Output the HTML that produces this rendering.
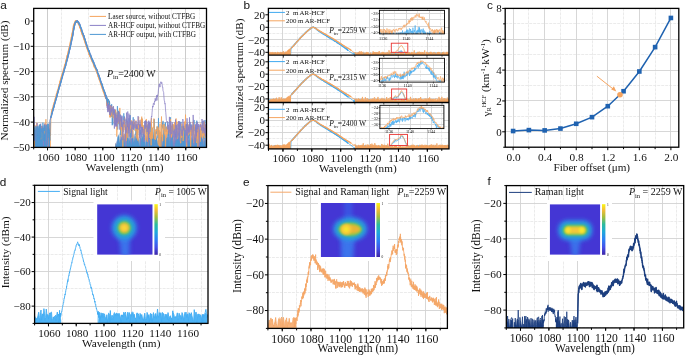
<!DOCTYPE html>
<html><head><meta charset="utf-8"><style>
html,body{margin:0;padding:0;background:#fff;}
svg{display:block;will-change:transform;}
text{fill:#111;}
</style></head><body>
<svg xmlns="http://www.w3.org/2000/svg" width="685" height="356" viewBox="0 0 685 356">
<defs><clipPath id="ca"><rect x="33.7" y="8.4" width="172.8" height="139"/></clipPath>
<clipPath id="cb0"><rect x="268.4" y="8.4" width="180.6" height="46.7"/></clipPath>
<clipPath id="ci0"><rect x="379.4" y="10.3" width="65.1" height="23.6"/></clipPath>
<clipPath id="cb1"><rect x="268.4" y="55.1" width="180.6" height="47.4"/></clipPath>
<clipPath id="ci1"><rect x="379.4" y="58.3" width="65.1" height="23.8"/></clipPath>
<clipPath id="cb2"><rect x="268.4" y="102.5" width="180.6" height="46.4"/></clipPath>
<clipPath id="ci2"><rect x="379.9" y="105.3" width="64" height="23.3"/></clipPath>
<linearGradient id="parula" x1="0" y1="1" x2="0" y2="0"><stop offset="0" stop-color="#3e26a8"/><stop offset="0.15" stop-color="#4450e8"/><stop offset="0.3" stop-color="#2d7ff5"/><stop offset="0.45" stop-color="#1fa8db"/><stop offset="0.6" stop-color="#2bbb9e"/><stop offset="0.75" stop-color="#a5be3c"/><stop offset="0.88" stop-color="#f3ba3a"/><stop offset="1" stop-color="#f9f814"/></linearGradient>
<clipPath id="cd"><rect x="34.6" y="185.3" width="173.4" height="138.1"/></clipPath>
<clipPath id="hmd"><rect x="97.1" y="204.2" width="55.6" height="50.6"/></clipPath>
<filter id="bld" x="-50%" y="-50%" width="200%" height="200%"><feGaussianBlur stdDeviation="2.2"/></filter>
<filter id="bsd" x="-50%" y="-50%" width="200%" height="200%"><feGaussianBlur stdDeviation="1.2"/></filter>
<clipPath id="ce"><rect x="267.9" y="185.6" width="179.5" height="142.8"/></clipPath>
<clipPath id="hme"><rect x="320.7" y="203" width="54.5" height="54"/></clipPath>
<filter id="ble" x="-50%" y="-50%" width="200%" height="200%"><feGaussianBlur stdDeviation="2.2"/></filter>
<filter id="bse" x="-50%" y="-50%" width="200%" height="200%"><feGaussianBlur stdDeviation="1.2"/></filter>
<clipPath id="cf"><rect x="506.3" y="185.6" width="177.4" height="142.3"/></clipPath>
<clipPath id="hmf"><rect x="549.7" y="204.2" width="50.6" height="50.6"/></clipPath>
<filter id="blf" x="-50%" y="-50%" width="200%" height="200%"><feGaussianBlur stdDeviation="2.2"/></filter>
<filter id="bsf" x="-50%" y="-50%" width="200%" height="200%"><feGaussianBlur stdDeviation="1.2"/></filter></defs>
<rect width="685" height="356" fill="#fff"/>
<line x1="61.5" y1="8.4" x2="61.5" y2="147.4" stroke="#e6e6e6" stroke-width="0.8" stroke-dasharray="3,1"/>
<line x1="88.5" y1="8.4" x2="88.5" y2="147.4" stroke="#e6e6e6" stroke-width="0.8" stroke-dasharray="3,1"/>
<line x1="144.5" y1="8.4" x2="144.5" y2="147.4" stroke="#e6e6e6" stroke-width="0.8" stroke-dasharray="3,1"/>
<line x1="171.5" y1="8.4" x2="171.5" y2="147.4" stroke="#e6e6e6" stroke-width="0.8" stroke-dasharray="3,1"/>
<line x1="199.5" y1="8.4" x2="199.5" y2="147.4" stroke="#e6e6e6" stroke-width="0.8" stroke-dasharray="3,1"/>
<line x1="33.7" y1="58.5" x2="206.5" y2="58.5" stroke="#e6e6e6" stroke-width="0.8" stroke-dasharray="3,1"/>
<line x1="33.7" y1="84.5" x2="206.5" y2="84.5" stroke="#e6e6e6" stroke-width="0.8" stroke-dasharray="3,1"/>
<line x1="33.7" y1="109.5" x2="206.5" y2="109.5" stroke="#e6e6e6" stroke-width="0.8" stroke-dasharray="3,1"/>
<line x1="33.7" y1="134.5" x2="206.5" y2="134.5" stroke="#e6e6e6" stroke-width="0.8" stroke-dasharray="3,1"/>
<line x1="47.5" y1="8.4" x2="47.5" y2="147.4" stroke="#c6c6c6" stroke-width="0.9" />
<line x1="130.5" y1="8.4" x2="130.5" y2="147.4" stroke="#c6c6c6" stroke-width="0.9" />
<line x1="158.5" y1="8.4" x2="158.5" y2="147.4" stroke="#c6c6c6" stroke-width="0.9" />
<line x1="185.5" y1="8.4" x2="185.5" y2="147.4" stroke="#c6c6c6" stroke-width="0.9" />
<line x1="33.7" y1="147.5" x2="206.5" y2="147.5" stroke="#c6c6c6" stroke-width="0.9" />
<line x1="33.7" y1="122.5" x2="206.5" y2="122.5" stroke="#c6c6c6" stroke-width="0.9" />
<line x1="33.7" y1="96.5" x2="206.5" y2="96.5" stroke="#c6c6c6" stroke-width="0.9" />
<line x1="33.7" y1="71.5" x2="206.5" y2="71.5" stroke="#c6c6c6" stroke-width="0.9" />
<line x1="33.7" y1="46.5" x2="206.5" y2="46.5" stroke="#c6c6c6" stroke-width="0.9" />
<g clip-path="url(#ca)">
<path d="M33.76,172.67L33.76,151.76L34.07,131.32L34.37,163.7L34.68,131.81L34.98,126.44L35.28,126.93L35.59,128.45L35.89,128.13L36.2,135.86L36.5,133.19L36.8,124.02L37.11,130.4L37.41,128.21L37.72,133.06L38.02,135.03L38.32,129.71L38.63,131.51L38.93,129.69L39.24,126.58L39.54,127.43L39.85,129.37L40.15,125.78L40.45,136.21L40.76,140.61L41.06,135.3L41.37,130.63L41.67,127.23L41.97,140.76L42.28,128.07L42.58,134.23L42.89,142.66L43.19,138.2L43.49,136.06L43.8,135.46L44.1,135.26L44.41,124.77L44.71,134.19L45.02,129.77L45.32,134.22L45.62,132.61L45.93,120.47L46.23,141.5L46.54,125.86L46.84,134.38L47.14,137.01L47.45,127.85L47.75,135.22L48.06,130.25L48.36,152L48.67,129.58L48.97,127.79L49.27,128.12L49.58,126.25L49.88,124.89L50.19,124.23L50.49,137.23L50.79,127.11L50.79,172.67Z" fill="#f5a45c" fill-opacity="1.0"/>
<path d="M115.27,172.67L115.27,144.52L115.57,142.21L115.88,144.27L116.18,143.76L116.49,144.43L116.79,151.8L117.09,138.74L117.4,137.02L117.7,142.65L118.01,139.32L118.31,137.69L118.61,142.29L118.92,144.39L119.22,134.19L119.53,139.06L119.83,157.43L120.14,153.51L120.44,131.82L120.74,137.56L121.05,132.4L121.35,136.3L121.66,142.79L121.96,136.91L122.26,134.41L122.57,133.85L122.87,147.66L123.18,136.28L123.48,134.05L123.78,137.22L124.09,133.95L124.39,133.27L124.7,134.01L125,134.17L125.31,148.81L125.61,143.05L125.91,142.35L126.22,135.12L126.52,140.66L126.83,140.62L127.13,150.06L127.43,147.27L127.74,137.76L128.04,136.17L128.35,151.34L128.65,140.75L128.95,135.27L129.26,137.08L129.56,147.72L129.87,133.12L130.17,132.53L130.48,145.9L130.78,137.28L131.08,144.15L131.39,130.56L131.69,135.98L132,133.74L132.3,137.82L132.6,132.01L132.91,137.49L133.21,135.95L133.52,153.14L133.82,134.44L134.13,135.7L134.43,140.22L134.73,146.9L135.04,134.38L135.34,129.47L135.65,147L135.95,137.67L136.25,133.14L136.56,137.42L136.86,147.56L137.17,137.67L137.47,143.22L137.77,140.54L138.08,140.65L138.38,138.38L138.69,136.73L138.99,133.82L139.3,151.24L139.6,137.46L139.9,145.83L140.21,137.58L140.51,137.36L140.82,143.62L141.12,133.21L141.42,141.54L141.73,135.77L142.03,141.41L142.34,128.25L142.64,141.26L142.94,130.68L143.25,136.18L143.55,133.88L143.86,138.79L144.16,143.49L144.47,138.29L144.77,140.87L145.07,130.54L145.38,150.04L145.68,149.11L145.99,139.87L146.29,138.85L146.59,131.18L146.9,134.57L147.2,141.8L147.51,134.77L147.81,139.5L148.11,132.02L148.42,134.04L148.72,141.52L149.03,138.39L149.33,133.25L149.64,137.32L149.94,143.08L150.24,136.57L150.55,139L150.85,134.81L151.16,145.38L151.46,138.9L151.76,138.53L152.07,135.29L152.37,141.31L152.68,138.47L152.98,137.64L153.29,149.22L153.59,133.5L153.89,136.43L154.2,162.79L154.5,130.28L154.81,139.15L155.11,135.92L155.41,139.89L155.72,150.5L156.02,141.12L156.33,141.77L156.63,138.38L156.93,133.67L157.24,135.77L157.54,143.13L157.85,139.1L158.15,136.03L158.46,141.22L158.76,145.48L159.06,137.54L159.37,147.92L159.67,149.11L159.98,133.8L160.28,140.03L160.58,132.59L160.89,149.13L161.19,138.12L161.5,132.25L161.8,136.29L162.1,137.15L162.41,134.86L162.71,157.47L163.02,143.48L163.32,129.6L163.63,137.28L163.93,131.4L164.23,139.48L164.54,138.74L164.84,142.57L165.15,138.14L165.45,153.63L165.75,145.4L166.06,137.39L166.36,137.82L166.67,137.75L166.97,147.54L167.28,139.39L167.58,141.29L167.88,141.32L168.19,148.94L168.49,132.97L168.8,134.74L169.1,147.86L169.4,144.97L169.71,133.9L170.01,131.77L170.32,132.21L170.62,130.71L170.92,138.08L171.23,152L171.53,137.23L171.84,139.1L172.14,135.19L172.45,137.9L172.75,133.08L173.05,134.18L173.36,136.46L173.66,141.45L173.97,143.56L174.27,141.24L174.57,134.04L174.88,137.8L175.18,134.11L175.49,144.23L175.79,140.04L176.09,139.52L176.4,133.82L176.7,143.36L177.01,138.43L177.31,139.05L177.62,149.67L177.92,136.24L178.22,136.73L178.53,137.06L178.83,144.86L179.14,141.09L179.44,138.25L179.74,144.88L180.05,137.98L180.35,138.41L180.66,143.27L180.96,143.95L181.26,135.92L181.57,137.76L181.87,141.19L182.18,130.7L182.48,140.37L182.79,132.5L183.09,141.06L183.39,144.88L183.7,147.8L184,134.33L184.31,131.19L184.61,136.08L184.91,133.52L185.22,136.85L185.52,134.59L185.83,137.1L186.13,139.41L186.44,142.81L186.74,156.93L187.04,139.98L187.35,134.45L187.65,134.17L187.96,143.69L188.26,139.67L188.56,138.11L188.87,143.11L189.17,138.38L189.48,149.66L189.78,132.15L190.08,153.59L190.39,138.05L190.69,148.77L191,131.89L191.3,147.66L191.61,136.09L191.91,141.81L192.21,135.05L192.52,145.96L192.82,141.23L193.13,144.64L193.43,136.83L193.73,150.05L194.04,139.02L194.34,134.91L194.65,134.03L194.95,137.89L195.25,137.9L195.56,154.02L195.86,136.7L196.17,143.31L196.47,142.85L196.78,129.41L197.08,138.58L197.38,137.04L197.69,142.22L197.99,151.26L198.3,134.88L198.6,139.79L198.9,142.71L199.21,148.48L199.51,137.58L199.82,139.73L200.12,141.73L200.42,136.95L200.73,129.24L201.03,139.59L201.34,145.01L201.64,132.63L201.95,139.43L202.25,137.72L202.55,139.91L202.86,157.24L203.16,137.32L203.47,135.85L203.77,135.92L204.07,147.29L204.38,143.97L204.68,138.65L204.99,144.62L205.29,134.37L205.6,134.02L205.9,142.02L206.2,135.69L206.51,137.9L206.51,172.67Z" fill="#f5a45c" fill-opacity="1.0"/>
<path d="M33.79,172.67L33.79,126.59L34.09,118.03L34.39,142.21L34.7,133.99L35,131.2L35.31,136.74L35.61,141.99L35.91,131.28L36.22,133.65L36.52,128.81L36.83,136.83L37.13,124.34L37.43,131.5L37.74,134.34L38.04,134.1L38.35,135.41L38.65,134.09L38.96,128.07L39.26,127.87L39.56,133.03L39.87,126.29L40.17,137.01L40.48,125.51L40.78,124.92L41.08,128.75L41.39,133.36L41.69,132.03L42,127.15L42.3,132.94L42.6,134.42L42.91,129.46L43.21,134.04L43.52,147.34L43.82,127.55L44.13,127.27L44.43,126.02L44.73,130.53L45.04,125.01L45.34,130.57L45.65,133.1L45.95,138.69L46.25,145.85L46.56,134.79L46.86,125.82L47.17,128.57L47.47,135.43L47.78,143.24L48.08,155.38L48.38,128.16L48.69,133.96L48.99,132.59L49.3,130.93L49.6,135.53L49.6,172.67Z" fill="#8a80c6" fill-opacity="1.0"/>
<path d="M115.29,172.67L115.29,149.77L115.6,142.99L115.9,143.22L116.2,145.33L116.51,144.66L116.81,141.43L117.12,137.43L117.42,141.98L117.72,139.02L118.03,142.13L118.33,134.74L118.64,135.7L118.94,136.82L119.25,143.57L119.55,143.57L119.85,142.63L120.16,126.14L120.46,134.87L120.77,140.4L121.07,137.72L121.37,142.74L121.68,132.67L121.98,135.1L122.29,141.35L122.59,143.87L122.89,144.11L123.2,134.78L123.5,145.68L123.81,133.64L124.11,129.74L124.42,138.37L124.72,139.43L125.02,145.91L125.33,135.7L125.63,149.67L125.94,150.46L126.24,135.44L126.54,132.69L126.85,153.5L127.15,137.37L127.46,130.33L127.76,135.26L128.06,138.51L128.37,138.14L128.67,138.82L128.98,143.22L129.28,140.49L129.59,133.24L129.89,144L130.19,143.34L130.5,138.5L130.8,138.11L131.11,138.34L131.41,135.17L131.71,138.56L132.02,138.12L132.32,139.56L132.63,137.28L132.93,142.21L133.24,141.91L133.54,129.84L133.84,141.82L134.15,141.04L134.45,132.77L134.76,141.16L135.06,139.23L135.36,149.72L135.67,134.87L135.97,132.67L136.28,134.24L136.58,135.37L136.88,130.89L137.19,148.76L137.49,135.32L137.8,134.53L138.1,143.34L138.41,142.14L138.71,142.69L139.01,130.2L139.32,154.23L139.62,152.4L139.93,136.78L140.23,133.29L140.53,132.54L140.84,137.81L141.14,140L141.45,138.22L141.75,143.52L142.05,140.69L142.36,135.1L142.66,139.14L142.97,135L143.27,131.81L143.58,137.02L143.88,141.26L144.18,142.18L144.49,142.45L144.79,137.05L145.1,136.72L145.4,135.16L145.7,147.12L146.01,142.73L146.31,130.03L146.62,136.38L146.92,141.86L147.22,141.59L147.53,138.08L147.83,134.75L148.14,133.74L148.44,144.2L148.75,147.28L149.05,151.95L149.35,145.14L149.66,129.44L149.96,137.21L150.27,131.66L150.57,135.19L150.87,146.54L151.18,143.83L151.48,134.43L151.79,135.73L152.09,131.48L152.4,130.71L152.7,134.05L153,135.15L153.31,142.6L153.61,133.45L153.92,135.67L154.22,135.74L154.52,150.3L154.83,138.59L155.13,134.75L155.44,135.27L155.74,128.34L156.04,133.35L156.35,137.44L156.65,148.46L156.96,135.47L157.26,152.44L157.57,144.15L157.87,146.23L158.17,134.78L158.48,135.73L158.78,133.8L159.09,145.28L159.39,131.06L159.69,138.04L160,146.47L160.3,137.07L160.61,145.17L160.91,141.1L161.21,139.18L161.52,141.21L161.82,134.25L162.13,137.22L162.43,149.38L162.74,136.34L163.04,139.01L163.34,131.89L163.65,136.64L163.95,140.53L164.26,146.95L164.56,135.4L164.86,136.1L165.17,135.02L165.47,137.41L165.78,144.51L166.08,135.83L166.38,129.18L166.69,149.16L166.99,138.3L167.3,130.11L167.6,130.57L167.91,140.48L168.21,131.96L168.51,140.17L168.82,158.21L169.12,137.71L169.43,150.84L169.73,133.27L170.03,137.83L170.34,139.57L170.64,138.24L170.95,134.61L171.25,136.72L171.56,141.16L171.86,137.22L172.16,141.6L172.47,136.85L172.77,135.69L173.08,137.3L173.38,141.78L173.68,144.9L173.99,146.56L174.29,145.48L174.6,137.9L174.9,143.34L175.2,139.73L175.51,139.56L175.81,140.94L176.12,137.82L176.42,143.01L176.73,140.31L177.03,136.03L177.33,140.3L177.64,140.69L177.94,137.32L178.25,139.65L178.55,132.36L178.85,140.65L179.16,129.98L179.46,145.13L179.77,141.42L180.07,141.8L180.37,141.36L180.68,130.61L180.98,142.14L181.29,135.18L181.59,138.5L181.9,135.92L182.2,132.89L182.5,135.54L182.81,147.96L183.11,142.33L183.42,145.18L183.72,134.56L184.02,150.94L184.33,143.19L184.63,138.62L184.94,145.92L185.24,141.56L185.55,139.64L185.85,142.64L186.15,128.22L186.46,135.34L186.76,144.9L187.07,144.62L187.37,144.82L187.67,140.69L187.98,135.71L188.28,136.56L188.59,138.39L188.89,140.76L189.19,151.28L189.5,139.84L189.8,133.97L190.11,136.11L190.41,146.48L190.72,132.91L191.02,140.97L191.32,139.72L191.63,140.39L191.93,138.52L192.24,139.87L192.54,146.37L192.84,135.78L193.15,132.24L193.45,134.25L193.76,142.22L194.06,144.99L194.36,147.02L194.67,140.52L194.97,133.95L195.28,134.03L195.58,132.65L195.89,141.38L196.19,140.21L196.49,139.04L196.8,132.99L197.1,140.95L197.41,147.46L197.71,143.99L198.01,140.77L198.32,133.09L198.62,152.58L198.93,131.92L199.23,148.05L199.53,138.02L199.84,140.89L200.14,140.19L200.45,138.55L200.75,158.8L201.06,132.18L201.36,136.67L201.66,135.31L201.97,138.55L202.27,138.39L202.58,126.96L202.88,142.2L203.18,141.07L203.49,148.58L203.79,134.26L204.1,141.96L204.4,132.85L204.71,136.67L205.01,134.48L205.31,139.87L205.62,153.2L205.92,134.06L206.23,131.92L206.53,136.6L206.53,172.67Z" fill="#8a80c6" fill-opacity="1.0"/>
<path d="M33.77,172.67L33.77,127.12L34.08,134.74L34.38,130.1L34.69,128.87L34.99,141.55L35.29,131.78L35.6,131.38L35.9,127.45L36.21,130.7L36.51,145.01L36.81,148.23L37.12,128.04L37.42,136.65L37.73,138.54L38.03,127.32L38.33,136.97L38.64,129.96L38.94,132.63L39.25,126.09L39.55,127.48L39.86,142.24L40.16,125.3L40.46,139.43L40.77,129.73L41.07,145.9L41.38,139.61L41.68,132.38L41.98,129.71L42.29,137.32L42.59,148.33L42.9,123.97L43.2,137.39L43.51,141.82L43.81,129.14L44.11,132.28L44.42,126.62L44.72,131.78L45.03,132.99L45.33,142.22L45.63,129.85L45.94,126.63L46.24,130.24L46.55,131.81L46.85,134.43L47.15,145.2L47.46,146.15L47.76,125.21L48.07,138.75L48.37,124.96L48.68,134.59L48.98,131.01L49.28,152.05L49.59,133.41L49.89,141.79L49.89,172.67Z" fill="#4e97d3" fill-opacity="1.0"/>
<path d="M115.28,172.67L115.28,149.19L115.58,143.02L115.89,144.01L116.19,145.8L116.5,141.09L116.8,141.75L117.1,145.18L117.41,136.98L117.71,136.29L118.02,135.04L118.32,134.92L118.62,137.46L118.93,134.23L119.23,131.86L119.54,140.72L119.84,143.61L120.15,139.77L120.45,139.59L120.75,142.46L121.06,154.62L121.36,131.83L121.67,135.35L121.97,137.49L122.27,140.44L122.58,136.67L122.88,135.01L123.19,134.65L123.49,136.78L123.79,139.36L124.1,143.84L124.4,141.3L124.71,143.56L125.01,135.31L125.32,146.97L125.62,139.68L125.92,130.86L126.23,132.11L126.53,132.71L126.84,154.93L127.14,137.61L127.44,139.39L127.75,133.78L128.05,141.24L128.36,141.3L128.66,146.16L128.97,140.02L129.27,141.15L129.57,128.98L129.88,141.59L130.18,132.46L130.49,137.75L130.79,143.95L131.09,140.64L131.4,143.7L131.7,145.71L132.01,137.99L132.31,137.82L132.61,139L132.92,134.42L133.22,145.59L133.53,129.84L133.83,144.89L134.14,132.16L134.44,147.21L134.74,134.59L135.05,134.78L135.35,142.53L135.66,131.37L135.96,137.02L136.26,133.63L136.57,142.78L136.87,146.83L137.18,135.75L137.48,139.02L137.78,135.08L138.09,144.47L138.39,140.06L138.7,137.94L139,145.86L139.31,145.47L139.61,135.85L139.91,134.5L140.22,142.04L140.52,152.84L140.83,142.52L141.13,140.89L141.43,131.18L141.74,131.48L142.04,136.03L142.35,138.62L142.65,134.19L142.96,134.16L143.26,138.88L143.56,133.15L143.87,152.58L144.17,137.06L144.48,138.59L144.78,133.12L145.08,140.84L145.39,147.2L145.69,145.98L146,134.95L146.3,138.7L146.6,140.88L146.91,137.44L147.21,151.05L147.52,139.62L147.82,138.56L148.13,157.05L148.43,141.96L148.73,138.08L149.04,133.2L149.34,138.88L149.65,141.95L149.95,135.69L150.25,139.39L150.56,138.67L150.86,152.38L151.17,132.3L151.47,145.36L151.77,133.12L152.08,138.77L152.38,137.46L152.69,136.67L152.99,134.84L153.3,137.43L153.6,141.79L153.9,139.64L154.21,143.86L154.51,141.22L154.82,144.77L155.12,151.56L155.42,141.35L155.73,134.14L156.03,133.3L156.34,136.65L156.64,139.36L156.94,137.81L157.25,143.99L157.55,145.55L157.86,139.33L158.16,135.01L158.47,137.9L158.77,135.42L159.07,149.01L159.38,136.73L159.68,142.23L159.99,142.57L160.29,139.94L160.59,144.87L160.9,141.32L161.2,140.9L161.51,146.38L161.81,134.01L162.12,146.34L162.42,143.65L162.72,139.2L163.03,142.05L163.33,136.13L163.64,146.03L163.94,143.6L164.24,135.32L164.55,152.46L164.85,141.86L165.16,133.79L165.46,158.64L165.76,138.7L166.07,144.53L166.37,135.7L166.68,136.31L166.98,136.94L167.29,136.15L167.59,143.93L167.89,129.75L168.2,140.89L168.5,133.55L168.81,151.51L169.11,134.26L169.41,133.58L169.72,142.43L170.02,158.95L170.33,141.09L170.63,130.61L170.93,143.44L171.24,135.69L171.54,141.23L171.85,133.24L172.15,139.52L172.46,146.99L172.76,131.84L173.06,138.92L173.37,140.93L173.67,145.06L173.98,149.76L174.28,140.56L174.58,140.96L174.89,133.27L175.19,143.76L175.5,140.21L175.8,138.83L176.1,139.66L176.41,131.63L176.71,136.05L177.02,141.03L177.32,132.82L177.63,143.82L177.93,137.46L178.23,135.25L178.54,139.15L178.84,144.35L179.15,139.55L179.45,147.87L179.75,142.23L180.06,141.39L180.36,134.82L180.67,149.45L180.97,133.89L181.28,140.96L181.58,141.55L181.88,142.68L182.19,146.07L182.49,144.92L182.8,140.02L183.1,135.91L183.4,140.66L183.71,132.59L184.01,139.58L184.32,129.7L184.62,132.09L184.92,141.55L185.23,139.19L185.53,133.31L185.84,163.39L186.14,138.34L186.45,135.12L186.75,145.66L187.05,139.02L187.36,136.57L187.66,134.86L187.97,136.98L188.27,142.71L188.57,140.22L188.88,134.08L189.18,143.41L189.49,131.08L189.79,136.41L190.09,137.13L190.4,151.59L190.7,139.16L191.01,131.73L191.31,146.74L191.62,132.36L191.92,138.54L192.22,130.3L192.53,137.22L192.83,139.19L193.14,140.92L193.44,149.66L193.74,144.74L194.05,140.45L194.35,132.88L194.66,136.4L194.96,133.9L195.27,141.72L195.57,133.31L195.87,140.44L196.18,150.08L196.48,136.72L196.79,139.25L197.09,136.53L197.39,133.29L197.7,136.17L198,149.92L198.31,136.13L198.61,138.14L198.91,152.66L199.22,136.22L199.52,135.04L199.83,152.34L200.13,133.9L200.44,140.26L200.74,136.78L201.04,143.65L201.35,138.54L201.65,136.33L201.96,152.81L202.26,132.63L202.56,139.74L202.87,140.33L203.17,146.1L203.48,144.07L203.78,129.43L204.08,138.7L204.39,141.43L204.69,140.84L205,144.26L205.3,136.82L205.61,134.76L205.91,152.78L206.21,148.08L206.52,135.18L206.52,172.67Z" fill="#4e97d3" fill-opacity="1.0"/>
<path d="M33.76,150.5L34.07,130.06L34.37,162.43L34.68,130.54L34.98,125.18L35.28,125.67L35.59,127.18L35.89,126.86L36.2,134.6L36.5,131.93L36.8,122.76L37.11,129.14L37.41,126.94L37.72,131.8L38.02,133.77L38.32,128.44L38.63,130.25L38.93,128.43L39.24,125.31L39.54,126.16L39.85,128.1L40.15,124.52L40.45,134.94L40.76,139.35L41.06,134.03L41.37,129.37L41.67,125.97L41.97,139.5L42.28,126.81L42.58,132.97L42.89,141.4L43.19,136.94L43.49,134.8L43.8,134.2L44.1,134L44.41,123.51L44.71,132.93L45.02,128.51L45.32,132.96L45.62,131.35L45.93,119.21L46.23,140.24L46.54,124.6L46.84,133.11L47.14,135.74L47.45,126.59L47.75,133.96L48.06,128.98L48.36,150.74L48.67,128.31L48.97,126.53L49.27,126.86L49.58,124.98L49.88,123.63L50.19,122.96L50.49,135.97L50.79,125.85L51.1,113.62L51.4,113.11L51.71,111.58L52.01,110.29L52.31,109.55L52.62,108.27L52.92,107.85L53.23,106.48L53.53,104.81L53.84,104.43L54.14,102.66L54.44,102.36L54.75,101.09L55.05,100.08L55.36,98.58L55.66,97.29L55.96,96.82L56.27,95.4L56.57,93.63L56.88,93.28L57.18,92.39L57.48,90.85L57.79,90L58.09,89.09L58.4,88.42L58.7,86.35L59.01,85.79L59.31,84.49L59.61,83.81L59.92,81.83L60.22,80.95L60.53,79.78L60.83,79.11L61.13,77.81L61.44,76.59L61.74,75.47L62.05,74.68L62.35,73.77L62.66,72.83L62.96,71.92L63.26,70.95L63.57,69.39L63.87,68.56L64.18,68.16L64.48,66.4L64.78,64.86L65.09,64.28L65.39,63.78L65.7,62.02L66,60.56L66.3,59.65L66.61,58.75L66.91,56.72L67.22,55.53L67.52,55.09L67.83,53.52L68.13,52.43L68.43,51.01L68.74,49.46L69.04,48.37L69.35,47.3L69.65,46.21L69.95,44.87L70.26,43.14L70.56,41.23L70.87,40.07L71.17,38.65L71.47,37.04L71.78,35.57L72.08,33.74L72.39,32.58L72.69,31.07L73,28.73L73.3,27.44L73.6,25.13L73.91,24.68L74.21,23.71L74.52,23.37L74.82,22.09L75.12,21.94L75.43,20.87L75.73,20.74L76.04,21.35L76.34,21.04L76.64,22.44L76.95,21.91L77.25,21.46L77.56,22L77.86,22.66L78.17,23.22L78.47,24.32L78.77,24.95L79.08,25.07L79.38,25.24L79.69,27.5L79.99,27.29L80.29,28.19L80.6,28.98L80.9,30.61L81.21,31.4L81.51,32.08L81.82,33.35L82.12,34.27L82.42,34.97L82.73,35.49L83.03,36.15L83.34,37.15L83.64,37.99L83.94,39.18L84.25,40.14L84.55,40.44L84.86,41.9L85.16,42.93L85.46,43.56L85.77,44.43L86.07,45.36L86.38,46.57L86.68,47.6L86.99,48.31L87.29,49.17L87.59,49.51L87.9,50.71L88.2,51.36L88.51,52.37L88.81,52.6L89.11,54.64L89.42,54.46L89.72,55.05L90.03,56.52L90.33,56L90.63,57.6L90.94,58.35L91.24,59.44L91.55,59.44L91.85,60.41L92.16,61.44L92.46,61.84L92.76,62.37L93.07,62.87L93.37,63.95L93.68,65.09L93.98,65.63L94.28,67L94.59,67.11L94.89,67.26L95.2,68.08L95.5,69.03L95.8,69.86L96.11,69.88L96.41,71.14L96.72,71.69L97.02,72.69L97.33,73.92L97.63,73.92L97.93,75.84L98.24,76.7L98.54,77.3L98.85,78.3L99.15,79.14L99.45,80.05L99.76,80.35L100.06,81.6L100.37,82.37L100.67,83.99L100.98,84.59L101.28,84.75L101.58,86.51L101.89,86.5L102.19,88.24L102.5,88.63L102.8,89.96L103.1,90.45L103.41,91.75L103.71,92.38L104.02,92.52L104.32,94.13L104.62,93.78L104.93,95.89L105.23,97.16L105.54,97.17L105.84,98.34L106.15,97.62L106.45,98.54L106.75,99.72L107.06,105.65L107.36,98.67L107.67,101.22L107.97,101.59L108.27,103.94L108.58,108.06L108.88,106.87L109.19,111.02L109.49,105.58L109.79,109.17L110.1,117.37L110.4,105.72L110.71,115.92L111.01,116.54" fill="none" stroke="#f5a45c" stroke-width="0.75" stroke-linejoin="round" />
<path d="M33.79,125.32L34.09,116.77L34.39,140.95L34.7,132.72L35,129.94L35.31,135.48L35.61,140.73L35.91,130.02L36.22,132.39L36.52,127.54L36.83,135.57L37.13,123.07L37.43,130.24L37.74,133.07L38.04,132.84L38.35,134.15L38.65,132.83L38.96,126.8L39.26,126.61L39.56,131.76L39.87,125.03L40.17,135.75L40.48,124.25L40.78,123.66L41.08,127.49L41.39,132.1L41.69,130.76L42,125.89L42.3,131.68L42.6,133.16L42.91,128.2L43.21,132.78L43.52,146.08L43.82,126.29L44.13,126.01L44.43,124.75L44.73,129.27L45.04,123.75L45.34,129.31L45.65,131.84L45.95,137.43L46.25,144.59L46.56,133.53L46.86,124.56L47.17,127.31L47.47,134.17L47.78,141.97L48.08,154.12L48.38,126.9L48.69,132.69L48.99,131.32L49.3,129.67L49.6,134.26L49.9,120.75L50.21,119.61L50.51,118.26L50.82,117.24L51.12,116.5L51.42,115.89L51.73,114.65L52.03,113.32L52.34,112.09L52.64,111.13L52.95,109.76L53.25,109.27L53.55,108.07L53.86,107.32L54.16,104.98L54.47,104.72L54.77,103.21L55.07,102.02L55.38,101.28L55.68,100.4L55.99,99.44L56.29,98.26L56.59,97.74L56.9,96.2L57.2,94.62L57.51,93.72L57.81,92.43L58.12,91.36L58.42,90.31L58.72,89.45L59.03,88.34L59.33,86.97L59.64,86.38L59.94,85.68L60.24,83.76L60.55,82.98L60.85,81.49L61.16,81.07L61.46,80.37L61.76,78.72L62.07,77.83L62.37,76.89L62.68,74.87L62.98,74.3L63.29,73.8L63.59,72.91L63.89,71.28L64.2,69.96L64.5,69.02L64.81,67.62L65.11,66.88L65.41,65.75L65.72,65.58L66.02,63.27L66.33,62.88L66.63,61.2L66.94,61.03L67.24,59.64L67.54,57.7L67.85,57.45L68.15,55.73L68.46,54.74L68.76,52.7L69.06,51.96L69.37,50.33L69.67,49.53L69.98,48.83L70.28,46.05L70.58,45.66L70.89,44.01L71.19,42.6L71.5,41.72L71.8,39.35L72.11,38.25L72.41,37.24L72.71,35.57L73.02,34.17L73.32,31.79L73.63,29.75L73.93,28.34L74.23,26.52L74.54,25.46L74.84,24.04L75.15,23.28L75.45,22.6L75.75,22.31L76.06,21.99L76.36,21.52L76.67,20.88L76.97,21.27L77.28,20.69L77.58,21.17L77.88,22.25L78.19,21.87L78.49,21.95L78.8,23.12L79.1,22.91L79.4,24.26L79.71,24.06L80.01,25.19L80.32,26.24L80.62,27.59L80.93,27.86L81.23,29.02L81.53,29.52L81.84,30.93L82.14,31.32L82.45,32.57L82.75,33.02L83.05,33.76L83.36,34.84L83.66,35.54L83.97,36.15L84.27,37.79L84.57,38.08L84.88,39.13L85.18,39.58L85.49,41.27L85.79,41.84L86.1,43.89L86.4,43.77L86.7,45.06L87.01,45.99L87.31,46.67L87.62,48.34L87.92,48.77L88.22,49.47L88.53,50.42L88.83,51.28L89.14,51.48L89.44,52.6L89.74,53.45L90.05,54.09L90.35,54.34L90.66,54.87L90.96,55.9L91.27,56.86L91.57,58.3L91.87,58.75L92.18,59.63L92.48,60.37L92.79,60.28L93.09,61.68L93.39,61.63L93.7,62.82L94,63.61L94.31,64.33L94.61,65.5L94.91,65.81L95.22,66.03L95.52,66.8L95.83,67.71L96.13,68.23L96.44,69.17L96.74,69.82L97.04,69.81L97.35,71.45L97.65,72.96L97.96,73.92L98.26,74.22L98.56,74.71L98.87,75.28L99.17,76.55L99.48,77.38L99.78,78.09L100.09,79.59L100.39,80.14L100.69,80.89L101,82.06L101.3,83.12L101.61,83.48L101.91,84.14L102.21,85.43L102.52,87.24L102.82,87.55L103.13,88.3L103.43,88.87L103.73,90.11L104.04,90.99L104.34,91.37L104.65,92.11L104.95,93.15L105.26,95.1L105.56,96.52L105.86,95L106.17,98.7L106.47,96.98L106.78,98.28L107.08,99.23L107.38,107.84L107.69,102.97L107.99,111.69L108.3,105.38L108.6,102.25L108.9,109.78L109.21,105.26L109.51,107.23L109.82,114.73L110.12,108.4L110.43,112.37L110.73,115.64L111.03,105.01" fill="none" stroke="#8a80c6" stroke-width="0.75" stroke-linejoin="round" />
<path d="M33.77,125.86L34.08,133.48L34.38,128.84L34.69,127.6L34.99,140.29L35.29,130.52L35.6,130.12L35.9,126.19L36.21,129.44L36.51,143.74L36.81,146.97L37.12,126.78L37.42,135.39L37.73,137.27L38.03,126.06L38.33,135.71L38.64,128.7L38.94,131.37L39.25,124.83L39.55,126.22L39.86,140.97L40.16,124.04L40.46,138.16L40.77,128.47L41.07,144.64L41.38,138.34L41.68,131.12L41.98,128.45L42.29,136.06L42.59,147.07L42.9,122.71L43.2,136.13L43.51,140.55L43.81,127.87L44.11,131.01L44.42,125.35L44.72,130.51L45.03,131.72L45.33,140.95L45.63,128.59L45.94,125.37L46.24,128.98L46.55,130.55L46.85,133.16L47.15,143.94L47.46,144.89L47.76,123.95L48.07,137.49L48.37,123.69L48.68,133.32L48.98,129.75L49.28,150.79L49.59,132.15L49.89,140.52L50.2,120.21L50.5,118.64L50.8,117.87L51.11,116.35L51.41,115.68L51.72,113.85L52.02,113.68L52.32,112.44L52.63,110.92L52.93,110.15L53.24,108.74L53.54,107.72L53.85,106.59L54.15,106.32L54.45,104.42L54.76,103.65L55.06,102.47L55.37,101.83L55.67,100.23L55.97,99.02L56.28,98.11L56.58,96.97L56.89,96.01L57.19,95.07L57.5,93.72L57.8,92.89L58.1,91.78L58.41,90.48L58.71,89.2L59.02,87.82L59.32,86.97L59.62,86.28L59.93,85.53L60.23,84.01L60.54,83.44L60.84,82.35L61.14,81.6L61.45,79.33L61.75,78.29L62.06,78.05L62.36,76.53L62.67,75.38L62.97,73.87L63.27,72.86L63.58,72.68L63.88,71.17L64.19,70.84L64.49,69.23L64.79,68.11L65.1,67.17L65.4,66.42L65.71,65.04L66.01,63.01L66.31,62.96L66.62,61.61L66.92,60.13L67.23,59.04L67.53,58.35L67.84,56.49L68.14,55.32L68.44,54.57L68.75,53.3L69.05,52.2L69.36,50.67L69.66,49.46L69.96,47.81L70.27,47.52L70.57,45.15L70.88,44.14L71.18,42.1L71.48,40.73L71.79,39.75L72.09,38.18L72.4,36.81L72.7,35.45L73.01,33.45L73.31,31.26L73.61,29.84L73.92,28.54L74.22,26.57L74.53,25.78L74.83,24.26L75.13,23.07L75.44,22.21L75.74,21.59L76.05,21.87L76.35,22.16L76.66,21.04L76.96,21.17L77.26,20.97L77.57,21.22L77.87,21.83L78.18,22.01L78.48,22.09L78.78,23.12L79.09,24.19L79.39,23.84L79.7,24.59L80,25.58L80.3,25.65L80.61,26.98L80.91,28.07L81.22,28.62L81.52,28.97L81.83,30.98L82.13,31.17L82.43,32.85L82.74,32.96L83.04,34.24L83.35,35.05L83.65,35.46L83.95,35.61L84.26,38.08L84.56,38.38L84.87,39.52L85.17,39.73L85.47,41.15L85.78,42.53L86.08,42.9L86.39,43.98L86.69,45.25L87,45.82L87.3,46.87L87.6,47.49L87.91,49.09L88.21,49.25L88.52,49.93L88.82,51.4L89.12,50.5L89.43,52.02L89.73,53.25L90.04,54.3L90.34,54.92L90.64,55.58L90.95,56.13L91.25,57.54L91.56,58.2L91.86,58.02L92.17,59.77L92.47,59.24L92.77,60.78L93.08,61.99L93.38,62.48L93.69,62.21L93.99,63.46L94.29,64.64L94.6,64.46L94.9,65.45L95.21,66.58L95.51,67.47L95.82,68.35L96.12,68.47L96.42,69.02L96.73,69.38L97.03,70.12L97.34,71.1L97.64,72.83L97.94,73.31L98.25,73.72L98.55,74.86L98.86,75.59L99.16,76.68L99.46,77.4L99.77,77.91L100.07,78.99L100.38,80.63L100.68,81.16L100.99,82.32L101.29,83.39L101.59,83.28L101.9,84.54L102.2,84.49L102.51,86.06L102.81,87.02L103.11,88.3L103.42,89.28L103.72,89.6L104.03,90.98L104.33,91.17L104.63,92.33L104.94,92.97L105.24,94.09L105.55,95.52L105.85,95.67L106.16,97.77L106.46,98.52L106.76,97.69L107.07,100.33L107.37,101.51L107.68,102.76L107.98,102.1L108.28,98.98L108.59,107.89L108.89,105.07L109.2,100.76L109.5,101.62L109.81,106.42L110.11,112.71L110.41,109.31L110.72,110.9L111.02,116.7" fill="none" stroke="#4e97d3" stroke-width="0.75" stroke-linejoin="round" />
<path d="M108.59,107.89L108.89,105.07L109.2,100.76L109.5,101.62L109.81,106.42L110.11,112.71L110.41,109.31L110.72,110.9L111.02,116.7L111.33,111.14L111.63,104.2L111.93,106.35L112.24,125.23L112.54,110.23L112.85,124.38L113.15,108.95L113.45,113.11L113.76,110.1L114.06,114.66L114.37,110.52L114.67,114.15L114.98,124.37L115.28,110.2L115.58,124.8L115.89,112.52L116.19,112.66L116.5,116.41L116.8,121.46L117.1,121.57L117.41,106.13L117.71,129.54L118.02,123.07L118.32,117.31L118.62,110.71L118.93,124.19L119.23,116.78L119.54,123.23L119.84,125.62L120.15,114.42L120.45,128.36L120.75,134.96L121.06,118.92L121.36,125.84L121.67,116.41L121.97,129.21L122.27,123.56L122.58,129.07L122.88,125.24L123.19,128.37L123.49,131.66L123.79,113.31L124.1,127.38L124.4,116.6L124.71,118.01L125.01,123.83L125.32,126.02L125.62,139.68L125.92,128.61L126.23,118.92L126.53,122.42L126.84,120.75L127.14,137.61L127.44,126.5L127.75,131.29L128.05,141.24L128.36,123.82L128.66,130.6L128.97,118.18L129.27,124.46L129.57,127.61L129.88,128.31L130.18,115.14L130.49,137.75L130.79,128.48L131.09,133.46L131.4,133.57L131.7,127.64L132.01,137.47L132.31,129.94L132.61,121.72L132.92,121.55L133.22,117.24L133.53,125.6L133.83,123.71L134.14,122.61L134.44,126.36L134.74,126.41L135.05,130.61L135.35,124.1L135.66,129.86L135.96,135L136.26,125.28L136.57,125.92L136.87,146.83L137.18,126.76L137.48,128.92L137.78,135.08L138.09,124.89L138.39,122.2L138.7,129.94L139,127.4L139.31,124.52L139.61,135.85L139.91,130.94L140.22,129.67L140.52,134.45L140.83,129.38L141.13,128.21L141.43,128.09L141.74,118.49L142.04,123.17L142.35,120.92L142.65,132.31L142.96,126.77L143.26,135.59L143.56,132.22L143.87,152.58L144.17,125.29L144.48,136.97L144.78,131.01L145.08,121.1L145.39,129.1L145.69,128.42L146,125.32L146.3,132.19L146.6,125.53L146.91,133.88L147.21,131.52L147.52,127.3L147.82,138.56L148.13,124.81L148.43,141.96L148.73,123.19L149.04,126.12L149.34,138.88L149.65,132.33L149.95,128.03L150.25,126.51L150.56,138.67L150.86,130.2L151.17,124.22L151.47,145.36L151.77,133.12L152.08,129.08L152.38,128.19L152.69,127.99L152.99,131.69L153.3,133.05L153.6,141.02L153.9,139.64L154.21,119.12L154.51,129.16L154.82,144.77L155.12,136.19L155.42,132.32L155.73,134.14L156.03,133.3L156.34,129.03L156.64,133.77L156.94,126.61L157.25,126.8L157.55,129.06L157.86,138.31L158.16,130.33L158.47,118.15L158.77,135.42L159.07,149.01L159.38,131.77L159.68,142.23L159.99,142.57L160.29,139.94L160.59,144.87L160.9,134.71L161.2,140.77L161.51,134.66L161.81,124.91L162.12,127.04L162.42,122.67L162.72,128.37L163.03,120.89L163.33,132.67L163.64,146.03L163.94,128.46L164.24,123.7L164.55,144.02L164.85,137.01L165.16,126.59L165.46,122.37L165.76,128.68L166.07,131.86L166.37,127.22L166.68,131.53L166.98,127.33L167.29,126.88L167.59,124.87L167.89,122.11L168.2,135.7L168.5,130.1L168.81,148.13L169.11,129.56L169.41,132.12L169.72,130.85L170.02,128.79L170.33,117.22L170.63,129.82L170.93,138.53L171.24,128.13L171.54,126.07L171.85,133.24L172.15,139.49L172.46,130.62L172.76,130.8L173.06,125.41L173.37,125.41L173.67,131.39L173.98,130.85L174.28,125.28L174.58,134.92L174.89,128.36L175.19,143.76L175.5,131.9L175.8,137.32L176.1,133.84L176.41,124.5L176.71,129.45L177.02,127.86L177.32,132.82L177.63,143.82L177.93,131.01L178.23,134.7L178.54,130.29L178.84,144.35L179.15,139.55L179.45,147.87L179.75,129.35L180.06,141.39L180.36,128.14L180.67,127.91L180.97,121.8L181.28,140.96L181.58,141.55L181.88,126.03L182.19,134.47L182.49,144.92L182.8,125.74L183.1,133.7L183.4,126.51L183.71,132.59L184.01,139.47L184.32,125.77L184.62,132.09L184.92,141.55L185.23,138.62L185.53,124.49L185.84,138.44L186.14,133.6L186.45,130.33L186.75,124.09L187.05,139.02L187.36,123.27L187.66,127.2L187.97,135.91L188.27,128.63L188.57,138.5L188.88,134.08L189.18,131.62L189.49,124.25L189.79,136.41L190.09,125.98L190.4,125.75L190.7,124.44L191.01,131.73L191.31,135.41L191.62,127.15L191.92,124.54L192.22,127.34L192.53,131.37L192.83,127.23L193.14,125.66L193.44,134.87L193.74,129.69L194.05,119.97L194.35,130.75L194.66,128.63L194.96,126.83L195.27,127.53L195.57,133.31L195.87,127.36L196.18,140.33L196.48,134.05L196.79,120.64L197.09,131.85L197.39,131.17L197.7,136.17L198,137.45L198.31,136.13L198.61,126.56L198.91,129.5L199.22,131.56L199.52,130.47L199.83,130.83L200.13,133.9L200.44,140.26L200.74,128.92L201.04,143.32L201.35,130.43L201.65,125.83L201.96,130.3L202.26,126.57L202.56,124.4L202.87,120.8L203.17,134.1L203.48,128.07L203.78,127.04L204.08,138.7L204.39,135.5L204.69,127.96L205,120.09L205.3,136.82L205.61,134.76L205.91,137.27L206.21,141.3L206.52,133.95" fill="none" stroke="#4e97d3" stroke-width="0.75" stroke-linejoin="round" />
<path d="M108.58,108.06L108.88,106.87L109.19,111.02L109.49,105.58L109.79,109.17L110.1,117.37L110.4,105.72L110.71,115.92L111.01,116.54L111.32,113.51L111.62,116L111.92,106.48L112.23,113.43L112.53,114.38L112.84,115.32L113.14,118.15L113.44,116.34L113.75,114.15L114.05,113.01L114.36,122.97L114.66,118.05L114.97,122L115.27,120.76L115.57,109.68L115.88,111.71L116.18,117.29L116.49,116.26L116.79,136.51L117.09,129.95L117.4,111.7L117.7,115.77L118.01,119.64L118.31,123.35L118.61,123.29L118.92,117.44L119.22,121.55L119.53,119.24L119.83,107.91L120.14,128.76L120.44,117.88L120.74,118.55L121.05,130.37L121.35,125.32L121.66,134.25L121.96,136.91L122.26,127.55L122.57,131.43L122.87,147.66L123.18,123.47L123.48,131.51L123.78,120.21L124.09,121.6L124.39,125.68L124.7,117.7L125,130.18L125.31,125.28L125.61,140.9L125.91,125.11L126.22,127.91L126.52,140.66L126.83,120.67L127.13,133.16L127.43,123.5L127.74,137.76L128.04,123.92L128.35,126.11L128.65,129.59L128.95,126.02L129.26,126.88L129.56,122.49L129.87,133.12L130.17,125.39L130.48,128.35L130.78,128.92L131.08,120.8L131.39,120.2L131.69,127.9L132,130.72L132.3,125.66L132.6,129.92L132.91,137.49L133.21,120.82L133.52,127.34L133.82,123.71L134.13,122.05L134.43,124.23L134.73,123.71L135.04,123.61L135.34,126.74L135.65,130.93L135.95,120.49L136.25,132.36L136.56,137.42L136.86,138.47L137.17,128.65L137.47,130.73L137.77,140.54L138.08,123.26L138.38,127.76L138.69,116.85L138.99,133.08L139.3,133.41L139.6,129L139.9,128.55L140.21,125.1L140.51,122.68L140.82,121.55L141.12,119.35L141.42,127.07L141.73,116.63L142.03,133.07L142.34,118.73L142.64,126.22L142.94,125.81L143.25,127.05L143.55,133.88L143.86,125.31L144.16,126.57L144.47,134.84L144.77,128.19L145.07,126.55L145.38,133.81L145.68,140.39L145.99,133.5L146.29,118.94L146.59,122.05L146.9,126.02L147.2,141.8L147.51,134.77L147.81,124.35L148.11,129.95L148.42,134.04L148.72,128.83L149.03,138.05L149.33,133.25L149.64,127.16L149.94,132.48L150.24,136.3L150.55,139L150.85,132.15L151.16,145.38L151.46,117.92L151.76,138.53L152.07,128.16L152.37,131.55L152.68,138.47L152.98,126.9L153.29,128.07L153.59,127.67L153.89,118.54L154.2,126.58L154.5,128.29L154.81,139.15L155.11,129.78L155.41,139.89L155.72,136.23L156.02,134.08L156.33,129.44L156.63,130.88L156.93,128.03L157.24,126.26L157.54,135.17L157.85,131.27L158.15,127.42L158.46,141.22L158.76,145.48L159.06,137.19L159.37,130.09L159.67,149.11L159.98,123.61L160.28,136.33L160.58,131.8L160.89,149.13L161.19,126.45L161.5,116.47L161.8,130.7L162.1,137.15L162.41,134.86L162.71,141.12L163.02,124.59L163.32,128.89L163.63,130.36L163.93,128.27L164.23,123.93L164.54,134.37L164.84,130.4L165.15,129.58L165.45,153.63L165.75,137.52L166.06,126.38L166.36,137.82L166.67,129.99L166.97,128.37L167.28,128.57L167.58,134.44L167.88,131.61L168.19,127.11L168.49,128.65L168.8,130.42L169.1,126.5L169.4,132.2L169.71,133.9L170.01,125.16L170.32,123.97L170.62,119.16L170.92,137.59L171.23,125.47L171.53,137.23L171.84,127.73L172.14,135.19L172.45,123.92L172.75,130.76L173.05,124.17L173.36,124.12L173.66,128.34L173.97,132.66L174.27,141.24L174.57,122.17L174.88,133.86L175.18,131.99L175.49,125.42L175.79,127.75L176.09,118.44L176.4,122.83L176.7,128.96L177.01,121.67L177.31,139.05L177.62,137.89L177.92,135.78L178.22,128.24L178.53,132.97L178.83,130.98L179.14,125.14L179.44,126.26L179.74,131.58L180.05,131.8L180.35,130.65L180.66,143.27L180.96,135.56L181.26,133.11L181.57,137.76L181.87,123.69L182.18,123.61L182.48,134.9L182.79,127.71L183.09,141.06L183.39,138.13L183.7,130.55L184,130.32L184.31,129.08L184.61,121.57L184.91,125.87L185.22,130.16L185.52,114.63L185.83,122.28L186.13,132.59L186.44,135.22L186.74,156.93L187.04,125.85L187.35,131.64L187.65,126.58L187.96,123.98L188.26,134.98L188.56,135.23L188.87,128.08L189.17,125.71L189.48,124.94L189.78,131.56L190.08,134.03L190.39,129.56L190.69,148.77L191,128.39L191.3,129.77L191.61,136.09L191.91,134.43L192.21,126.45L192.52,131.18L192.82,132.92L193.13,121.73L193.43,132.02L193.73,143.12L194.04,124.53L194.34,127.25L194.65,127.15L194.95,137.43L195.25,137.9L195.56,132.43L195.86,131.73L196.17,134.15L196.47,142.85L196.78,129.41L197.08,138.58L197.38,137.04L197.69,126.14L197.99,151.26L198.3,126.25L198.6,137.67L198.9,142.71L199.21,130.6L199.51,137.28L199.82,129.94L200.12,141.73L200.42,123.6L200.73,129.24L201.03,137.36L201.34,132.81L201.64,125.36L201.95,129.86L202.25,129.09L202.55,138.23L202.86,130.4L203.16,123.12L203.47,135.85L203.77,135.92L204.07,123.62L204.38,121.81L204.68,137.78L204.99,134.11L205.29,124.9L205.6,130.78L205.9,129.53L206.2,127.35L206.51,130.25" fill="none" stroke="#f5a45c" stroke-width="0.75" stroke-linejoin="round" />
<path d="M108.6,102.25L108.9,109.78L109.21,105.26L109.51,107.23L109.82,114.73L110.12,108.4L110.43,112.37L110.73,115.64L111.03,105.01L111.34,112.36L111.64,108.67L111.95,109.05L112.25,110.77L112.55,109.54L112.86,107.11L113.16,114.66L113.47,106.14L113.77,113.2L114.07,113.83L114.38,128.62L114.68,108.94L114.99,114.94L115.29,126.52L115.6,113.62L115.9,119.96L116.2,126.14L116.51,117.82L116.81,126.51L117.12,114.93L117.42,122.89L117.72,111.74L118.03,114.13L118.33,116.23L118.64,121.32L118.94,122.52L119.25,111.61L119.55,114.73L119.85,129.7L120.16,120.1L120.46,115.16L120.77,115.07L121.07,121.35L121.37,117.02L121.68,126.99L121.98,115.66L122.29,117.04L122.59,126.68L122.89,140.23L123.2,125.77L123.5,122.27L123.81,124.1L124.11,118.57L124.42,116.75L124.72,120.67L125.02,119.86L125.33,130.98L125.63,149.67L125.94,126.79L126.24,132.58L126.54,112.64L126.85,122.44L127.15,121.26L127.46,127.05L127.76,111.53L128.06,133.44L128.37,126.49L128.67,128.77L128.98,113.6L129.28,136.67L129.59,122.94L129.89,115.36L130.19,121.32L130.5,122.05L130.8,124.73L131.11,121.28L131.41,129.94L131.71,136.81L132.02,124.21L132.32,121.48L132.63,122.84L132.93,129L133.24,124.3L133.54,129.84L133.84,125.89L134.15,119.3L134.45,127.3L134.76,127.84L135.06,128.4L135.36,127.68L135.67,127.13L135.97,121L136.28,127.33L136.58,128.83L136.88,124.13L137.19,129.24L137.49,125.22L137.8,123.33L138.1,116.15L138.41,124.26L138.71,125.05L139.01,124.9L139.32,124.53L139.62,138.1L139.93,120.29L140.23,128.39L140.53,124.42L140.84,125.73L141.14,136.83L141.45,127.02L141.75,126.99L142.05,134.7L142.36,127.04L142.66,130.19L142.97,130.1L143.27,129.38L143.58,137.02L143.88,141.26L144.18,142.03L144.49,127.86L144.79,121.58L145.1,125.66L145.4,128.37L145.7,120.2L146.01,123.29L146.31,121.38L146.62,126.74L146.92,126.08L147.22,132.02L147.53,125.62L147.83,125.29L148.14,121.5L148.44,142.39L148.75,120.62L149.05,134.02L149.35,121.75L149.66,128.54L149.96,122.52L150.27,126.16L150.57,122.42L150.87,120.7L151.18,119.07L151.48,116.11L151.79,116.85L152.09,112.25L152.4,108.82L152.7,105.98L153,107.14L153.31,103.35L153.61,103.07L153.92,103.85L154.22,104.77L154.52,101.1L154.83,101.74L155.13,98.31L155.44,98.84L155.74,101.06L156.04,99.03L156.35,97.26L156.65,95.34L156.96,100.45L157.26,95.16L157.57,96.95L157.87,94.07L158.17,93.43L158.48,88.98L158.78,88.13L159.09,84.39L159.39,83.8L159.69,85.83L160,87.08L160.3,83.26L160.61,83.05L160.91,81.69L161.21,83.05L161.52,83.54L161.82,82.44L162.13,84.46L162.43,87.2L162.74,86.96L163.04,90.71L163.34,91.46L163.65,92.39L163.95,96.97L164.26,100.68L164.56,100.82L164.86,104.12L165.17,103.46L165.47,108.96L165.78,112.45L166.08,116L166.38,120.34L166.69,120.92L166.99,122.26L167.3,121.28L167.6,127.17L167.91,129.48L168.21,124.69L168.51,125.03L168.82,132.76L169.12,125.21L169.43,116.87L169.73,130.86L170.03,137.83L170.34,139.57L170.64,121.27L170.95,130.82L171.25,134.16L171.56,131.67L171.86,129.1L172.16,122.26L172.47,131.27L172.77,132.06L173.08,137.3L173.38,130.88L173.68,134.57L173.99,146.56L174.29,129.34L174.6,132.07L174.9,143.34L175.2,128.38L175.51,119.48L175.81,133.45L176.12,137.82L176.42,125.13L176.73,140.31L177.03,136.03L177.33,127.75L177.64,127.07L177.94,123.74L178.25,136.44L178.55,121.09L178.85,127.29L179.16,129.9L179.46,121.24L179.77,141.42L180.07,122.13L180.37,122.1L180.68,125.51L180.98,126.72L181.29,131.22L181.59,133.78L181.9,135.92L182.2,129.83L182.5,135.54L182.81,119.02L183.11,121.5L183.42,123.06L183.72,130.29L184.02,129.91L184.33,128.28L184.63,128.95L184.94,131.5L185.24,130.37L185.55,139.64L185.85,142.64L186.15,124.37L186.46,135.34L186.76,133.94L187.07,118.32L187.37,144.82L187.67,134.25L187.98,124.73L188.28,131.69L188.59,126.63L188.89,133.35L189.19,129.52L189.5,117.33L189.8,131.86L190.11,121.9L190.41,123.82L190.72,123.67L191.02,129.83L191.32,127.46L191.63,125.5L191.93,138.52L192.24,139.87L192.54,132.87L192.84,128.69L193.15,114.93L193.45,120.53L193.76,135.84L194.06,144.99L194.36,139.6L194.67,140.52L194.97,131.24L195.28,128.79L195.58,124.46L195.89,141.38L196.19,123.36L196.49,136.29L196.8,130.88L197.1,132.17L197.41,121.81L197.71,129.26L198.01,125.56L198.32,127.01L198.62,123.94L198.93,127.85L199.23,148.05L199.53,132.31L199.84,124.7L200.14,127.16L200.45,126.33L200.75,124.36L201.06,127.01L201.36,128.13L201.66,130.45L201.97,119L202.27,122.32L202.58,126.96L202.88,133.22L203.18,127.28L203.49,131.17L203.79,120.57L204.1,125.11L204.4,130.49L204.71,133.09L205.01,128.04L205.31,135.9L205.62,124.43L205.92,126.57L206.23,124.88L206.53,128.91" fill="none" stroke="#8a80c6" stroke-width="0.75" stroke-linejoin="round" />
<path d="M51.4,113.11L51.71,111.58L52.01,110.29L52.31,109.55L52.62,108.27L52.92,107.85L53.23,106.48L53.53,104.81L53.84,104.43L54.14,102.66L54.44,102.36L54.75,101.09L55.05,100.08L55.36,98.58L55.66,97.29L55.96,96.82L56.27,95.4L56.57,93.63L56.88,93.28L57.18,92.39L57.48,90.85L57.79,90L58.09,89.09L58.4,88.42L58.7,86.35L59.01,85.79L59.31,84.49L59.61,83.81L59.92,81.83L60.22,80.95L60.53,79.78L60.83,79.11L61.13,77.81L61.44,76.59L61.74,75.47L62.05,74.68L62.35,73.77L62.66,72.83L62.96,71.92L63.26,70.95L63.57,69.39L63.87,68.56L64.18,68.16L64.48,66.4L64.78,64.86L65.09,64.28L65.39,63.78L65.7,62.02L66,60.56L66.3,59.65L66.61,58.75L66.91,56.72L67.22,55.53L67.52,55.09L67.83,53.52L68.13,52.43L68.43,51.01L68.74,49.46L69.04,48.37L69.35,47.3L69.65,46.21L69.95,44.87L70.26,43.14L70.56,41.23L70.87,40.07L71.17,38.65L71.47,37.04L71.78,35.57L72.08,33.74L72.39,32.58L72.69,31.07L73,28.73L73.3,27.44L73.6,25.13L73.91,24.68L74.21,23.71L74.52,23.37L74.82,22.09L75.12,21.94L75.43,20.87L75.73,20.74L76.04,21.35L76.34,21.04L76.64,22.44L76.95,21.91L77.25,21.46L77.56,22L77.86,22.66L78.17,23.22L78.47,24.32L78.77,24.95L79.08,25.07L79.38,25.24L79.69,27.5L79.99,27.29L80.29,28.19L80.6,28.98L80.9,30.61L81.21,31.4L81.51,32.08L81.82,33.35L82.12,34.27L82.42,34.97L82.73,35.49L83.03,36.15L83.34,37.15L83.64,37.99L83.94,39.18L84.25,40.14L84.55,40.44L84.86,41.9L85.16,42.93L85.46,43.56L85.77,44.43L86.07,45.36L86.38,46.57L86.68,47.6L86.99,48.31L87.29,49.17L87.59,49.51L87.9,50.71L88.2,51.36L88.51,52.37L88.81,52.6L89.11,54.64L89.42,54.46L89.72,55.05L90.03,56.52L90.33,56L90.63,57.6L90.94,58.35L91.24,59.44L91.55,59.44L91.85,60.41L92.16,61.44L92.46,61.84L92.76,62.37L93.07,62.87L93.37,63.95L93.68,65.09L93.98,65.63L94.28,67L94.59,67.11L94.89,67.26L95.2,68.08L95.5,69.03L95.8,69.86L96.11,69.88L96.41,71.14L96.72,71.69L97.02,72.69L97.33,73.92L97.63,73.92L97.93,75.84L98.24,76.7L98.54,77.3L98.85,78.3L99.15,79.14L99.45,80.05L99.76,80.35L100.06,81.6L100.37,82.37L100.67,83.99L100.98,84.59L101.28,84.75L101.58,86.51L101.89,86.5L102.19,88.24L102.5,88.63L102.8,89.96L103.1,90.45L103.41,91.75L103.71,92.38L104.02,92.52L104.32,94.13L104.62,93.78L104.93,95.89L105.23,97.16L105.54,97.17L105.84,98.34L106.15,97.62L106.45,98.54L106.75,99.72L107.06,105.65L107.36,98.67L107.67,101.22L107.97,101.59L108.27,103.94" fill="none" stroke="#f5a45c" stroke-width="1.3" stroke-linejoin="round" />
<path d="M50.51,118.26L50.82,117.24L51.12,116.5L51.42,115.89L51.73,114.65L52.03,113.32L52.34,112.09L52.64,111.13L52.95,109.76L53.25,109.27L53.55,108.07L53.86,107.32L54.16,104.98L54.47,104.72L54.77,103.21L55.07,102.02L55.38,101.28L55.68,100.4L55.99,99.44L56.29,98.26L56.59,97.74L56.9,96.2L57.2,94.62L57.51,93.72L57.81,92.43L58.12,91.36L58.42,90.31L58.72,89.45L59.03,88.34L59.33,86.97L59.64,86.38L59.94,85.68L60.24,83.76L60.55,82.98L60.85,81.49L61.16,81.07L61.46,80.37L61.76,78.72L62.07,77.83L62.37,76.89L62.68,74.87L62.98,74.3L63.29,73.8L63.59,72.91L63.89,71.28L64.2,69.96L64.5,69.02L64.81,67.62L65.11,66.88L65.41,65.75L65.72,65.58L66.02,63.27L66.33,62.88L66.63,61.2L66.94,61.03L67.24,59.64L67.54,57.7L67.85,57.45L68.15,55.73L68.46,54.74L68.76,52.7L69.06,51.96L69.37,50.33L69.67,49.53L69.98,48.83L70.28,46.05L70.58,45.66L70.89,44.01L71.19,42.6L71.5,41.72L71.8,39.35L72.11,38.25L72.41,37.24L72.71,35.57L73.02,34.17L73.32,31.79L73.63,29.75L73.93,28.34L74.23,26.52L74.54,25.46L74.84,24.04L75.15,23.28L75.45,22.6L75.75,22.31L76.06,21.99L76.36,21.52L76.67,20.88L76.97,21.27L77.28,20.69L77.58,21.17L77.88,22.25L78.19,21.87L78.49,21.95L78.8,23.12L79.1,22.91L79.4,24.26L79.71,24.06L80.01,25.19L80.32,26.24L80.62,27.59L80.93,27.86L81.23,29.02L81.53,29.52L81.84,30.93L82.14,31.32L82.45,32.57L82.75,33.02L83.05,33.76L83.36,34.84L83.66,35.54L83.97,36.15L84.27,37.79L84.57,38.08L84.88,39.13L85.18,39.58L85.49,41.27L85.79,41.84L86.1,43.89L86.4,43.77L86.7,45.06L87.01,45.99L87.31,46.67L87.62,48.34L87.92,48.77L88.22,49.47L88.53,50.42L88.83,51.28L89.14,51.48L89.44,52.6L89.74,53.45L90.05,54.09L90.35,54.34L90.66,54.87L90.96,55.9L91.27,56.86L91.57,58.3L91.87,58.75L92.18,59.63L92.48,60.37L92.79,60.28L93.09,61.68L93.39,61.63L93.7,62.82L94,63.61L94.31,64.33L94.61,65.5L94.91,65.81L95.22,66.03L95.52,66.8L95.83,67.71L96.13,68.23L96.44,69.17L96.74,69.82L97.04,69.81L97.35,71.45L97.65,72.96L97.96,73.92L98.26,74.22L98.56,74.71L98.87,75.28L99.17,76.55L99.48,77.38L99.78,78.09L100.09,79.59L100.39,80.14L100.69,80.89L101,82.06L101.3,83.12L101.61,83.48L101.91,84.14L102.21,85.43L102.52,87.24L102.82,87.55L103.13,88.3L103.43,88.87L103.73,90.11L104.04,90.99L104.34,91.37L104.65,92.11L104.95,93.15L105.26,95.1L105.56,96.52L105.86,95L106.17,98.7L106.47,96.98L106.78,98.28L107.08,99.23L107.38,107.84L107.69,102.97L107.99,111.69L108.3,105.38" fill="none" stroke="#8a80c6" stroke-width="1.3" stroke-linejoin="round" />
<path d="M50.8,117.87L51.11,116.35L51.41,115.68L51.72,113.85L52.02,113.68L52.32,112.44L52.63,110.92L52.93,110.15L53.24,108.74L53.54,107.72L53.85,106.59L54.15,106.32L54.45,104.42L54.76,103.65L55.06,102.47L55.37,101.83L55.67,100.23L55.97,99.02L56.28,98.11L56.58,96.97L56.89,96.01L57.19,95.07L57.5,93.72L57.8,92.89L58.1,91.78L58.41,90.48L58.71,89.2L59.02,87.82L59.32,86.97L59.62,86.28L59.93,85.53L60.23,84.01L60.54,83.44L60.84,82.35L61.14,81.6L61.45,79.33L61.75,78.29L62.06,78.05L62.36,76.53L62.67,75.38L62.97,73.87L63.27,72.86L63.58,72.68L63.88,71.17L64.19,70.84L64.49,69.23L64.79,68.11L65.1,67.17L65.4,66.42L65.71,65.04L66.01,63.01L66.31,62.96L66.62,61.61L66.92,60.13L67.23,59.04L67.53,58.35L67.84,56.49L68.14,55.32L68.44,54.57L68.75,53.3L69.05,52.2L69.36,50.67L69.66,49.46L69.96,47.81L70.27,47.52L70.57,45.15L70.88,44.14L71.18,42.1L71.48,40.73L71.79,39.75L72.09,38.18L72.4,36.81L72.7,35.45L73.01,33.45L73.31,31.26L73.61,29.84L73.92,28.54L74.22,26.57L74.53,25.78L74.83,24.26L75.13,23.07L75.44,22.21L75.74,21.59L76.05,21.87L76.35,22.16L76.66,21.04L76.96,21.17L77.26,20.97L77.57,21.22L77.87,21.83L78.18,22.01L78.48,22.09L78.78,23.12L79.09,24.19L79.39,23.84L79.7,24.59L80,25.58L80.3,25.65L80.61,26.98L80.91,28.07L81.22,28.62L81.52,28.97L81.83,30.98L82.13,31.17L82.43,32.85L82.74,32.96L83.04,34.24L83.35,35.05L83.65,35.46L83.95,35.61L84.26,38.08L84.56,38.38L84.87,39.52L85.17,39.73L85.47,41.15L85.78,42.53L86.08,42.9L86.39,43.98L86.69,45.25L87,45.82L87.3,46.87L87.6,47.49L87.91,49.09L88.21,49.25L88.52,49.93L88.82,51.4L89.12,50.5L89.43,52.02L89.73,53.25L90.04,54.3L90.34,54.92L90.64,55.58L90.95,56.13L91.25,57.54L91.56,58.2L91.86,58.02L92.17,59.77L92.47,59.24L92.77,60.78L93.08,61.99L93.38,62.48L93.69,62.21L93.99,63.46L94.29,64.64L94.6,64.46L94.9,65.45L95.21,66.58L95.51,67.47L95.82,68.35L96.12,68.47L96.42,69.02L96.73,69.38L97.03,70.12L97.34,71.1L97.64,72.83L97.94,73.31L98.25,73.72L98.55,74.86L98.86,75.59L99.16,76.68L99.46,77.4L99.77,77.91L100.07,78.99L100.38,80.63L100.68,81.16L100.99,82.32L101.29,83.39L101.59,83.28L101.9,84.54L102.2,84.49L102.51,86.06L102.81,87.02L103.11,88.3L103.42,89.28L103.72,89.6L104.03,90.98L104.33,91.17L104.63,92.33L104.94,92.97L105.24,94.09L105.55,95.52L105.85,95.67L106.16,97.77L106.46,98.52L106.76,97.69L107.07,100.33L107.37,101.51L107.68,102.76L107.98,102.1L108.28,98.98" fill="none" stroke="#4e97d3" stroke-width="1.3" stroke-linejoin="round" />
</g>
<rect x="33.7" y="8.4" width="172.8" height="139" fill="none" stroke="#000" stroke-width="1.3"/>
<line x1="47.52" y1="147.4" x2="47.52" y2="150.4" stroke="#000" stroke-width="1.0" />
<line x1="75.17" y1="147.4" x2="75.17" y2="150.4" stroke="#000" stroke-width="1.0" />
<line x1="102.82" y1="147.4" x2="102.82" y2="150.4" stroke="#000" stroke-width="1.0" />
<line x1="130.47" y1="147.4" x2="130.47" y2="150.4" stroke="#000" stroke-width="1.0" />
<line x1="158.12" y1="147.4" x2="158.12" y2="150.4" stroke="#000" stroke-width="1.0" />
<line x1="185.76" y1="147.4" x2="185.76" y2="150.4" stroke="#000" stroke-width="1.0" />
<line x1="33.7" y1="147.4" x2="33.7" y2="149.4" stroke="#000" stroke-width="1.0" />
<line x1="47.52" y1="147.4" x2="47.52" y2="149.4" stroke="#000" stroke-width="1.0" />
<line x1="61.35" y1="147.4" x2="61.35" y2="149.4" stroke="#000" stroke-width="1.0" />
<line x1="75.17" y1="147.4" x2="75.17" y2="149.4" stroke="#000" stroke-width="1.0" />
<line x1="89" y1="147.4" x2="89" y2="149.4" stroke="#000" stroke-width="1.0" />
<line x1="102.82" y1="147.4" x2="102.82" y2="149.4" stroke="#000" stroke-width="1.0" />
<line x1="116.64" y1="147.4" x2="116.64" y2="149.4" stroke="#000" stroke-width="1.0" />
<line x1="130.47" y1="147.4" x2="130.47" y2="149.4" stroke="#000" stroke-width="1.0" />
<line x1="144.29" y1="147.4" x2="144.29" y2="149.4" stroke="#000" stroke-width="1.0" />
<line x1="158.12" y1="147.4" x2="158.12" y2="149.4" stroke="#000" stroke-width="1.0" />
<line x1="171.94" y1="147.4" x2="171.94" y2="149.4" stroke="#000" stroke-width="1.0" />
<line x1="185.76" y1="147.4" x2="185.76" y2="149.4" stroke="#000" stroke-width="1.0" />
<line x1="199.59" y1="147.4" x2="199.59" y2="149.4" stroke="#000" stroke-width="1.0" />
<line x1="33.7" y1="147.4" x2="30.7" y2="147.4" stroke="#000" stroke-width="1.0" />
<line x1="33.7" y1="122.13" x2="30.7" y2="122.13" stroke="#000" stroke-width="1.0" />
<line x1="33.7" y1="96.85" x2="30.7" y2="96.85" stroke="#000" stroke-width="1.0" />
<line x1="33.7" y1="71.58" x2="30.7" y2="71.58" stroke="#000" stroke-width="1.0" />
<line x1="33.7" y1="46.31" x2="30.7" y2="46.31" stroke="#000" stroke-width="1.0" />
<line x1="33.7" y1="21.04" x2="30.7" y2="21.04" stroke="#000" stroke-width="1.0" />
<line x1="33.7" y1="134.76" x2="31.7" y2="134.76" stroke="#000" stroke-width="1.0" />
<line x1="33.7" y1="109.49" x2="31.7" y2="109.49" stroke="#000" stroke-width="1.0" />
<line x1="33.7" y1="84.22" x2="31.7" y2="84.22" stroke="#000" stroke-width="1.0" />
<line x1="33.7" y1="58.95" x2="31.7" y2="58.95" stroke="#000" stroke-width="1.0" />
<line x1="33.7" y1="33.67" x2="31.7" y2="33.67" stroke="#000" stroke-width="1.0" />
<text x="48.37" y="160.9" font-size="11.2" text-anchor="middle" font-family="Liberation Serif" >1060</text>
<text x="76.02" y="160.9" font-size="11.2" text-anchor="middle" font-family="Liberation Serif" >1080</text>
<text x="103.67" y="160.9" font-size="11.2" text-anchor="middle" font-family="Liberation Serif" >1100</text>
<text x="131.32" y="160.9" font-size="11.2" text-anchor="middle" font-family="Liberation Serif" >1120</text>
<text x="158.97" y="160.9" font-size="11.2" text-anchor="middle" font-family="Liberation Serif" >1140</text>
<text x="186.61" y="160.9" font-size="11.2" text-anchor="middle" font-family="Liberation Serif" >1160</text>
<text x="30.1" y="151.2" font-size="11.0" text-anchor="end" font-family="Liberation Serif" >&#8722;50</text>
<text x="30.1" y="125.93" font-size="11.0" text-anchor="end" font-family="Liberation Serif" >&#8722;40</text>
<text x="30.1" y="100.65" font-size="11.0" text-anchor="end" font-family="Liberation Serif" >&#8722;30</text>
<text x="30.1" y="75.38" font-size="11.0" text-anchor="end" font-family="Liberation Serif" >&#8722;20</text>
<text x="30.1" y="50.11" font-size="11.0" text-anchor="end" font-family="Liberation Serif" >&#8722;10</text>
<text x="30.1" y="24.84" font-size="11.0" text-anchor="end" font-family="Liberation Serif" >0</text>
<text x="124.6" y="171.3" font-size="11.2" text-anchor="middle" font-family="Liberation Serif" >Wavelength (nm)</text>
<text transform="translate(8.1,80.5) rotate(-90)" font-size="11.2" text-anchor="middle" font-family="Liberation Serif">Normalized spectrum (dB)</text>
<text x="0.2" y="8.6" font-size="11.8" text-anchor="start" font-family="Liberation Sans" >a</text>
<line x1="89.7" y1="16.4" x2="106" y2="16.4" stroke="#f5a45c" stroke-width="1" />
<text x="108.1" y="18.8" font-size="7.2" text-anchor="start" font-family="Liberation Serif" >Laser source, without CTFBG</text>
<line x1="89.7" y1="25.4" x2="106" y2="25.4" stroke="#8a80c6" stroke-width="1" />
<text x="108.1" y="27.8" font-size="7.2" text-anchor="start" font-family="Liberation Serif" >AR-HCF output, without CTFBG</text>
<line x1="89.7" y1="34.4" x2="106" y2="34.4" stroke="#4e97d3" stroke-width="1" />
<text x="108.1" y="36.8" font-size="7.2" text-anchor="start" font-family="Liberation Serif" >AR-HCF output, with CTFBG</text>
<text x="107" y="76.5" font-size="10" font-family="Liberation Serif"><tspan font-style="italic">P</tspan><tspan font-size="6.5" dy="2.2">in</tspan><tspan dy="-2.2">=2400 W</tspan></text>
<line x1="297.5" y1="8.4" x2="297.5" y2="55.1" stroke="#e6e6e6" stroke-width="0.8" stroke-dasharray="3,1"/>
<line x1="326.5" y1="8.4" x2="326.5" y2="55.1" stroke="#e6e6e6" stroke-width="0.8" stroke-dasharray="3,1"/>
<line x1="355.5" y1="8.4" x2="355.5" y2="55.1" stroke="#e6e6e6" stroke-width="0.8" stroke-dasharray="3,1"/>
<line x1="384.5" y1="8.4" x2="384.5" y2="55.1" stroke="#e6e6e6" stroke-width="0.8" stroke-dasharray="3,1"/>
<line x1="412.5" y1="8.4" x2="412.5" y2="55.1" stroke="#e6e6e6" stroke-width="0.8" stroke-dasharray="3,1"/>
<line x1="441.5" y1="8.4" x2="441.5" y2="55.1" stroke="#e6e6e6" stroke-width="0.8" stroke-dasharray="3,1"/>
<line x1="268.4" y1="33.5" x2="449" y2="33.5" stroke="#e6e6e6" stroke-width="0.8" stroke-dasharray="3,1"/>
<line x1="268.4" y1="46.5" x2="449" y2="46.5" stroke="#e6e6e6" stroke-width="0.8" stroke-dasharray="3,1"/>
<line x1="282.5" y1="8.4" x2="282.5" y2="55.1" stroke="#d2d2d2" stroke-width="0.9" />
<line x1="311.5" y1="8.4" x2="311.5" y2="55.1" stroke="#d2d2d2" stroke-width="0.9" />
<line x1="340.5" y1="8.4" x2="340.5" y2="55.1" stroke="#d2d2d2" stroke-width="0.9" />
<line x1="369.5" y1="8.4" x2="369.5" y2="55.1" stroke="#d2d2d2" stroke-width="0.9" />
<line x1="398.5" y1="8.4" x2="398.5" y2="55.1" stroke="#d2d2d2" stroke-width="0.9" />
<line x1="427.5" y1="8.4" x2="427.5" y2="55.1" stroke="#d2d2d2" stroke-width="0.9" />
<line x1="268.4" y1="27.5" x2="449" y2="27.5" stroke="#d2d2d2" stroke-width="0.9" />
<line x1="268.4" y1="39.5" x2="449" y2="39.5" stroke="#d2d2d2" stroke-width="0.9" />
<line x1="268.4" y1="52.5" x2="449" y2="52.5" stroke="#d2d2d2" stroke-width="0.9" />
<g clip-path="url(#cb0)">
<path d="M268.56,64.8L268.56,55.02L269,55.18L269.43,55.07L269.86,53.86L270.3,54.32L270.73,53.86L271.16,55L271.6,53.86L272.03,54.68L272.46,54L272.9,53.86L273.33,54.22L273.76,53.9L274.2,53.86L274.63,55.39L275.06,55.84L275.5,53.86L275.93,55.15L276.36,55.16L276.8,54.92L277.23,53.86L277.66,53.86L278.1,55.54L278.53,55.08L278.96,55.27L279.39,55.22L279.83,55.19L280.26,53.86L280.69,56.1L281.13,54.2L281.56,53.86L281.99,54.32L282.43,53.86L282.86,55.12L283.29,53.86L283.73,54.03L284.16,53.86L284.59,53.86L285.03,54.77L285.46,55.91L285.89,53.86L286.33,54.06L286.76,54.07L287.19,53.92L287.63,55.76L288.06,54.18L288.49,53.95L288.93,55.6L289.36,54.26L289.79,54.86L290.22,55.67L290.66,53.86L290.66,64.8Z" fill="#3fa9f0" fill-opacity="1.0"/>
<path d="M353.47,64.8L353.47,53.86L353.91,53.86L354.34,53.86L354.77,53.86L355.2,53.86L355.64,54.94L356.07,54.17L356.5,54.5L356.94,55.72L357.37,55.85L357.8,54.75L358.24,53.86L358.67,54.05L359.1,53.86L359.54,54.18L359.97,53.86L360.4,54.42L360.84,53.86L361.27,53.86L361.7,53.86L362.14,56.26L362.57,54.41L363,55.24L363.44,53.86L363.87,54.37L364.3,53.86L364.74,53.86L365.17,56.32L365.6,53.86L366.03,54.94L366.47,54.11L366.9,53.86L367.33,55.73L367.77,54.39L368.2,53.86L368.63,56.03L369.07,53.86L369.5,56.1L369.93,55.23L370.37,54.2L370.8,55.71L371.23,53.86L371.67,54.93L372.1,54.38L372.53,56.23L372.97,55.25L373.4,53.86L373.83,53.86L374.27,53.86L374.7,54.21L375.13,54.74L375.57,53.86L376,53.86L376.43,56.06L376.86,53.86L377.3,54.45L377.73,54.65L378.16,54.67L378.6,53.86L379.03,54.28L379.46,54.68L379.9,53.91L380.33,54.76L380.76,54.72L381.2,56.07L381.63,55.18L382.06,53.86L382.5,54.14L382.93,53.86L383.36,54.65L383.8,53.86L384.23,54.75L384.66,54.6L385.1,54.42L385.53,53.92L385.96,53.86L386.4,54.66L386.83,55.75L387.26,53.86L387.69,56.1L388.13,53.86L388.56,55.24L388.99,53.86L389.43,53.86L389.86,56.1L390.29,55.93L390.73,54.56L391.16,53.86L391.59,53.86L392.03,55.16L392.46,53.86L392.89,54.49L393.33,55.54L393.76,53.86L394.19,54.31L394.63,55.85L395.06,54.76L395.49,53.86L395.93,53.86L396.36,53.9L396.79,55.68L397.23,55.87L397.66,53.93L398.09,53.86L398.52,53.86L398.96,54.02L399.39,54.06L399.82,53.86L400.26,54.47L400.69,54.08L401.12,55.14L401.56,53.86L401.99,56.23L402.42,53.86L402.86,53.86L403.29,53.86L403.72,54.05L404.16,53.86L404.59,56.12L405.02,55.11L405.46,53.86L405.89,56.24L406.32,54.6L406.76,54.48L407.19,53.86L407.62,53.86L408.06,53.86L408.49,54.63L408.92,55.04L409.35,53.86L409.79,53.86L410.22,54.77L410.65,53.91L411.09,53.86L411.52,53.86L411.95,54.9L412.39,53.86L412.82,56.31L413.25,53.86L413.69,53.86L414.12,56.28L414.55,54.89L414.99,54.89L415.42,54.96L415.85,55.28L416.29,53.86L416.72,53.94L417.15,55.12L417.59,55.12L418.02,55.12L418.45,53.86L418.89,55.1L419.32,54.75L419.75,55.53L420.18,55.01L420.62,55.94L421.05,53.86L421.48,55.68L421.92,53.86L422.35,54.11L422.78,53.86L423.22,53.86L423.65,53.9L424.08,53.86L424.52,55.98L424.95,54.91L425.38,53.86L425.82,55.47L426.25,55.53L426.68,53.86L427.12,55.16L427.55,54.17L427.98,55.73L428.42,54.8L428.85,53.86L429.28,53.86L429.72,54.66L430.15,53.87L430.58,54.59L431.01,53.86L431.45,55.55L431.88,53.88L432.31,53.86L432.75,54.39L433.18,53.86L433.61,53.86L434.05,55.33L434.48,55.36L434.91,53.86L435.35,54.05L435.78,53.86L436.21,55.54L436.65,54.86L437.08,53.86L437.51,55.78L437.95,53.95L438.38,53.86L438.81,53.86L439.25,54.99L439.68,54.17L440.11,54.95L440.55,53.86L440.98,53.86L441.41,53.86L441.84,53.86L442.28,53.86L442.71,54.92L443.14,53.86L443.58,55.18L444.01,53.87L444.44,54.85L444.88,55.47L445.31,55.83L445.74,55.92L446.18,53.86L446.61,56.26L447.04,56.06L447.48,55.69L447.91,53.92L448.34,53.86L448.78,56.14L448.78,64.8Z" fill="#3fa9f0" fill-opacity="1.0"/>
<path d="M268.56,55.02L269,55.18L269.43,55.07L269.86,53.27L270.3,54.32L270.73,53.35L271.16,55L271.6,53.02L272.03,54.68L272.46,54L272.9,53.39L273.33,54.22L273.76,53.9L274.2,52.88L274.63,55.39L275.06,55.84L275.5,53.2L275.93,55.15L276.36,55.16L276.8,54.92L277.23,53.4L277.66,53.72L278.1,55.54L278.53,55.08L278.96,55.27L279.39,55.22L279.83,55.19L280.26,52.91L280.69,56.1L281.13,54.2L281.56,52.86L281.99,54.32L282.43,52.62L282.86,55.12L283.29,53.5L283.73,54.03L284.16,53.19L284.59,52.92L285.03,54.77L285.46,55.91L285.89,53.7L286.33,54.06L286.76,54.07L287.19,53.92L287.63,55.76L288.06,54.18L288.49,53.95L288.93,55.6L289.36,54.26L289.79,54.86L290.22,55.67L290.66,53.79L291.09,48.27L291.52,47.81L291.96,47.29L292.39,46.91L292.82,46.36L293.26,46.06L293.69,45.53L294.12,44.84L294.56,44.51L294.99,44.13L295.42,43.45L295.86,43.05L296.29,42.57L296.72,42.06L297.16,41.39L297.59,41.12L298.02,40.67L298.46,40.03L298.89,39.53L299.32,39.19L299.76,38.66L300.19,37.98L300.62,37.59L301.05,37.05L301.49,36.74L301.92,36.25L302.35,35.91L302.79,35.57L303.22,34.84L303.65,34.61L304.09,34.09L304.52,33.75L304.95,33.26L305.39,32.91L305.82,32.28L306.25,32.05L306.69,31.72L307.12,31.29L307.55,31.15L307.99,30.49L308.42,30.26L308.85,29.73L309.29,29.6L309.72,29.02L310.15,29.03L310.59,28.52L311.02,28.03L311.45,27.8L311.88,27.72L312.32,27.43L312.75,27.47L313.18,27.23L313.62,27.23L314.05,27.38L314.48,27.86L314.92,27.85L315.35,28.13L315.78,28.56L316.22,28.91L316.65,29.26L317.08,29.73L317.52,30.08L317.95,30.35L318.38,30.62L318.82,31.01L319.25,31.47L319.68,31.55L320.12,32.08L320.55,32.05L320.98,32.38L321.42,32.82L321.85,32.91L322.28,33.19L322.71,33.58L323.15,33.95L323.58,33.98L324.01,34.33L324.45,34.66L324.88,34.81L325.31,35.23L325.75,35.33L326.18,35.55L326.61,36.04L327.05,36.3L327.48,36.44L327.91,36.77L328.35,37.21L328.78,37.2L329.21,37.61L329.65,37.72L330.08,38.22L330.51,38.32L330.95,38.57L331.38,38.83L331.81,39.23L332.25,39.56L332.68,39.61L333.11,39.85L333.54,40.2L333.98,40.44L334.41,40.83L334.84,41.14L335.28,41.2L335.71,41.45L336.14,41.7L336.58,42.12L337.01,42.53L337.44,42.98L337.88,42.98L338.31,43.18L338.74,43.51L339.18,43.8L339.61,44.26L340.04,44.33L340.48,44.59L340.91,44.77L341.34,45.19L341.78,45.46L342.21,46.09L342.64,46.35L343.08,46.64L343.51,46.74L343.94,47.13L344.37,47.54L344.81,47.84L345.24,48.02L345.67,48.55L346.11,48.68L346.54,49.02L346.97,49.22L347.41,49.76L347.84,50.29L348.27,50.32L348.71,50.76L349.14,51.11L349.57,51.48L350.01,51.7L350.44,52.1L350.87,52.39L351.31,52.72L351.74,52.9L352.17,53.3L352.61,53.85L353.04,54.07L353.47,53.01L353.91,52.72L354.34,53.69L354.77,52.76L355.2,53.18L355.64,54.94L356.07,54.17L356.5,54.5L356.94,55.72L357.37,55.85L357.8,54.75L358.24,52.64L358.67,54.05L359.1,52.77L359.54,54.18L359.97,52.78L360.4,54.42L360.84,53.11L361.27,53.18L361.7,53.1L362.14,56.26L362.57,54.41L363,55.24L363.44,52.78L363.87,54.37L364.3,53.28L364.74,53.81L365.17,56.32L365.6,53.24L366.03,54.94L366.47,54.11L366.9,53.64L367.33,55.73L367.77,54.39L368.2,53.75L368.63,56.03L369.07,53.74L369.5,56.1L369.93,55.23L370.37,54.2L370.8,55.71L371.23,53.77L371.67,54.93L372.1,54.38L372.53,56.23L372.97,55.25L373.4,52.91L373.83,53.61L374.27,52.94L374.7,54.21L375.13,54.74L375.57,53.19L376,52.97L376.43,56.06L376.86,53.56L377.3,54.45L377.73,54.65L378.16,54.67L378.6,52.98L379.03,54.28L379.46,54.68L379.9,53.91L380.33,54.76L380.76,54.72L381.2,56.07L381.63,55.18L382.06,53.44L382.5,54.14L382.93,53.12L383.36,54.65L383.8,53.29L384.23,54.75L384.66,54.6L385.1,54.42L385.53,53.92L385.96,53.58L386.4,54.66L386.83,55.75L387.26,53.66L387.69,55.85L388.13,52.77L388.56,55.24L388.99,53.07L389.43,52.89L389.86,55.12L390.29,55.37L390.73,54.56L391.16,52.79L391.59,52.7L392.03,54.67L392.46,53.63L392.89,54.13L393.33,54.63L393.76,53.6L394.19,53.68L394.63,54.41L395.06,54.28L395.49,53.08L395.93,53.19L396.36,53.61L396.79,53.62L397.23,53.43L397.66,53.31L398.09,52.48L398.52,52.45L398.96,52.11L399.39,51.62L399.82,51.6L400.26,51.6L400.69,51.66L401.12,50.47L401.56,51.76L401.99,52.18L402.42,51.82L402.86,52.23L403.29,52.69L403.72,53.03L404.16,53.03L404.59,53.04L405.02,53.69L405.46,52.72L405.89,55.06L406.32,54.6L406.76,54.48L407.19,53.33L407.62,53.31L408.06,53.79L408.49,54.63L408.92,55.04L409.35,52.77L409.79,53.1L410.22,54.77L410.65,53.91L411.09,52.98L411.52,53.49L411.95,54.9L412.39,53.8L412.82,56.31L413.25,53.43L413.69,53.75L414.12,56.28L414.55,54.89L414.99,54.89L415.42,54.96L415.85,55.28L416.29,52.78L416.72,53.94L417.15,55.12L417.59,55.12L418.02,55.12L418.45,52.72L418.89,55.1L419.32,54.75L419.75,55.53L420.18,55.01L420.62,55.94L421.05,53.13L421.48,55.68L421.92,53.33L422.35,54.11L422.78,52.83L423.22,53.4L423.65,53.9L424.08,53.8L424.52,55.98L424.95,54.91L425.38,53.65L425.82,55.47L426.25,55.53L426.68,53.51L427.12,55.16L427.55,54.17L427.98,55.73L428.42,54.8L428.85,52.76L429.28,52.79L429.72,54.66L430.15,53.87L430.58,54.59L431.01,53.21L431.45,55.55L431.88,53.88L432.31,53.2L432.75,54.39L433.18,52.7L433.61,53.03L434.05,55.33L434.48,55.36L434.91,52.78L435.35,54.05L435.78,52.79L436.21,55.54L436.65,54.86L437.08,53.66L437.51,55.78L437.95,53.95L438.38,53.33L438.81,52.78L439.25,54.99L439.68,54.17L440.11,54.95L440.55,53.65L440.98,53.78L441.41,53.36L441.84,52.79L442.28,52.71L442.71,54.92L443.14,52.71L443.58,55.18L444.01,53.87L444.44,54.85L444.88,55.47L445.31,55.83L445.74,55.92L446.18,53.21L446.61,56.26L447.04,56.06L447.48,55.69L447.91,53.92L448.34,52.88L448.78,56.14" fill="none" stroke="#3fa9f0" stroke-width="0.8" stroke-linejoin="round" />
<path d="M291.09,48.27L291.52,47.81L291.96,47.29L292.39,46.91L292.82,46.36L293.26,46.06L293.69,45.53L294.12,44.84L294.56,44.51L294.99,44.13L295.42,43.45L295.86,43.05L296.29,42.57L296.72,42.06L297.16,41.39L297.59,41.12L298.02,40.67L298.46,40.03L298.89,39.53L299.32,39.19L299.76,38.66L300.19,37.98L300.62,37.59L301.05,37.05L301.49,36.74L301.92,36.25L302.35,35.91L302.79,35.57L303.22,34.84L303.65,34.61L304.09,34.09L304.52,33.75L304.95,33.26L305.39,32.91L305.82,32.28L306.25,32.05L306.69,31.72L307.12,31.29L307.55,31.15L307.99,30.49L308.42,30.26L308.85,29.73L309.29,29.6L309.72,29.02L310.15,29.03L310.59,28.52L311.02,28.03L311.45,27.8L311.88,27.72L312.32,27.43L312.75,27.47L313.18,27.23L313.62,27.23L314.05,27.38L314.48,27.86L314.92,27.85L315.35,28.13L315.78,28.56L316.22,28.91L316.65,29.26L317.08,29.73L317.52,30.08L317.95,30.35L318.38,30.62L318.82,31.01L319.25,31.47L319.68,31.55L320.12,32.08L320.55,32.05L320.98,32.38L321.42,32.82L321.85,32.91L322.28,33.19L322.71,33.58L323.15,33.95L323.58,33.98L324.01,34.33L324.45,34.66L324.88,34.81L325.31,35.23L325.75,35.33L326.18,35.55L326.61,36.04L327.05,36.3L327.48,36.44L327.91,36.77L328.35,37.21L328.78,37.2L329.21,37.61L329.65,37.72L330.08,38.22L330.51,38.32L330.95,38.57L331.38,38.83L331.81,39.23L332.25,39.56L332.68,39.61L333.11,39.85L333.54,40.2L333.98,40.44L334.41,40.83L334.84,41.14L335.28,41.2L335.71,41.45L336.14,41.7L336.58,42.12L337.01,42.53L337.44,42.98L337.88,42.98L338.31,43.18L338.74,43.51L339.18,43.8L339.61,44.26L340.04,44.33L340.48,44.59L340.91,44.77L341.34,45.19L341.78,45.46L342.21,46.09L342.64,46.35L343.08,46.64L343.51,46.74L343.94,47.13L344.37,47.54L344.81,47.84L345.24,48.02L345.67,48.55L346.11,48.68L346.54,49.02L346.97,49.22L347.41,49.76L347.84,50.29L348.27,50.32" fill="none" stroke="#3fa9f0" stroke-width="1.5" stroke-linejoin="round" />
<path d="M268.77,64.8L268.77,52.3L269.14,53.44L269.5,55.09L269.86,52.3L270.22,52.37L270.58,53.37L270.94,54.14L271.3,52.3L271.66,53.76L272.02,52.48L272.38,52.3L272.75,52.79L273.11,53.04L273.47,52.48L273.83,53.56L274.19,54.55L274.55,52.45L274.91,53.69L275.27,53.37L275.63,52.3L275.99,53.33L276.36,52.92L276.72,53.65L277.08,52.87L277.44,52.3L277.8,52.3L278.16,55.14L278.52,52.45L278.88,53.21L279.24,52.74L279.6,52.75L279.97,54.56L280.33,53.65L280.69,52.3L281.05,54.32L281.41,52.55L281.77,52.84L282.13,53.02L282.49,52.3L282.85,52.67L283.21,52.3L283.58,52.3L283.94,52.3L284.3,53.78L284.66,53.2L285.02,52.68L285.38,52.01L285.74,51.81L286.1,51.86L286.46,52.1L286.82,52.03L287.19,51.18L287.55,50.66L287.91,50.29L288.27,49.79L288.63,50.1L288.99,49.86L289.35,49.11L289.71,49.33L290.07,48.71L290.43,49.63L290.8,48.03L290.8,64.8Z" fill="#f5a560" fill-opacity="1.0"/>
<path d="M354.69,64.8L354.69,54.85L355.05,53.37L355.41,52.3L355.78,54.37L356.14,54.41L356.5,53.93L356.86,52.56L357.22,52.84L357.58,53.82L357.94,53.76L358.3,52.3L358.66,54.36L359.02,53.01L359.39,52.3L359.75,52.36L360.11,52.3L360.47,52.37L360.83,54.54L361.19,52.3L361.55,53.28L361.91,54.36L362.27,53.98L362.63,52.3L363,52.3L363.36,54.34L363.72,54.69L364.08,54.07L364.44,54.42L364.8,52.68L365.16,54.06L365.52,53.53L365.88,52.83L366.24,52.85L366.61,52.3L366.97,52.3L367.33,52.3L367.69,52.65L368.05,52.8L368.41,52.54L368.77,53.98L369.13,54.92L369.49,53.99L369.85,53.61L370.22,54.12L370.58,52.75L370.94,53.02L371.3,54.31L371.66,54.47L372.02,54.2L372.38,53.08L372.74,54.29L373.1,52.3L373.46,52.92L373.83,52.9L374.19,52.3L374.55,53.15L374.91,52.3L375.27,54.92L375.63,54.28L375.99,52.3L376.35,54.66L376.71,53.3L377.07,52.3L377.44,54.13L377.8,53.47L378.16,52.43L378.52,53.93L378.88,52.3L379.24,52.3L379.6,53.49L379.96,52.94L380.32,53.36L380.68,53.33L381.05,53.63L381.41,52.95L381.77,52.38L382.13,54.96L382.49,53.15L382.85,52.3L383.21,53.68L383.57,52.82L383.93,52.3L384.29,54.51L384.66,53.05L385.02,55.04L385.38,52.67L385.74,53.9L386.1,53.33L386.46,53.48L386.82,52.51L387.18,52.3L387.54,52.7L387.9,53.19L388.27,54.32L388.63,53.56L388.99,52.3L389.35,52.3L389.71,53.08L390.07,53.71L390.43,52.3L390.79,52.92L391.15,52.54L391.51,54.77L391.88,52.72L392.24,54.07L392.6,54.09L392.96,52.49L393.32,53.04L393.68,53.79L394.04,53.14L394.4,52.3L394.76,53.12L395.12,53.83L395.49,53.63L395.85,54.81L396.21,53.3L396.57,53.92L396.93,52.32L397.29,52.65L397.65,54L398.01,53.83L398.37,53.94L398.73,52.4L399.1,52.51L399.46,52.61L399.82,54.33L400.18,52.3L400.54,53.05L400.9,52.94L401.26,52.35L401.62,52.3L401.98,52.91L402.34,53.19L402.71,52.94L403.07,52.3L403.43,53.53L403.79,52.3L404.15,54.58L404.51,54.23L404.87,52.95L405.23,53.08L405.59,53.21L405.95,52.3L406.32,52.42L406.68,52.34L407.04,54.2L407.4,53.11L407.76,52.98L408.12,52.9L408.48,53.64L408.84,52.3L409.2,53.27L409.56,52.5L409.93,53.23L410.29,54.68L410.65,52.9L411.01,52.79L411.37,52.89L411.73,52.3L412.09,52.3L412.45,53.66L412.81,52.46L413.17,54.45L413.54,53.89L413.9,52.3L414.26,52.3L414.62,52.84L414.98,53.6L415.34,53.07L415.7,54.25L416.06,54.65L416.42,53.18L416.78,55.12L417.15,52.3L417.51,52.3L417.87,52.8L418.23,53.43L418.59,52.3L418.95,52.3L419.31,52.3L419.67,52.3L420.03,52.3L420.39,53.14L420.76,52.3L421.12,52.3L421.48,53.5L421.84,54.04L422.2,52.3L422.56,52.39L422.92,52.3L423.28,52.45L423.64,53.73L424,54.07L424.37,52.3L424.73,52.3L425.09,53.69L425.45,55.17L425.81,54.35L426.17,54.04L426.53,52.3L426.89,52.3L427.25,52.85L427.61,52.43L427.98,53.09L428.34,52.73L428.7,53.13L429.06,54.39L429.42,54.83L429.78,52.3L430.14,52.3L430.5,52.94L430.86,52.3L431.22,52.8L431.59,52.76L431.95,52.3L432.31,53.46L432.67,53.71L433.03,54L433.39,52.49L433.75,52.48L434.11,52.3L434.47,52.36L434.83,55.23L435.2,53.29L435.56,53.71L435.92,52.8L436.28,54.39L436.64,54.45L437,53.1L437.36,52.3L437.72,52.95L438.08,52.3L438.44,53.68L438.81,52.3L439.17,52.75L439.53,53.4L439.89,52.3L440.25,53.95L440.61,54.34L440.97,53.57L441.33,53.38L441.69,53.44L442.05,53.66L442.42,52.36L442.78,53.05L443.14,52.85L443.5,53.96L443.86,52.3L444.22,53.32L444.58,54.04L444.94,53.27L445.3,54.82L445.66,54.18L446.03,52.3L446.39,52.3L446.75,53.26L447.11,53.86L447.47,53.16L447.83,52.3L448.19,54.52L448.55,52.86L448.91,54.88L449.27,53.01L449.27,64.8Z" fill="#f5a560" fill-opacity="1.0"/>
<path d="M268.77,52.29L269.14,53.44L269.5,55.09L269.86,51.88L270.22,52.37L270.58,53.37L270.94,54.14L271.3,52.3L271.66,53.76L272.02,52.48L272.38,52.3L272.75,52.79L273.11,53.04L273.47,52.48L273.83,53.56L274.19,54.55L274.55,52.45L274.91,53.69L275.27,53.37L275.63,52.1L275.99,53.33L276.36,52.92L276.72,53.65L277.08,52.87L277.44,51.98L277.8,52.21L278.16,55.14L278.52,52.45L278.88,53.21L279.24,52.74L279.6,52.75L279.97,54.56L280.33,53.65L280.69,51.92L281.05,54.32L281.41,52.55L281.77,52.84L282.13,53.02L282.49,51.89L282.85,52.67L283.21,52.14L283.58,51.23L283.94,51.85L284.3,53.78L284.66,53.2L285.02,52.68L285.38,52.01L285.74,51.81L286.1,51.86L286.46,52.1L286.82,52.03L287.19,51.18L287.55,50.66L287.91,50.29L288.27,49.79L288.63,50.1L288.99,49.86L289.35,49.11L289.71,49.33L290.07,48.71L290.43,49.63L290.8,48.03L291.16,48.32L291.52,47.91L291.88,47.52L292.24,47.34L292.6,46.68L292.96,46.35L293.32,45.95L293.68,45.53L294.04,45.23L294.41,44.8L294.77,44.37L295.13,43.93L295.49,43.45L295.85,43.12L296.21,42.69L296.57,42.41L296.93,41.75L297.29,41.39L297.65,41.02L298.02,40.8L298.38,40.22L298.74,39.98L299.1,39.5L299.46,39.12L299.82,38.76L300.18,38.23L300.54,37.7L300.9,37.52L301.26,36.99L301.63,36.69L301.99,36.33L302.35,35.9L302.71,35.51L303.07,35.26L303.43,34.94L303.79,34.53L304.15,34.39L304.51,34.05L304.87,33.49L305.24,33.05L305.6,32.75L305.96,32.43L306.32,32.12L306.68,31.79L307.04,31.4L307.4,31.07L307.76,30.77L308.12,30.42L308.48,30.06L308.85,29.95L309.21,29.69L309.57,29.13L309.93,29.07L310.29,28.73L310.65,28.34L311.01,28.14L311.37,27.79L311.73,27.71L312.09,27.5L312.46,27.43L312.82,27.3L313.18,27.34L313.54,27.38L313.9,27.41L314.26,27.68L314.62,27.64L314.98,27.94L315.34,28.16L315.7,28.21L316.07,28.66L316.43,28.93L316.79,29.08L317.15,29.42L317.51,29.66L317.87,29.9L318.23,30.08L318.59,30.4L318.95,30.47L319.31,30.87L319.68,30.99L320.04,31.26L320.4,31.3L320.76,31.71L321.12,31.61L321.48,32.12L321.84,32.21L322.2,32.42L322.56,32.59L322.92,32.8L323.29,33.17L323.65,33.38L324.01,33.47L324.37,33.64L324.73,33.96L325.09,34.05L325.45,34.16L325.81,34.48L326.17,34.65L326.53,34.98L326.9,34.91L327.26,35.34L327.62,35.53L327.98,35.74L328.34,35.99L328.7,36.17L329.06,36.36L329.42,36.69L329.78,36.74L330.14,36.97L330.51,37.27L330.87,37.56L331.23,37.69L331.59,37.97L331.95,37.92L332.31,38.19L332.67,38.5L333.03,38.77L333.39,38.87L333.75,39.11L334.12,39.23L334.48,39.79L334.84,39.79L335.2,40.2L335.56,40.1L335.92,40.7L336.28,40.85L336.64,41.07L337,41.25L337.36,41.48L337.73,41.6L338.09,41.94L338.45,42.16L338.81,42.38L339.17,42.79L339.53,42.78L339.89,43.25L340.25,43.32L340.61,43.56L340.97,43.97L341.34,44.01L341.7,44.29L342.06,44.55L342.42,44.8L342.78,45.04L343.14,45.24L343.5,45.43L343.86,45.97L344.22,45.83L344.58,46.21L344.95,46.42L345.31,46.74L345.67,46.95L346.03,47.08L346.39,47.42L346.75,47.66L347.11,47.69L347.47,47.93L347.83,48.2L348.19,48.2L348.56,48.54L348.92,48.74L349.28,49L349.64,49.2L350,49.51L350.36,49.55L350.72,50.07L351.08,50.25L351.44,50.66L351.8,50.82L352.17,51.07L352.53,51.39L352.89,51.63L353.25,52.02L353.61,52.19L353.97,52.54L354.33,52.79L354.69,52.95L355.05,53.09L355.41,52.2L355.78,53.7L356.14,53.91L356.5,53.93L356.86,52.56L357.22,52.84L357.58,53.82L357.94,53.76L358.3,52.13L358.66,54.36L359.02,53.01L359.39,51.43L359.75,52.36L360.11,51.8L360.47,52.37L360.83,54.54L361.19,51.19L361.55,53.28L361.91,54.36L362.27,53.98L362.63,52.3L363,51.84L363.36,54.34L363.72,54.69L364.08,54.07L364.44,54.42L364.8,52.68L365.16,54.06L365.52,53.53L365.88,52.83L366.24,52.85L366.61,52.23L366.97,51.97L367.33,52.24L367.69,52.65L368.05,52.8L368.41,52.54L368.77,53.98L369.13,54.92L369.49,53.99L369.85,53.61L370.22,54.12L370.58,52.75L370.94,53.02L371.3,54.31L371.66,54.47L372.02,54.2L372.38,53.08L372.74,54.29L373.1,51.25L373.46,52.92L373.83,52.9L374.19,52.26L374.55,53.15L374.91,51.96L375.27,54.92L375.63,54.28L375.99,52.11L376.35,54.66L376.71,53.3L377.07,51.97L377.44,54.13L377.8,53.47L378.16,52.43L378.52,53.93L378.88,51.88L379.24,51.03L379.6,53.49L379.96,52.94L380.32,53.36L380.68,53.33L381.05,53.63L381.41,52.95L381.77,52.38L382.13,54.96L382.49,53.15L382.85,51.88L383.21,53.68L383.57,52.82L383.93,51.98L384.29,54.51L384.66,53.05L385.02,54.81L385.38,52.67L385.74,53.9L386.1,53.33L386.46,53.48L386.82,52.51L387.18,51.95L387.54,52.7L387.9,53.19L388.27,53.75L388.63,53.56L388.99,50.25L389.35,51.95L389.71,53.08L390.07,53.17L390.43,52.1L390.79,52.92L391.15,52.54L391.51,52.46L391.88,52.72L392.24,52.81L392.6,52.76L392.96,52.31L393.32,52.76L393.68,52.42L394.04,52.69L394.4,52.04L394.76,52.44L395.12,52.38L395.49,51.88L395.85,51.75L396.21,51.41L396.57,51.15L396.93,50.48L397.29,50.78L397.65,50.06L398.01,49.54L398.37,49.11L398.73,48.31L399.1,47.88L399.46,47.47L399.82,46.67L400.18,46.59L400.54,46L400.9,45.89L401.26,45.19L401.62,45.61L401.98,45.9L402.34,46.16L402.71,46.91L403.07,47.83L403.43,48.19L403.79,48.62L404.15,49.76L404.51,51.2L404.87,51.94L405.23,53.03L405.59,53.21L405.95,51.9L406.32,52.42L406.68,52.34L407.04,54.2L407.4,53.11L407.76,52.98L408.12,52.9L408.48,53.64L408.84,52.08L409.2,53.27L409.56,52.5L409.93,53.23L410.29,54.68L410.65,52.9L411.01,52.79L411.37,52.89L411.73,52.14L412.09,52.18L412.45,53.66L412.81,52.46L413.17,54.45L413.54,53.89L413.9,52.05L414.26,50.32L414.62,52.84L414.98,53.6L415.34,53.07L415.7,54.25L416.06,54.65L416.42,53.18L416.78,55.12L417.15,52.3L417.51,52.01L417.87,52.8L418.23,53.43L418.59,51.96L418.95,52.1L419.31,52.15L419.67,51.9L420.03,51.93L420.39,53.14L420.76,52.27L421.12,51.98L421.48,53.5L421.84,54.04L422.2,52.01L422.56,52.39L422.92,52.01L423.28,52.45L423.64,53.73L424,54.07L424.37,51.84L424.73,50.36L425.09,53.69L425.45,55.17L425.81,54.35L426.17,54.04L426.53,52.03L426.89,51.87L427.25,52.85L427.61,52.43L427.98,53.09L428.34,52.73L428.7,53.13L429.06,54.39L429.42,54.83L429.78,52.16L430.14,52.05L430.5,52.94L430.86,51.81L431.22,52.8L431.59,52.76L431.95,52.23L432.31,53.46L432.67,53.71L433.03,54L433.39,52.49L433.75,52.48L434.11,51.96L434.47,52.36L434.83,55.23L435.2,53.29L435.56,53.71L435.92,52.8L436.28,54.39L436.64,54.45L437,53.1L437.36,52.2L437.72,52.95L438.08,52.01L438.44,53.68L438.81,51.93L439.17,52.75L439.53,53.4L439.89,52.07L440.25,53.95L440.61,54.34L440.97,53.57L441.33,53.38L441.69,53.44L442.05,53.66L442.42,52.36L442.78,53.05L443.14,52.85L443.5,53.96L443.86,51.81L444.22,53.32L444.58,54.04L444.94,53.27L445.3,54.82L445.66,54.18L446.03,51.89L446.39,52.17L446.75,53.26L447.11,53.86L447.47,53.16L447.83,51.84L448.19,54.52L448.55,52.86L448.91,54.88L449.27,53.01" fill="none" stroke="#f5a560" stroke-width="0.8" stroke-linejoin="round" />
<path d="M291.52,47.91L291.88,47.52L292.24,47.34L292.6,46.68L292.96,46.35L293.32,45.95L293.68,45.53L294.04,45.23L294.41,44.8L294.77,44.37L295.13,43.93L295.49,43.45L295.85,43.12L296.21,42.69L296.57,42.41L296.93,41.75L297.29,41.39L297.65,41.02L298.02,40.8L298.38,40.22L298.74,39.98L299.1,39.5L299.46,39.12L299.82,38.76L300.18,38.23L300.54,37.7L300.9,37.52L301.26,36.99L301.63,36.69L301.99,36.33L302.35,35.9L302.71,35.51L303.07,35.26L303.43,34.94L303.79,34.53L304.15,34.39L304.51,34.05L304.87,33.49L305.24,33.05L305.6,32.75L305.96,32.43L306.32,32.12L306.68,31.79L307.04,31.4L307.4,31.07L307.76,30.77L308.12,30.42L308.48,30.06L308.85,29.95L309.21,29.69L309.57,29.13L309.93,29.07L310.29,28.73L310.65,28.34L311.01,28.14L311.37,27.79L311.73,27.71L312.09,27.5L312.46,27.43L312.82,27.3L313.18,27.34L313.54,27.38L313.9,27.41L314.26,27.68L314.62,27.64L314.98,27.94L315.34,28.16L315.7,28.21L316.07,28.66L316.43,28.93L316.79,29.08L317.15,29.42L317.51,29.66L317.87,29.9L318.23,30.08L318.59,30.4L318.95,30.47L319.31,30.87L319.68,30.99L320.04,31.26L320.4,31.3L320.76,31.71L321.12,31.61L321.48,32.12L321.84,32.21L322.2,32.42L322.56,32.59L322.92,32.8L323.29,33.17L323.65,33.38L324.01,33.47L324.37,33.64L324.73,33.96L325.09,34.05L325.45,34.16L325.81,34.48L326.17,34.65L326.53,34.98L326.9,34.91L327.26,35.34L327.62,35.53L327.98,35.74L328.34,35.99L328.7,36.17L329.06,36.36L329.42,36.69L329.78,36.74L330.14,36.97L330.51,37.27L330.87,37.56L331.23,37.69L331.59,37.97L331.95,37.92L332.31,38.19L332.67,38.5L333.03,38.77L333.39,38.87L333.75,39.11L334.12,39.23L334.48,39.79L334.84,39.79L335.2,40.2L335.56,40.1L335.92,40.7L336.28,40.85L336.64,41.07L337,41.25L337.36,41.48L337.73,41.6L338.09,41.94L338.45,42.16L338.81,42.38L339.17,42.79L339.53,42.78L339.89,43.25L340.25,43.32L340.61,43.56L340.97,43.97L341.34,44.01L341.7,44.29L342.06,44.55L342.42,44.8L342.78,45.04L343.14,45.24L343.5,45.43L343.86,45.97L344.22,45.83L344.58,46.21L344.95,46.42L345.31,46.74L345.67,46.95L346.03,47.08L346.39,47.42L346.75,47.66L347.11,47.69L347.47,47.93L347.83,48.2L348.19,48.2L348.56,48.54L348.92,48.74L349.28,49L349.64,49.2L350,49.51L350.36,49.55L350.72,50.07L351.08,50.25L351.44,50.66" fill="none" stroke="#f5a560" stroke-width="1.3" stroke-linejoin="round" />
</g>
<rect x="391.3" y="43.2" width="16.5" height="9.1" fill="none" stroke="#e8322f" stroke-width="0.9"/>
<rect x="379.4" y="10.3" width="65.1" height="23.6" fill="#fff"/>
<line x1="394.5" y1="10.3" x2="394.5" y2="33.9" stroke="#e6e6e6" stroke-width="0.8" stroke-dasharray="3,1"/>
<line x1="417.5" y1="10.3" x2="417.5" y2="33.9" stroke="#e6e6e6" stroke-width="0.8" stroke-dasharray="3,1"/>
<line x1="440.5" y1="10.3" x2="440.5" y2="33.9" stroke="#e6e6e6" stroke-width="0.8" stroke-dasharray="3,1"/>
<line x1="383.5" y1="10.3" x2="383.5" y2="33.9" stroke="#d2d2d2" stroke-width="0.9" />
<line x1="406.5" y1="10.3" x2="406.5" y2="33.9" stroke="#d2d2d2" stroke-width="0.9" />
<line x1="429.5" y1="10.3" x2="429.5" y2="33.9" stroke="#d2d2d2" stroke-width="0.9" />
<line x1="379.4" y1="13.5" x2="444.5" y2="13.5" stroke="#d2d2d2" stroke-width="0.9" />
<line x1="379.4" y1="19.5" x2="444.5" y2="19.5" stroke="#d2d2d2" stroke-width="0.9" />
<line x1="379.4" y1="26.5" x2="444.5" y2="26.5" stroke="#d2d2d2" stroke-width="0.9" />
<line x1="379.4" y1="32.5" x2="444.5" y2="32.5" stroke="#d2d2d2" stroke-width="0.9" />
<g clip-path="url(#ci0)">
<path d="M371.67,40.21L371.96,39.99L372.25,40.37L372.54,35.74L372.83,38.86L373.12,37.85L373.4,32.49L373.69,38.14L373.98,40.35L374.27,36.54L374.56,37.51L374.84,39.2L375.13,39.11L375.42,37.95L375.71,32.3L376,39.67L376.28,39.99L376.57,37.03L376.86,39.42L377.15,38.06L377.44,39.49L377.73,36.48L378.01,36.69L378.3,35.06L378.59,38.92L378.88,38.61L379.17,39.24L379.45,34.55L379.74,35.02L380.03,38.58L380.32,31.98L380.61,39.28L380.89,34.73L381.18,33.45L381.47,36.6L381.76,40.24L382.05,37.89L382.34,37.8L382.62,35.88L382.91,34.54L383.2,37.58L383.49,31.78L383.78,36.6L384.06,33.56L384.35,40.32L384.64,40.29L384.93,33.55L385.22,38.99L385.5,31.97L385.79,32.72L386.08,36.45L386.37,36.64L386.66,32.27L386.95,32.73L387.23,33.89L387.52,36.87L387.81,37.82L388.1,37.87L388.39,34.53L388.67,39.36L388.96,38.69L389.25,35.34L389.54,37.2L389.83,33.97L390.11,33.19L390.4,32.88L390.69,35.22L390.98,36.06L391.27,37.89L391.56,35.96L391.84,35.03L392.13,39.35L392.42,39.23L392.71,36.09L393,35.86L393.28,32.75L393.57,36.7L393.86,35.61L394.15,35.97L394.44,37.42L394.72,35.12L395.01,36.48L395.3,34.16L395.59,36.49L395.88,37.73L396.17,37.78L396.45,34.99L396.74,32.9L397.03,38.59L397.32,35.55L397.61,36.2L397.89,36.54L398.18,37.25L398.47,33L398.76,32.65L399.05,33.46L399.33,36.5L399.62,35.5L399.91,33.27L400.2,33.28L400.49,33.79L400.78,32.87L401.06,32.04L401.35,35.15L401.64,34.52L401.93,34.22L402.22,34.61L402.5,30.55L402.79,32.41L403.08,34.79L403.37,33.83L403.66,37.05L403.94,32.76L404.23,37.44L404.52,36.4L404.81,32.26L405.1,31.4L405.39,34.13L405.67,33.41L405.96,32.76L406.25,32.46L406.54,30.56L406.83,33.4L407.11,29.48L407.4,32.69L407.69,37.65L407.98,29.84L408.27,31.35L408.55,32.69L408.84,35.73L409.13,32.33L409.42,28.36L409.71,28.89L410,33.25L410.28,32.75L410.57,29.01L410.86,31.71L411.15,32.51L411.44,30.93L411.72,32.77L412.01,36.03L412.3,30.75L412.59,32.9L412.88,27.69L413.16,29.74L413.45,32.06L413.74,34.2L414.03,31.53L414.32,30.17L414.61,31.9L414.89,26.76L415.18,25.45L415.47,28.24L415.76,33.6L416.05,32.71L416.33,34.57L416.62,31.09L416.91,31.73L417.2,30.09L417.49,32.64L417.77,34.68L418.06,29.51L418.35,32.09L418.64,29.83L418.93,26.87L419.22,32.56L419.5,27.64L419.79,32.28L420.08,31.8L420.37,29.7L420.66,37.56L420.94,31L421.23,31.2L421.52,30.5L421.81,29.28L422.1,31.65L422.38,32.49L422.67,30.7L422.96,31.52L423.25,28.62L423.54,34.28L423.83,31.02L424.11,30.98L424.4,30.61L424.69,33.95L424.98,34.29L425.27,31.74L425.55,34.62L425.84,39.24L426.13,35.81L426.42,34.88L426.71,36.24L426.99,36.36L427.28,34.84L427.57,32.47L427.86,34.14L428.15,33.54L428.44,37.72L428.72,36.16L429.01,33.25L429.3,37.93L429.59,34.98L429.88,31.39L430.16,36.42L430.45,35.09L430.74,33.09L431.03,35.06L431.32,37.23L431.6,37.52L431.89,36.07L432.18,35.7L432.47,39.32L432.76,36.52L433.05,35.64L433.33,38.54L433.62,38.93L433.91,37.66L434.2,36.57L434.49,34.44L434.77,36.2L435.06,33.71L435.35,38.57L435.64,35.48L435.93,38.5L436.21,34.93L436.5,35.83L436.79,39.75L437.08,39.39L437.37,39.25L437.66,35.74L437.94,37.69L438.23,34.89L438.52,35.7L438.81,40.32L439.1,40.35L439.38,37.42L439.67,31.88L439.96,39.34L440.25,34.49L440.54,40.32L440.82,31.99L441.11,38.39L441.4,40.27L441.69,35.13L441.98,40.17L442.27,39.14L442.55,35.08L442.84,40.36L443.13,39.89L443.42,39.33L443.71,36.65L443.99,39.69L444.28,40.37L444.57,39.17L444.86,40.36L445.15,39.34L445.43,35.61L445.72,36.06L446.01,40.29L446.3,40.37L446.59,38.42L446.88,40.37L447.16,39.54L447.45,40.35L447.74,38.94L448.03,39.96L448.32,39.04L448.6,38.88L448.89,40.2L449.18,40.15L449.47,39.72L449.76,40.34L450.04,40.36L450.33,39.35L450.62,39.51L450.91,33.32L451.2,40.37L451.49,31.91L451.77,37.3L452.06,37.04" fill="none" stroke="#3fa9f0" stroke-width="0.6" stroke-linejoin="round" />
<path d="M371.67,35.1L371.96,30.84L372.25,31.67L372.54,30.22L372.83,33.07L373.12,34.98L373.4,31.89L373.69,31.58L373.98,32.62L374.27,32.88L374.56,33.52L374.84,32.95L375.13,33.68L375.42,31.64L375.71,33.26L376,32.82L376.28,30.82L376.57,29.55L376.86,29.81L377.15,30.86L377.44,32.25L377.73,32.63L378.01,32.32L378.3,32.97L378.59,33.11L378.88,31.9L379.17,32.6L379.45,32.79L379.74,29.22L380.03,31.94L380.32,32.4L380.61,29.93L380.89,29.07L381.18,33.5L381.47,33.76L381.76,32.17L382.05,29.25L382.34,31.88L382.62,32.48L382.91,31.15L383.2,31.58L383.49,33.9L383.78,29.05L384.06,29.56L384.35,30.36L384.64,29.19L384.93,32.41L385.22,33.43L385.5,30.15L385.79,33.84L386.08,31.19L386.37,32.3L386.66,30.92L386.95,28.35L387.23,33.58L387.52,32.53L387.81,31.66L388.1,29.29L388.39,29.82L388.67,32.45L388.96,33.88L389.25,31.21L389.54,34.23L389.83,29.18L390.11,31.66L390.4,31L390.69,31.37L390.98,30.47L391.27,33.44L391.56,31.19L391.84,33.74L392.13,29.85L392.42,32.66L392.71,32.62L393,30.28L393.28,29.99L393.57,28.97L393.86,29.53L394.15,31.11L394.44,29.79L394.72,30.34L395.01,32.29L395.3,31.36L395.59,29.36L395.88,29.26L396.17,29.82L396.45,30.24L396.74,28.81L397.03,29.88L397.32,30.86L397.61,31.13L397.89,31.07L398.18,29.86L398.47,30.07L398.76,28.16L399.05,29.33L399.33,28.2L399.62,28.84L399.91,28.84L400.2,27.77L400.49,28.59L400.78,28.54L401.06,30.15L401.35,28.41L401.64,29.3L401.93,27.65L402.22,27.67L402.5,27.63L402.79,28.3L403.08,27.66L403.37,25.42L403.66,25.63L403.94,26.72L404.23,24.72L404.52,26.14L404.81,27.44L405.1,25.73L405.39,25.35L405.67,25.88L405.96,25.31L406.25,24.03L406.54,25.02L406.83,23.92L407.11,23.11L407.4,24.36L407.69,23.53L407.98,23.87L408.27,21.9L408.55,20.57L408.84,21.23L409.13,23.72L409.42,20.41L409.71,22.14L410,20.7L410.28,21.86L410.57,18.19L410.86,19.62L411.15,20.24L411.44,19.15L411.72,17.39L412.01,20.71L412.3,17.56L412.59,18.24L412.88,20.08L413.16,17.53L413.45,16.88L413.74,17.76L414.03,18.44L414.32,17.86L414.61,16.76L414.89,15.7L415.18,16.28L415.47,15.45L415.76,17.39L416.05,17.47L416.33,14.44L416.62,13.85L416.91,16.05L417.2,15.4L417.49,15.4L417.77,14.52L418.06,14.68L418.35,14.92L418.64,15.31L418.93,17.43L419.22,13.7L419.5,16.84L419.79,16.64L420.08,17.78L420.37,16.77L420.66,17.52L420.94,17.21L421.23,18L421.52,16.72L421.81,17.25L422.1,19.42L422.38,17.07L422.67,19.54L422.96,16.55L423.25,19.15L423.54,19.25L423.83,20L424.11,19.48L424.4,17.4L424.69,20.38L424.98,20.79L425.27,21.76L425.55,22.37L425.84,21.01L426.13,21.09L426.42,23.56L426.71,23.29L426.99,23.86L427.28,24.54L427.57,24.21L427.86,25.48L428.15,26.06L428.44,22.58L428.72,28.39L429.01,26.8L429.3,26.4L429.59,28.33L429.88,29.45L430.16,28.36L430.45,28.68L430.74,28.66L431.03,31.74L431.32,30.97L431.6,30.45L431.89,29.67L432.18,31.15L432.47,29.28L432.76,32.84L433.05,33.02L433.33,33.36L433.62,30.48L433.91,32.85L434.2,30.27L434.49,34.27L434.77,29.45L435.06,32.95L435.35,30.13L435.64,32.23L435.93,31.81L436.21,30.55L436.5,29.07L436.79,32.68L437.08,32.55L437.37,29.8L437.66,32.44L437.94,29.68L438.23,31.82L438.52,30.77L438.81,32.77L439.1,30.05L439.38,30.61L439.67,29.48L439.96,29.07L440.25,30.19L440.54,32.6L440.82,34.21L441.11,35.05L441.4,30.77L441.69,27.66L441.98,30.59L442.27,33.84L442.55,33.61L442.84,29.99L443.13,34.18L443.42,33.61L443.71,32.19L443.99,31.22L444.28,33.07L444.57,30.68L444.86,35.05L445.15,27.28L445.43,34.92L445.72,29.99L446.01,31.27L446.3,35.05L446.59,33.46L446.88,30.93L447.16,31.29L447.45,29.63L447.74,32.72L448.03,30.1L448.32,30.2L448.6,34.65L448.89,31.39L449.18,30.52L449.47,35.34L449.76,29.97L450.04,35.27L450.33,30.1L450.62,32.39L450.91,33.02L451.2,27.93L451.49,33.72L451.77,28.21L452.06,32.98" fill="none" stroke="#f5a560" stroke-width="0.6" stroke-linejoin="round" />
</g>
<rect x="379.4" y="10.3" width="65.1" height="23.6" fill="none" stroke="#000" stroke-width="0.9"/>
<line x1="377.9" y1="13.6" x2="379.4" y2="13.6" stroke="#000" stroke-width="0.5" />
<text x="377.5" y="15" font-size="4.2" text-anchor="end" font-family="Liberation Serif" >&#8722;28</text>
<line x1="377.9" y1="19.9" x2="379.4" y2="19.9" stroke="#000" stroke-width="0.5" />
<text x="377.5" y="21.3" font-size="4.2" text-anchor="end" font-family="Liberation Serif" >&#8722;32</text>
<line x1="377.9" y1="26.2" x2="379.4" y2="26.2" stroke="#000" stroke-width="0.5" />
<text x="377.5" y="27.6" font-size="4.2" text-anchor="end" font-family="Liberation Serif" >&#8722;36</text>
<line x1="377.9" y1="32.5" x2="379.4" y2="32.5" stroke="#000" stroke-width="0.5" />
<text x="377.5" y="33.9" font-size="4.2" text-anchor="end" font-family="Liberation Serif" >&#8722;40</text>
<line x1="383.2" y1="33.9" x2="383.2" y2="35.4" stroke="#000" stroke-width="0.5" />
<text x="383.2" y="39.5" font-size="4.2" text-anchor="middle" font-family="Liberation Serif" >1136</text>
<line x1="406.25" y1="33.9" x2="406.25" y2="35.4" stroke="#000" stroke-width="0.5" />
<text x="406.25" y="39.5" font-size="4.2" text-anchor="middle" font-family="Liberation Serif" >1140</text>
<line x1="429.3" y1="33.9" x2="429.3" y2="35.4" stroke="#000" stroke-width="0.5" />
<text x="429.3" y="39.5" font-size="4.2" text-anchor="middle" font-family="Liberation Serif" >1144</text>
<line x1="282.94" y1="55.1" x2="282.94" y2="58.1" stroke="#000" stroke-width="1.0" />
<line x1="311.82" y1="55.1" x2="311.82" y2="58.1" stroke="#000" stroke-width="1.0" />
<line x1="340.7" y1="55.1" x2="340.7" y2="58.1" stroke="#000" stroke-width="1.0" />
<line x1="369.58" y1="55.1" x2="369.58" y2="58.1" stroke="#000" stroke-width="1.0" />
<line x1="398.46" y1="55.1" x2="398.46" y2="58.1" stroke="#000" stroke-width="1.0" />
<line x1="427.34" y1="55.1" x2="427.34" y2="58.1" stroke="#000" stroke-width="1.0" />
<line x1="268.5" y1="55.1" x2="268.5" y2="57.1" stroke="#000" stroke-width="1.0" />
<line x1="282.94" y1="55.1" x2="282.94" y2="57.1" stroke="#000" stroke-width="1.0" />
<line x1="297.38" y1="55.1" x2="297.38" y2="57.1" stroke="#000" stroke-width="1.0" />
<line x1="311.82" y1="55.1" x2="311.82" y2="57.1" stroke="#000" stroke-width="1.0" />
<line x1="326.26" y1="55.1" x2="326.26" y2="57.1" stroke="#000" stroke-width="1.0" />
<line x1="340.7" y1="55.1" x2="340.7" y2="57.1" stroke="#000" stroke-width="1.0" />
<line x1="355.14" y1="55.1" x2="355.14" y2="57.1" stroke="#000" stroke-width="1.0" />
<line x1="369.58" y1="55.1" x2="369.58" y2="57.1" stroke="#000" stroke-width="1.0" />
<line x1="384.02" y1="55.1" x2="384.02" y2="57.1" stroke="#000" stroke-width="1.0" />
<line x1="398.46" y1="55.1" x2="398.46" y2="57.1" stroke="#000" stroke-width="1.0" />
<line x1="412.9" y1="55.1" x2="412.9" y2="57.1" stroke="#000" stroke-width="1.0" />
<line x1="427.34" y1="55.1" x2="427.34" y2="57.1" stroke="#000" stroke-width="1.0" />
<line x1="441.78" y1="55.1" x2="441.78" y2="57.1" stroke="#000" stroke-width="1.0" />
<line x1="268.4" y1="14.8" x2="265.4" y2="14.8" stroke="#000" stroke-width="1.0" />
<line x1="268.4" y1="27.3" x2="265.4" y2="27.3" stroke="#000" stroke-width="1.0" />
<line x1="268.4" y1="39.8" x2="265.4" y2="39.8" stroke="#000" stroke-width="1.0" />
<line x1="268.4" y1="52.3" x2="265.4" y2="52.3" stroke="#000" stroke-width="1.0" />
<line x1="268.4" y1="21.05" x2="266.4" y2="21.05" stroke="#000" stroke-width="1.0" />
<line x1="268.4" y1="33.55" x2="266.4" y2="33.55" stroke="#000" stroke-width="1.0" />
<line x1="268.4" y1="46.05" x2="266.4" y2="46.05" stroke="#000" stroke-width="1.0" />
<text x="264.9" y="18.6" font-size="11.0" text-anchor="end" font-family="Liberation Serif" >20</text>
<text x="264.9" y="31.1" font-size="11.0" text-anchor="end" font-family="Liberation Serif" >0</text>
<text x="264.9" y="43.6" font-size="11.0" text-anchor="end" font-family="Liberation Serif" >&#8722;20</text>
<text x="264.9" y="56.1" font-size="11.0" text-anchor="end" font-family="Liberation Serif" >&#8722;40</text>
<line x1="268.4" y1="12.4" x2="284.9" y2="12.4" stroke="#3fa9f0" stroke-width="1" />
<line x1="268.4" y1="20.8" x2="284.9" y2="20.8" stroke="#f5a560" stroke-width="1" />
<text x="286" y="15" font-size="6.9" text-anchor="start" font-family="Liberation Serif" >2&#160; m AR-HCF</text>
<text x="286" y="23.4" font-size="6.9" text-anchor="start" font-family="Liberation Serif" >200 m AR-HCF</text>
<text x="329.3" y="33.2" font-size="7.6" font-family="Liberation Serif"><tspan font-style="italic">P</tspan><tspan font-size="5.0" dy="1.8">in</tspan><tspan dy="-1.8">=2259 W</tspan></text>
<line x1="297.5" y1="55.1" x2="297.5" y2="102.5" stroke="#e6e6e6" stroke-width="0.8" stroke-dasharray="3,1"/>
<line x1="326.5" y1="55.1" x2="326.5" y2="102.5" stroke="#e6e6e6" stroke-width="0.8" stroke-dasharray="3,1"/>
<line x1="355.5" y1="55.1" x2="355.5" y2="102.5" stroke="#e6e6e6" stroke-width="0.8" stroke-dasharray="3,1"/>
<line x1="384.5" y1="55.1" x2="384.5" y2="102.5" stroke="#e6e6e6" stroke-width="0.8" stroke-dasharray="3,1"/>
<line x1="412.5" y1="55.1" x2="412.5" y2="102.5" stroke="#e6e6e6" stroke-width="0.8" stroke-dasharray="3,1"/>
<line x1="441.5" y1="55.1" x2="441.5" y2="102.5" stroke="#e6e6e6" stroke-width="0.8" stroke-dasharray="3,1"/>
<line x1="268.4" y1="80.5" x2="449" y2="80.5" stroke="#e6e6e6" stroke-width="0.8" stroke-dasharray="3,1"/>
<line x1="268.4" y1="92.5" x2="449" y2="92.5" stroke="#e6e6e6" stroke-width="0.8" stroke-dasharray="3,1"/>
<line x1="282.5" y1="55.1" x2="282.5" y2="102.5" stroke="#d2d2d2" stroke-width="0.9" />
<line x1="311.5" y1="55.1" x2="311.5" y2="102.5" stroke="#d2d2d2" stroke-width="0.9" />
<line x1="340.5" y1="55.1" x2="340.5" y2="102.5" stroke="#d2d2d2" stroke-width="0.9" />
<line x1="369.5" y1="55.1" x2="369.5" y2="102.5" stroke="#d2d2d2" stroke-width="0.9" />
<line x1="398.5" y1="55.1" x2="398.5" y2="102.5" stroke="#d2d2d2" stroke-width="0.9" />
<line x1="427.5" y1="55.1" x2="427.5" y2="102.5" stroke="#d2d2d2" stroke-width="0.9" />
<line x1="268.4" y1="74.5" x2="449" y2="74.5" stroke="#d2d2d2" stroke-width="0.9" />
<line x1="268.4" y1="86.5" x2="449" y2="86.5" stroke="#d2d2d2" stroke-width="0.9" />
<line x1="268.4" y1="98.5" x2="449" y2="98.5" stroke="#d2d2d2" stroke-width="0.9" />
<g clip-path="url(#cb1)">
<path d="M268.74,111.27L268.74,100.45L269.17,100.45L269.61,102.89L270.04,100.45L270.47,101.31L270.91,100.57L271.34,101.92L271.77,101.97L272.21,101.13L272.64,101.55L273.07,100.45L273.51,101.26L273.94,101.23L274.37,100.45L274.81,100.45L275.24,101.41L275.67,100.45L276.1,100.45L276.54,100.45L276.97,100.6L277.4,100.45L277.84,102.64L278.27,100.45L278.7,102.52L279.14,100.63L279.57,101.74L280,100.45L280.44,101.17L280.87,101.47L281.3,102.44L281.74,100.96L282.17,100.45L282.6,100.45L283.04,100.45L283.47,101.37L283.9,102.77L284.34,102.03L284.77,100.45L285.2,102.16L285.64,100.45L286.07,100.7L286.5,100.45L286.93,101.88L287.37,100.45L287.8,100.68L288.23,101.03L288.67,100.45L289.1,100.46L289.53,101.79L289.97,101.11L290.4,100.45L290.4,111.27Z" fill="#3fa9f0" fill-opacity="1.0"/>
<path d="M353.21,111.27L353.21,100.88L353.65,100.45L354.08,100.45L354.51,100.45L354.95,102.23L355.38,100.45L355.81,100.45L356.25,100.67L356.68,102.77L357.11,100.45L357.55,101.92L357.98,100.45L358.41,101.18L358.85,100.45L359.28,102.27L359.71,100.69L360.15,100.45L360.58,100.74L361.01,102.54L361.45,100.45L361.88,100.46L362.31,100.45L362.74,101.31L363.18,100.45L363.61,101L364.04,100.46L364.48,101.85L364.91,102.08L365.34,100.65L365.78,100.45L366.21,100.85L366.64,100.45L367.08,100.81L367.51,101.7L367.94,101.92L368.38,100.45L368.81,100.45L369.24,100.45L369.68,100.45L370.11,100.45L370.54,102.03L370.98,102.89L371.41,102.37L371.84,101.06L372.28,100.45L372.71,100.49L373.14,101.27L373.57,101.22L374.01,102.02L374.44,100.45L374.87,101.07L375.31,102.08L375.74,100.99L376.17,100.45L376.61,100.45L377.04,100.45L377.47,100.45L377.91,100.45L378.34,101.97L378.77,101.37L379.21,101.17L379.64,100.85L380.07,101.03L380.51,101.09L380.94,101.45L381.37,101.86L381.81,101.56L382.24,100.45L382.67,101.43L383.11,100.78L383.54,102.47L383.97,102.29L384.4,100.45L384.84,100.45L385.27,100.45L385.7,101.89L386.14,100.83L386.57,100.45L387,100.45L387.44,101.57L387.87,100.45L388.3,101.1L388.74,102.1L389.17,101.64L389.6,100.63L390.04,100.45L390.47,100.45L390.9,101.87L391.34,101.58L391.77,100.45L392.2,101.9L392.64,100.45L393.07,100.45L393.5,100.45L393.94,100.45L394.37,100.45L394.8,100.52L395.23,100.45L395.67,100.45L396.1,100.45L396.53,100.6L396.97,100.52L397.4,100.45L397.83,100.67L398.27,101.84L398.7,100.45L399.13,101.77L399.57,100.67L400,101.66L400.43,100.45L400.87,100.45L401.3,100.45L401.73,100.45L402.17,100.45L402.6,100.57L403.03,100.45L403.47,102.46L403.9,100.45L404.33,102.14L404.77,102.15L405.2,102.01L405.63,100.58L406.06,100.95L406.5,100.45L406.93,102.8L407.36,102.43L407.8,100.45L408.23,100.46L408.66,100.45L409.1,101.55L409.53,100.45L409.96,100.5L410.4,101.75L410.83,100.45L411.26,100.45L411.7,101.18L412.13,100.45L412.56,102.43L413,100.57L413.43,100.45L413.86,102.64L414.3,100.45L414.73,100.45L415.16,101L415.6,102.84L416.03,102.53L416.46,102.46L416.89,100.45L417.33,101.5L417.76,100.45L418.19,100.45L418.63,100.49L419.06,102.41L419.49,100.45L419.93,100.69L420.36,101.01L420.79,100.62L421.23,102.56L421.66,100.45L422.09,100.79L422.53,101.51L422.96,102.6L423.39,101.12L423.83,102.72L424.26,100.56L424.69,100.93L425.13,101.1L425.56,100.45L425.99,100.45L426.43,100.81L426.86,100.74L427.29,101L427.72,101.46L428.16,102.5L428.59,101.08L429.02,100.45L429.46,102.29L429.89,100.48L430.32,100.45L430.76,100.45L431.19,101.73L431.62,100.45L432.06,101.1L432.49,100.61L432.92,100.45L433.36,100.45L433.79,102.24L434.22,101.2L434.66,101.53L435.09,102.59L435.52,100.97L435.96,102.12L436.39,101.73L436.82,100.93L437.26,101.26L437.69,101.21L438.12,101.92L438.55,100.46L438.99,101.89L439.42,100.45L439.85,100.45L440.29,100.45L440.72,102.64L441.15,102.56L441.59,100.45L442.02,102.15L442.45,100.45L442.89,100.45L443.32,102.47L443.75,100.45L444.19,100.45L444.62,101.53L445.05,100.45L445.49,102.77L445.92,100.89L446.35,100.45L446.79,101.08L447.22,101.03L447.65,100.61L448.09,100.45L448.52,100.9L448.95,101.45L448.95,111.27Z" fill="#3fa9f0" fill-opacity="1.0"/>
<path d="M268.74,100.11L269.17,99.78L269.61,102.89L270.04,99.26L270.47,101.31L270.91,100.57L271.34,101.92L271.77,101.97L272.21,101.13L272.64,101.55L273.07,99.48L273.51,101.26L273.94,101.23L274.37,100.01L274.81,99.28L275.24,101.41L275.67,100.25L276.1,99.9L276.54,100.15L276.97,100.6L277.4,100.1L277.84,102.64L278.27,99.68L278.7,102.52L279.14,100.63L279.57,101.74L280,99.47L280.44,101.17L280.87,101.47L281.3,102.44L281.74,100.96L282.17,99.46L282.6,100.09L283.04,99.78L283.47,101.37L283.9,102.77L284.34,102.03L284.77,99.22L285.2,102.16L285.64,100.29L286.07,100.7L286.5,100.35L286.93,101.88L287.37,100.26L287.8,100.68L288.23,101.03L288.67,100.19L289.1,100.46L289.53,101.79L289.97,101.11L290.4,99.72L290.83,95.05L291.27,94.83L291.7,94.2L292.13,93.85L292.57,93.15L293,92.97L293.43,92.34L293.87,91.76L294.3,91.52L294.73,91.06L295.17,90.53L295.6,90.07L296.03,89.65L296.47,89.13L296.9,88.51L297.33,88.03L297.76,87.69L298.2,87.21L298.63,86.61L299.06,86.1L299.5,85.64L299.93,85.16L300.36,84.51L300.8,84.11L301.23,83.69L301.66,83.35L302.1,82.68L302.53,82.41L302.96,81.94L303.4,81.77L303.83,81.03L304.26,80.86L304.7,80.35L305.13,79.79L305.56,79.51L306,79.17L306.43,78.64L306.86,78.23L307.3,77.93L307.73,77.51L308.16,77.32L308.59,76.85L309.03,76.57L309.46,76.38L309.89,75.82L310.33,75.54L310.76,75.2L311.19,74.86L311.63,74.65L312.06,74.38L312.49,74.36L312.93,74.15L313.36,74.23L313.79,74.24L314.23,74.48L314.66,74.63L315.09,74.72L315.53,75.23L315.96,75.5L316.39,76.01L316.83,76.34L317.26,76.64L317.69,76.91L318.13,77.46L318.56,77.67L318.99,77.83L319.42,78.41L319.86,78.48L320.29,78.84L320.72,78.92L321.16,79.39L321.59,79.73L322.02,79.77L322.46,80.03L322.89,80.4L323.32,80.53L323.76,81.01L324.19,81.23L324.62,81.57L325.06,81.86L325.49,82.02L325.92,82.35L326.36,82.42L326.79,82.92L327.22,83.1L327.66,83.59L328.09,83.62L328.52,83.95L328.96,84.22L329.39,84.41L329.82,84.71L330.25,85.05L330.69,85.14L331.12,85.46L331.55,85.79L331.99,85.85L332.42,86.26L332.85,86.44L333.29,86.7L333.72,87.09L334.15,87.29L334.59,87.61L335.02,87.95L335.45,88.18L335.89,88.26L336.32,88.69L336.75,88.83L337.19,89.19L337.62,89.68L338.05,89.84L338.49,90.03L338.92,90.38L339.35,90.63L339.79,90.93L340.22,91.31L340.65,91.44L341.08,91.64L341.52,92.15L341.95,92.43L342.38,92.68L342.82,92.92L343.25,93.33L343.68,93.51L344.12,93.94L344.55,94.28L344.98,94.71L345.42,94.81L345.85,95.08L346.28,95.58L346.72,95.84L347.15,96.26L347.58,96.61L348.02,96.73L348.45,97.12L348.88,97.72L349.32,97.77L349.75,98.13L350.18,98.29L350.62,98.73L351.05,99.06L351.48,99.49L351.91,99.78L352.35,99.75L352.78,100.28L353.21,100.73L353.65,100.17L354.08,100.19L354.51,99.6L354.95,102.09L355.38,99.54L355.81,99.26L356.25,100.67L356.68,102.72L357.11,99.96L357.55,101.92L357.98,100.16L358.41,101.18L358.85,99.93L359.28,102.27L359.71,100.69L360.15,99.3L360.58,100.74L361.01,102.54L361.45,100.45L361.88,100.46L362.31,99.63L362.74,101.31L363.18,100.27L363.61,101L364.04,100.46L364.48,101.85L364.91,102.08L365.34,100.65L365.78,99.91L366.21,100.85L366.64,99.79L367.08,100.81L367.51,101.7L367.94,101.92L368.38,99.99L368.81,99.33L369.24,99.92L369.68,99.49L370.11,99.74L370.54,102.03L370.98,102.89L371.41,102.37L371.84,101.06L372.28,100.14L372.71,100.49L373.14,101.27L373.57,101.22L374.01,102.02L374.44,100.35L374.87,101.07L375.31,102.08L375.74,100.99L376.17,99.86L376.61,100.16L377.04,99.7L377.47,99.81L377.91,99.86L378.34,101.97L378.77,101.37L379.21,101.17L379.64,100.85L380.07,101.03L380.51,101.09L380.94,101.45L381.37,101.86L381.81,101.56L382.24,99.41L382.67,101.43L383.11,100.78L383.54,102.47L383.97,102.29L384.4,99.33L384.84,100.31L385.27,100.29L385.7,101.89L386.14,100.83L386.57,99.49L387,99.98L387.44,101.57L387.87,100.32L388.3,101.07L388.74,101.06L389.17,100.29L389.6,100.63L390.04,99.61L390.47,99.29L390.9,100.64L391.34,100.39L391.77,98.45L392.2,100.34L392.64,99.68L393.07,99.57L393.5,98.12L393.94,98.09L394.37,97.89L394.8,97.04L395.23,97.37L395.67,96.87L396.1,96.81L396.53,98.01L396.97,97.87L397.4,97.22L397.83,96.64L398.27,96.12L398.7,96.14L399.13,95.35L399.57,94.91L400,93.88L400.43,93.66L400.87,92.67L401.3,92.33L401.73,92.07L402.17,92.63L402.6,92.92L403.03,93.35L403.47,94.93L403.9,94.84L404.33,96.9L404.77,97.35L405.2,98.84L405.63,100.12L406.06,100.39L406.5,99.81L406.93,100.95L407.36,100.8L407.8,100.4L408.23,100.46L408.66,100.25L409.1,101.55L409.53,99.96L409.96,100.5L410.4,101.75L410.83,99.67L411.26,99.71L411.7,101.18L412.13,100.02L412.56,102.43L413,100.57L413.43,100.43L413.86,102.64L414.3,99.75L414.73,99.59L415.16,101L415.6,102.84L416.03,102.53L416.46,102.46L416.89,100.4L417.33,101.5L417.76,100.36L418.19,100.27L418.63,100.49L419.06,102.41L419.49,100.42L419.93,100.69L420.36,101.01L420.79,100.62L421.23,102.56L421.66,99.56L422.09,100.79L422.53,101.51L422.96,102.6L423.39,101.12L423.83,102.72L424.26,100.56L424.69,100.93L425.13,101.1L425.56,100.4L425.99,99.7L426.43,100.81L426.86,100.74L427.29,101L427.72,101.46L428.16,102.5L428.59,101.08L429.02,99.43L429.46,102.29L429.89,100.48L430.32,100.14L430.76,99.48L431.19,101.73L431.62,100.21L432.06,101.1L432.49,100.61L432.92,100.3L433.36,100.36L433.79,102.24L434.22,101.2L434.66,101.53L435.09,102.59L435.52,100.97L435.96,102.12L436.39,101.73L436.82,100.93L437.26,101.26L437.69,101.21L438.12,101.92L438.55,100.46L438.99,101.89L439.42,100.05L439.85,99.39L440.29,100.07L440.72,102.64L441.15,102.56L441.59,99.74L442.02,102.15L442.45,99.71L442.89,99.36L443.32,102.47L443.75,99.94L444.19,100.01L444.62,101.53L445.05,99.71L445.49,102.77L445.92,100.89L446.35,99.44L446.79,101.08L447.22,101.03L447.65,100.61L448.09,100.14L448.52,100.9L448.95,101.45" fill="none" stroke="#3fa9f0" stroke-width="0.8" stroke-linejoin="round" />
<path d="M291.27,94.83L291.7,94.2L292.13,93.85L292.57,93.15L293,92.97L293.43,92.34L293.87,91.76L294.3,91.52L294.73,91.06L295.17,90.53L295.6,90.07L296.03,89.65L296.47,89.13L296.9,88.51L297.33,88.03L297.76,87.69L298.2,87.21L298.63,86.61L299.06,86.1L299.5,85.64L299.93,85.16L300.36,84.51L300.8,84.11L301.23,83.69L301.66,83.35L302.1,82.68L302.53,82.41L302.96,81.94L303.4,81.77L303.83,81.03L304.26,80.86L304.7,80.35L305.13,79.79L305.56,79.51L306,79.17L306.43,78.64L306.86,78.23L307.3,77.93L307.73,77.51L308.16,77.32L308.59,76.85L309.03,76.57L309.46,76.38L309.89,75.82L310.33,75.54L310.76,75.2L311.19,74.86L311.63,74.65L312.06,74.38L312.49,74.36L312.93,74.15L313.36,74.23L313.79,74.24L314.23,74.48L314.66,74.63L315.09,74.72L315.53,75.23L315.96,75.5L316.39,76.01L316.83,76.34L317.26,76.64L317.69,76.91L318.13,77.46L318.56,77.67L318.99,77.83L319.42,78.41L319.86,78.48L320.29,78.84L320.72,78.92L321.16,79.39L321.59,79.73L322.02,79.77L322.46,80.03L322.89,80.4L323.32,80.53L323.76,81.01L324.19,81.23L324.62,81.57L325.06,81.86L325.49,82.02L325.92,82.35L326.36,82.42L326.79,82.92L327.22,83.1L327.66,83.59L328.09,83.62L328.52,83.95L328.96,84.22L329.39,84.41L329.82,84.71L330.25,85.05L330.69,85.14L331.12,85.46L331.55,85.79L331.99,85.85L332.42,86.26L332.85,86.44L333.29,86.7L333.72,87.09L334.15,87.29L334.59,87.61L335.02,87.95L335.45,88.18L335.89,88.26L336.32,88.69L336.75,88.83L337.19,89.19L337.62,89.68L338.05,89.84L338.49,90.03L338.92,90.38L339.35,90.63L339.79,90.93L340.22,91.31L340.65,91.44L341.08,91.64L341.52,92.15L341.95,92.43L342.38,92.68L342.82,92.92L343.25,93.33L343.68,93.51L344.12,93.94L344.55,94.28L344.98,94.71L345.42,94.81L345.85,95.08L346.28,95.58L346.72,95.84L347.15,96.26L347.58,96.61L348.02,96.73L348.45,97.12" fill="none" stroke="#3fa9f0" stroke-width="1.5" stroke-linejoin="round" />
<path d="M268.62,111.27L268.62,99.48L268.98,100.21L269.34,100.94L269.7,100.59L270.06,99.83L270.43,99.7L270.79,100.48L271.15,99.47L271.51,100.85L271.87,99.03L272.23,100.61L272.59,99.09L272.95,99.44L273.31,98.9L273.67,98.9L274.04,99.33L274.4,99.49L274.76,99.01L275.12,98.9L275.48,99.72L275.84,98.9L276.2,101.68L276.56,98.9L276.92,98.9L277.28,99.34L277.65,100.57L278.01,99.18L278.37,99.12L278.73,100.43L279.09,98.9L279.45,98.9L279.81,99.36L280.17,99.07L280.53,100.83L280.89,99.25L281.26,98.9L281.62,99.53L281.98,99.17L282.34,99.48L282.7,100.14L283.06,98.9L283.42,100.81L283.78,99.09L284.14,98.9L284.5,99.26L284.87,99.08L285.23,98.77L285.59,99.39L285.95,98.69L286.31,98.26L286.67,98.07L287.03,97.52L287.39,97.12L287.75,96.9L288.11,97.48L288.48,96.28L288.84,96.2L289.2,96.59L289.56,96.38L289.92,95.54L290.28,95.72L290.64,95.46L291,95.36L291,111.27Z" fill="#f5a560" fill-opacity="1.0"/>
<path d="M354.9,111.27L354.9,98.9L355.26,98.9L355.62,99.3L355.98,99.51L356.34,101.66L356.7,98.9L357.07,100.13L357.43,99.86L357.79,99.29L358.15,99.25L358.51,98.9L358.87,100.09L359.23,98.93L359.59,99.76L359.95,99.3L360.31,99.85L360.68,100.16L361.04,100.68L361.4,98.9L361.76,100.66L362.12,98.9L362.48,98.9L362.84,101.54L363.2,99.25L363.56,99.18L363.92,100.22L364.29,100.63L364.65,99.2L365.01,99.62L365.37,98.9L365.73,100.06L366.09,101.48L366.45,100.98L366.81,98.9L367.17,98.9L367.53,98.9L367.9,99.41L368.26,99.94L368.62,99.65L368.98,101.43L369.34,99.29L369.7,100.33L370.06,100.88L370.42,99.73L370.78,99.11L371.14,98.94L371.51,100.12L371.87,99.57L372.23,100.85L372.59,98.9L372.95,99.19L373.31,98.9L373.67,99.92L374.03,99.62L374.39,98.9L374.75,98.9L375.12,98.9L375.48,101.02L375.84,99.95L376.2,98.99L376.56,100.27L376.92,99.52L377.28,98.9L377.64,98.9L378,98.9L378.36,99.92L378.73,99.09L379.09,99.93L379.45,99.79L379.81,100.28L380.17,98.9L380.53,99.33L380.89,99.01L381.25,101.8L381.61,98.9L381.97,98.9L382.34,99.42L382.7,100.61L383.06,99.2L383.42,98.9L383.78,100.83L384.14,98.9L384.5,99.85L384.86,100.82L385.22,99.76L385.58,99.56L385.95,99.37L386.31,99.17L386.67,98.9L387.03,100.61L387.39,99.19L387.75,99.38L388.11,99.51L388.47,98.9L388.83,99.01L389.19,98.9L389.56,98.9L389.92,99.77L390.28,98.9L390.64,99.1L391,100.66L391.36,99.26L391.72,99.95L392.08,98.9L392.44,100.26L392.8,98.98L393.17,101.26L393.53,99.02L393.89,98.9L394.25,98.9L394.61,99.91L394.97,99.45L395.33,98.95L395.69,99.43L396.05,98.9L396.41,98.9L396.78,100.4L397.14,100.17L397.5,100.72L397.86,99.2L398.22,98.9L398.58,99.32L398.94,100.91L399.3,98.9L399.66,99.56L400.02,100.89L400.39,100.27L400.75,99.27L401.11,98.9L401.47,98.9L401.83,99.12L402.19,98.9L402.55,100.35L402.91,100.04L403.27,99.56L403.63,98.9L404,100.27L404.36,98.9L404.72,98.9L405.08,99.98L405.44,101.75L405.8,100.04L406.16,98.9L406.52,98.9L406.88,98.9L407.24,99.28L407.61,100.14L407.97,99.07L408.33,100.24L408.69,101.33L409.05,99.33L409.41,101.15L409.77,101.32L410.13,99.05L410.49,98.9L410.85,99L411.22,99.74L411.58,99.64L411.94,99L412.3,99.12L412.66,99.9L413.02,100.37L413.38,98.9L413.74,98.9L414.1,99.67L414.46,101.14L414.83,100.28L415.19,98.9L415.55,98.9L415.91,99.46L416.27,98.9L416.63,99.85L416.99,98.92L417.35,99.43L417.71,101.48L418.07,99.04L418.44,98.9L418.8,98.9L419.16,98.9L419.52,98.9L419.88,100.35L420.24,100.29L420.6,98.9L420.96,98.9L421.32,99.98L421.68,99.01L422.05,99.4L422.41,101.12L422.77,99.37L423.13,99.19L423.49,100.14L423.85,99.47L424.21,99.18L424.57,99.41L424.93,99.56L425.29,98.9L425.66,100.75L426.02,100.82L426.38,98.9L426.74,101.28L427.1,100.73L427.46,100.08L427.82,98.9L428.18,98.9L428.54,99.84L428.9,98.9L429.27,99.66L429.63,98.9L429.99,100.33L430.35,99.6L430.71,98.9L431.07,101.43L431.43,100.32L431.79,99.04L432.15,99.03L432.51,100.05L432.88,99.36L433.24,99.07L433.6,100.21L433.96,99.75L434.32,99.14L434.68,100.37L435.04,101.15L435.4,99.26L435.76,98.9L436.12,99.69L436.49,100.53L436.85,100.79L437.21,98.9L437.57,99.19L437.93,100.08L438.29,100.87L438.65,99.17L439.01,98.9L439.37,99.7L439.73,98.9L440.1,100.83L440.46,99.88L440.82,99.56L441.18,98.9L441.54,101.24L441.9,98.9L442.26,100.55L442.62,100.5L442.98,99.36L443.34,98.9L443.71,98.9L444.07,100.7L444.43,98.9L444.79,100.11L445.15,98.9L445.51,100.54L445.87,100.23L446.23,99.39L446.59,99.67L446.95,98.92L447.32,98.9L447.68,98.9L448.04,98.9L448.4,101.18L448.76,98.97L449.12,101.61L449.12,111.27Z" fill="#f5a560" fill-opacity="1.0"/>
<path d="M268.62,99.48L268.98,100.21L269.34,100.94L269.7,100.59L270.06,99.83L270.43,99.7L270.79,100.48L271.15,99.47L271.51,100.85L271.87,99.03L272.23,100.61L272.59,99.09L272.95,99.44L273.31,98.63L273.67,98.64L274.04,99.33L274.4,99.49L274.76,99.01L275.12,98.63L275.48,99.72L275.84,98.82L276.2,101.68L276.56,97.71L276.92,98.79L277.28,99.34L277.65,100.57L278.01,99.18L278.37,99.12L278.73,100.43L279.09,97.18L279.45,98.75L279.81,99.36L280.17,99.07L280.53,100.83L280.89,99.25L281.26,97.19L281.62,99.53L281.98,99.17L282.34,99.48L282.7,100.14L283.06,98.51L283.42,100.81L283.78,99.09L284.14,98.75L284.5,99.26L284.87,99.08L285.23,98.77L285.59,99.39L285.95,98.69L286.31,98.26L286.67,98.07L287.03,97.52L287.39,97.12L287.75,96.9L288.11,97.48L288.48,96.28L288.84,96.2L289.2,96.59L289.56,96.38L289.92,95.54L290.28,95.72L290.64,95.46L291,95.36L291.36,94.88L291.72,94.3L292.09,94.07L292.45,93.63L292.81,93.09L293.17,92.92L293.53,92.59L293.89,92.13L294.25,91.6L294.61,91.22L294.97,90.91L295.33,90.61L295.7,90.07L296.06,89.72L296.42,89.16L296.78,88.98L297.14,88.34L297.5,88.02L297.86,87.58L298.22,87.15L298.58,86.74L298.94,86.48L299.31,85.91L299.67,85.69L300.03,85.12L300.39,84.78L300.75,84.44L301.11,84.01L301.47,83.6L301.83,83.23L302.19,82.79L302.55,82.47L302.92,82.14L303.28,81.55L303.64,81.48L304,81.15L304.36,80.66L304.72,80.26L305.08,79.91L305.44,79.57L305.8,79.21L306.16,79.05L306.53,78.58L306.89,78.43L307.25,77.98L307.61,77.77L307.97,77.36L308.33,77.04L308.69,76.74L309.05,76.51L309.41,76.26L309.77,75.83L310.14,75.5L310.5,75.37L310.86,75.24L311.22,74.82L311.58,74.54L311.94,74.5L312.3,74.39L312.66,74.17L313.02,74.06L313.38,74.24L313.75,74.33L314.11,74.41L314.47,74.67L314.83,74.66L315.19,75.01L315.55,74.98L315.91,75.38L316.27,75.62L316.63,75.78L316.99,76.07L317.36,76.35L317.72,76.59L318.08,76.94L318.44,76.93L318.8,77.44L319.16,77.58L319.52,77.83L319.88,78.04L320.24,78.06L320.6,78.25L320.97,78.45L321.33,78.74L321.69,79.12L322.05,79.31L322.41,79.47L322.77,79.64L323.13,79.74L323.49,79.93L323.85,80.18L324.21,80.52L324.58,80.52L324.94,80.78L325.3,81.15L325.66,81.16L326.02,81.48L326.38,81.44L326.74,81.94L327.1,81.97L327.46,82.27L327.82,82.64L328.19,82.78L328.55,82.99L328.91,83.1L329.27,83.18L329.63,83.45L329.99,83.56L330.35,83.84L330.71,84.01L331.07,84.32L331.43,84.49L331.8,84.7L332.16,85L332.52,85.17L332.88,85.46L333.24,85.64L333.6,85.91L333.96,86.08L334.32,86.3L334.68,86.4L335.04,86.77L335.41,87L335.77,87.13L336.13,87.43L336.49,87.66L336.85,87.83L337.21,88.04L337.57,88.3L337.93,88.45L338.29,88.62L338.65,88.92L339.02,89.28L339.38,89.61L339.74,89.84L340.1,89.97L340.46,90.35L340.82,90.43L341.18,90.74L341.54,90.94L341.9,91.13L342.26,91.4L342.63,91.83L342.99,92.04L343.35,92L343.71,92.37L344.07,92.46L344.43,92.83L344.79,93.02L345.15,93.32L345.51,93.45L345.87,93.63L346.24,93.9L346.6,94.05L346.96,94.31L347.32,94.71L347.68,94.68L348.04,94.85L348.4,95.2L348.76,95.26L349.12,95.66L349.48,95.78L349.85,95.95L350.21,96.44L350.57,96.41L350.93,96.72L351.29,96.92L351.65,97.34L352.01,97.6L352.37,97.89L352.73,98.18L353.09,98.56L353.46,98.62L353.82,98.87L354.18,99.25L354.54,99.42L354.9,98.55L355.26,98.84L355.62,99.3L355.98,99.51L356.34,100.5L356.7,98.74L357.07,100.13L357.43,99.86L357.79,99.29L358.15,99.25L358.51,98.48L358.87,100.09L359.23,98.93L359.59,99.76L359.95,99.3L360.31,99.85L360.68,100.16L361.04,100.68L361.4,98.82L361.76,100.66L362.12,98.87L362.48,96.91L362.84,101.54L363.2,99.25L363.56,99.18L363.92,100.22L364.29,100.63L364.65,99.2L365.01,99.62L365.37,97.21L365.73,100.06L366.09,101.48L366.45,100.98L366.81,98.7L367.17,98.11L367.53,98.81L367.9,99.41L368.26,99.94L368.62,99.65L368.98,101.43L369.34,99.29L369.7,100.33L370.06,100.88L370.42,99.73L370.78,99.11L371.14,98.94L371.51,100.12L371.87,99.57L372.23,100.85L372.59,98.69L372.95,99.19L373.31,98.76L373.67,99.92L374.03,99.62L374.39,97.2L374.75,97.67L375.12,98.9L375.48,101.02L375.84,99.95L376.2,98.99L376.56,100.27L376.92,99.52L377.28,98.65L377.64,98.8L378,96.93L378.36,99.92L378.73,99.09L379.09,99.93L379.45,99.79L379.81,100.28L380.17,98.9L380.53,99.33L380.89,99.01L381.25,101.8L381.61,98.75L381.97,97.85L382.34,99.42L382.7,100.61L383.06,99.2L383.42,98.81L383.78,100.83L384.14,98.5L384.5,99.85L384.86,100.82L385.22,99.76L385.58,99.56L385.95,99.37L386.31,99.17L386.67,97.03L387.03,100.61L387.39,99.19L387.75,99.38L388.11,99.51L388.47,98.44L388.83,99.01L389.19,98.87L389.56,98.65L389.92,99.6L390.28,96.99L390.64,99.1L391,99.89L391.36,99.26L391.72,99.25L392.08,98.5L392.44,98.43L392.8,98.25L393.17,98.21L393.53,97.84L393.89,97.27L394.25,96.74L394.61,96.2L394.97,96.01L395.33,95.88L395.69,95.6L396.05,96.63L396.41,97.19L396.78,97.13L397.14,96.72L397.5,96.31L397.86,96.14L398.22,96.04L398.58,95.2L398.94,95.07L399.3,94.16L399.66,94.27L400.02,92.73L400.39,92.81L400.75,91.44L401.11,91.1L401.47,90.66L401.83,90.86L402.19,91.65L402.55,92.15L402.91,92.81L403.27,93.49L403.63,93.72L404,95.17L404.36,96.03L404.72,97.34L405.08,97.82L405.44,99.06L405.8,98.67L406.16,98.81L406.52,97.84L406.88,98.71L407.24,99.28L407.61,100.14L407.97,99.07L408.33,100.24L408.69,101.33L409.05,99.33L409.41,101.15L409.77,101.32L410.13,99.05L410.49,96.88L410.85,99L411.22,99.74L411.58,99.64L411.94,99L412.3,99.12L412.66,99.9L413.02,100.37L413.38,98.57L413.74,98.71L414.1,99.67L414.46,101.14L414.83,100.28L415.19,98.12L415.55,98.51L415.91,99.46L416.27,98.67L416.63,99.85L416.99,98.92L417.35,99.43L417.71,101.48L418.07,99.04L418.44,98.42L418.8,98.81L419.16,98.41L419.52,98.49L419.88,100.35L420.24,100.29L420.6,97.05L420.96,98.48L421.32,99.98L421.68,99.01L422.05,99.4L422.41,101.12L422.77,99.37L423.13,99.19L423.49,100.14L423.85,99.47L424.21,99.18L424.57,99.41L424.93,99.56L425.29,98.62L425.66,100.75L426.02,100.82L426.38,98.7L426.74,101.28L427.1,100.73L427.46,100.08L427.82,98.35L428.18,98.54L428.54,99.84L428.9,98.57L429.27,99.66L429.63,97.35L429.99,100.33L430.35,99.6L430.71,98.75L431.07,101.43L431.43,100.32L431.79,99.04L432.15,99.03L432.51,100.05L432.88,99.36L433.24,99.07L433.6,100.21L433.96,99.75L434.32,99.14L434.68,100.37L435.04,101.15L435.4,99.26L435.76,98.61L436.12,99.69L436.49,100.53L436.85,100.79L437.21,98.81L437.57,99.19L437.93,100.08L438.29,100.87L438.65,99.17L439.01,96.86L439.37,99.7L439.73,98.61L440.1,100.83L440.46,99.88L440.82,99.56L441.18,98.56L441.54,101.24L441.9,96.86L442.26,100.55L442.62,100.5L442.98,99.36L443.34,98.7L443.71,98.64L444.07,100.7L444.43,98.46L444.79,100.11L445.15,98.47L445.51,100.54L445.87,100.23L446.23,99.39L446.59,99.67L446.95,98.92L447.32,97.61L447.68,98.53L448.04,98.76L448.4,101.18L448.76,98.97L449.12,101.61" fill="none" stroke="#f5a560" stroke-width="0.8" stroke-linejoin="round" />
<path d="M291.36,94.88L291.72,94.3L292.09,94.07L292.45,93.63L292.81,93.09L293.17,92.92L293.53,92.59L293.89,92.13L294.25,91.6L294.61,91.22L294.97,90.91L295.33,90.61L295.7,90.07L296.06,89.72L296.42,89.16L296.78,88.98L297.14,88.34L297.5,88.02L297.86,87.58L298.22,87.15L298.58,86.74L298.94,86.48L299.31,85.91L299.67,85.69L300.03,85.12L300.39,84.78L300.75,84.44L301.11,84.01L301.47,83.6L301.83,83.23L302.19,82.79L302.55,82.47L302.92,82.14L303.28,81.55L303.64,81.48L304,81.15L304.36,80.66L304.72,80.26L305.08,79.91L305.44,79.57L305.8,79.21L306.16,79.05L306.53,78.58L306.89,78.43L307.25,77.98L307.61,77.77L307.97,77.36L308.33,77.04L308.69,76.74L309.05,76.51L309.41,76.26L309.77,75.83L310.14,75.5L310.5,75.37L310.86,75.24L311.22,74.82L311.58,74.54L311.94,74.5L312.3,74.39L312.66,74.17L313.02,74.06L313.38,74.24L313.75,74.33L314.11,74.41L314.47,74.67L314.83,74.66L315.19,75.01L315.55,74.98L315.91,75.38L316.27,75.62L316.63,75.78L316.99,76.07L317.36,76.35L317.72,76.59L318.08,76.94L318.44,76.93L318.8,77.44L319.16,77.58L319.52,77.83L319.88,78.04L320.24,78.06L320.6,78.25L320.97,78.45L321.33,78.74L321.69,79.12L322.05,79.31L322.41,79.47L322.77,79.64L323.13,79.74L323.49,79.93L323.85,80.18L324.21,80.52L324.58,80.52L324.94,80.78L325.3,81.15L325.66,81.16L326.02,81.48L326.38,81.44L326.74,81.94L327.1,81.97L327.46,82.27L327.82,82.64L328.19,82.78L328.55,82.99L328.91,83.1L329.27,83.18L329.63,83.45L329.99,83.56L330.35,83.84L330.71,84.01L331.07,84.32L331.43,84.49L331.8,84.7L332.16,85L332.52,85.17L332.88,85.46L333.24,85.64L333.6,85.91L333.96,86.08L334.32,86.3L334.68,86.4L335.04,86.77L335.41,87L335.77,87.13L336.13,87.43L336.49,87.66L336.85,87.83L337.21,88.04L337.57,88.3L337.93,88.45L338.29,88.62L338.65,88.92L339.02,89.28L339.38,89.61L339.74,89.84L340.1,89.97L340.46,90.35L340.82,90.43L341.18,90.74L341.54,90.94L341.9,91.13L342.26,91.4L342.63,91.83L342.99,92.04L343.35,92L343.71,92.37L344.07,92.46L344.43,92.83L344.79,93.02L345.15,93.32L345.51,93.45L345.87,93.63L346.24,93.9L346.6,94.05L346.96,94.31L347.32,94.71L347.68,94.68L348.04,94.85L348.4,95.2L348.76,95.26L349.12,95.66L349.48,95.78L349.85,95.95L350.21,96.44L350.57,96.41L350.93,96.72L351.29,96.92" fill="none" stroke="#f5a560" stroke-width="1.3" stroke-linejoin="round" />
</g>
<rect x="391.6" y="89" width="15.1" height="10.3" fill="none" stroke="#e8322f" stroke-width="0.9"/>
<rect x="379.4" y="58.3" width="65.1" height="23.8" fill="#fff"/>
<line x1="394.5" y1="58.3" x2="394.5" y2="82.1" stroke="#e6e6e6" stroke-width="0.8" stroke-dasharray="3,1"/>
<line x1="420.5" y1="58.3" x2="420.5" y2="82.1" stroke="#e6e6e6" stroke-width="0.8" stroke-dasharray="3,1"/>
<line x1="446.5" y1="58.3" x2="446.5" y2="82.1" stroke="#e6e6e6" stroke-width="0.8" stroke-dasharray="3,1"/>
<line x1="382.5" y1="58.3" x2="382.5" y2="82.1" stroke="#d2d2d2" stroke-width="0.9" />
<line x1="407.5" y1="58.3" x2="407.5" y2="82.1" stroke="#d2d2d2" stroke-width="0.9" />
<line x1="433.5" y1="58.3" x2="433.5" y2="82.1" stroke="#d2d2d2" stroke-width="0.9" />
<line x1="379.4" y1="62.5" x2="444.5" y2="62.5" stroke="#d2d2d2" stroke-width="0.9" />
<line x1="379.4" y1="68.5" x2="444.5" y2="68.5" stroke="#d2d2d2" stroke-width="0.9" />
<line x1="379.4" y1="74.5" x2="444.5" y2="74.5" stroke="#d2d2d2" stroke-width="0.9" />
<line x1="379.4" y1="80.5" x2="444.5" y2="80.5" stroke="#d2d2d2" stroke-width="0.9" />
<g clip-path="url(#ci1)">
<path d="M369.15,81.97L369.47,83.53L369.79,84L370.11,84.08L370.43,84.88L370.76,85.06L371.08,83.44L371.4,83.48L371.72,84.99L372.04,86.2L372.36,80.45L372.68,85.68L373,80.08L373.33,80.71L373.65,84L373.97,84.7L374.29,84.39L374.61,85.16L374.93,84.92L375.25,82.87L375.57,83.8L375.9,83.55L376.22,81.3L376.54,84.31L376.86,81.52L377.18,83.19L377.5,81.98L377.82,83.16L378.14,81.17L378.47,81.37L378.79,81.03L379.11,81.75L379.43,83.02L379.75,82.37L380.07,81.94L380.39,81.87L380.71,82.37L381.04,82.49L381.36,81.71L381.68,81.72L382,79.91L382.32,80.71L382.64,78.05L382.96,79.79L383.28,81.68L383.61,80.68L383.93,79.26L384.25,77.6L384.57,80.84L384.89,80.09L385.21,79.48L385.53,79.42L385.85,81.18L386.18,78.65L386.5,78.9L386.82,77.1L387.14,79.24L387.46,76.59L387.78,77.82L388.1,77.72L388.42,78.32L388.75,79.6L389.07,80.76L389.39,78.51L389.71,80.46L390.03,77.47L390.35,79.04L390.67,79.45L390.99,75.3L391.32,75.27L391.64,74.78L391.96,77.42L392.28,77.5L392.6,76.51L392.92,76.12L393.24,74.89L393.56,76.39L393.89,76.84L394.21,76.34L394.53,78L394.85,75.39L395.17,76.57L395.49,73.58L395.81,76.81L396.13,76.01L396.46,77.45L396.78,75.63L397.1,74.63L397.42,74.33L397.74,78.4L398.06,76.16L398.38,76.96L398.7,76.58L399.03,77.94L399.35,77.68L399.67,77.84L399.99,79.29L400.31,77.85L400.63,75.76L400.95,79.48L401.27,76.52L401.6,78.79L401.92,77.33L402.24,75.26L402.56,78.66L402.88,75.17L403.2,79.17L403.52,74.53L403.84,77.25L404.17,71.72L404.49,76.51L404.81,77.36L405.13,77.12L405.45,75.61L405.77,76.28L406.09,74.99L406.41,75.98L406.74,73.22L407.06,71.88L407.38,75.34L407.7,72.97L408.02,73.89L408.34,72.75L408.66,72.25L408.98,73.21L409.31,73.56L409.63,76.01L409.95,69.74L410.27,74.41L410.59,70.8L410.91,72.6L411.23,71.24L411.55,73.34L411.88,70.58L412.2,72.11L412.52,71.94L412.84,71.49L413.16,70.46L413.48,71.56L413.8,70.24L414.12,71.33L414.45,68.17L414.77,70.57L415.09,68.17L415.41,69.53L415.73,69.67L416.05,68.93L416.37,67.51L416.69,66.67L417.02,65.49L417.34,66.48L417.66,65.09L417.98,66.81L418.3,68.18L418.62,63.47L418.94,64.59L419.26,63.72L419.59,66.36L419.91,63.65L420.23,63.43L420.55,61.94L420.87,64.64L421.19,62.85L421.51,63.54L421.83,63.14L422.16,61.91L422.48,63.43L422.8,62.92L423.12,63.5L423.44,64.04L423.76,64.44L424.08,64.88L424.4,64.75L424.73,65.04L425.05,65.32L425.37,66.74L425.69,67.93L426.01,67.18L426.33,68.87L426.65,65.02L426.97,68.9L427.3,68.53L427.62,67.29L427.94,69.13L428.26,68.77L428.58,67.74L428.9,70.49L429.22,67.54L429.54,71.27L429.87,69.5L430.19,71.96L430.51,72.08L430.83,73.82L431.15,70.64L431.47,71.84L431.79,74.94L432.11,71.22L432.44,74.89L432.76,74.63L433.08,75.65L433.4,77.43L433.72,72.32L434.04,77.17L434.36,77.62L434.68,75.29L435.01,77.6L435.33,79.2L435.65,76.82L435.97,75.18L436.29,78.36L436.61,80.84L436.93,81.25L437.25,81.64L437.58,82.7L437.9,82.7L438.22,82.45L438.54,82.48L438.86,82.33L439.18,80.26L439.5,85.01L439.82,82.88L440.15,81.62L440.47,85.54L440.79,81.42L441.11,79.86L441.43,85.34L441.75,81.89L442.07,81.71L442.39,83.72L442.72,82.75L443.04,85.39L443.36,83.9L443.68,86.83L444,86.55L444.32,83.6L444.64,85.96L444.96,83.63L445.29,83.88L445.61,80.77L445.93,82.04L446.25,81.68L446.57,85.65L446.89,87.54L447.21,86.38L447.53,86.92L447.86,87.93L448.18,83.57L448.5,84.93L448.82,87.44L449.14,86.95L449.46,87.66L449.78,87.72L450.1,87.76L450.43,87.95L450.75,87.96L451.07,86.02L451.39,87.86L451.71,87.87L452.03,87.96L452.35,86.31L452.67,87.91L453,85.51L453.32,87.23L453.64,87.95L453.96,87.72L454.28,87.63L454.6,86.41L454.92,87.96L455.24,82.81L455.57,84.7L455.89,87.07L456.21,82.12L456.53,87.71L456.85,82.31L457.17,79.81L457.49,87.67L457.81,87.96L458.14,87.88L458.46,83.75L458.78,85.42" fill="none" stroke="#3fa9f0" stroke-width="0.6" stroke-linejoin="round" />
<path d="M369.15,80.61L369.47,79.59L369.79,79.99L370.11,82.91L370.43,81.23L370.76,75.07L371.08,81.57L371.4,80.8L371.72,77.76L372.04,80.83L372.36,81.84L372.68,77.76L373,77.25L373.33,78.14L373.65,78.79L373.97,80.15L374.29,81.75L374.61,82.29L374.93,82.58L375.25,80.13L375.57,75.33L375.9,82.11L376.22,80.11L376.54,81.14L376.86,81.5L377.18,79.47L377.5,79.01L377.82,78.39L378.14,80.56L378.47,80.76L378.79,79.06L379.11,80.91L379.43,80.6L379.75,77.62L380.07,79L380.39,79.75L380.71,78.82L381.04,79.4L381.36,76.05L381.68,78.64L382,78.36L382.32,78.63L382.64,79.9L382.96,77.75L383.28,77.75L383.61,77.68L383.93,77.85L384.25,76.87L384.57,77.87L384.89,76.5L385.21,77.58L385.53,76.29L385.85,76.88L386.18,78.99L386.5,76.76L386.82,76.83L387.14,76.16L387.46,76.68L387.78,75.22L388.1,75.63L388.42,75.67L388.75,75.59L389.07,75.39L389.39,75.72L389.71,74.72L390.03,75.48L390.35,75.07L390.67,75.32L390.99,73.39L391.32,73.13L391.64,74.53L391.96,74.14L392.28,74.84L392.6,74.75L392.92,73.09L393.24,71.68L393.56,73.77L393.89,72.6L394.21,74.21L394.53,71.74L394.85,71.26L395.17,72.91L395.49,72.63L395.81,71.56L396.13,72.91L396.46,74.5L396.78,73.71L397.1,75.53L397.42,74.2L397.74,74.93L398.06,74.68L398.38,75.5L398.7,75.43L399.03,76.09L399.35,75.42L399.67,75.93L399.99,76.09L400.31,73.67L400.63,77.07L400.95,75.39L401.27,75.91L401.6,75.67L401.92,75.1L402.24,74.92L402.56,74.06L402.88,76.06L403.2,74.18L403.52,74.51L403.84,73.38L404.17,74.82L404.49,75.64L404.81,73.73L405.13,73.78L405.45,73.86L405.77,73.47L406.09,72.15L406.41,72.96L406.74,71.56L407.06,71.78L407.38,72.74L407.7,73.67L408.02,71.18L408.34,72.42L408.66,72.25L408.98,70.67L409.31,70L409.63,69.75L409.95,70.74L410.27,70.37L410.59,70.82L410.91,69.74L411.23,69.28L411.55,67.81L411.88,69.06L412.2,69.45L412.52,67.7L412.84,68.79L413.16,68.81L413.48,67.6L413.8,67.29L414.12,67.15L414.45,67.75L414.77,66.79L415.09,67.31L415.41,67.31L415.73,65.38L416.05,64.46L416.37,64.82L416.69,63.73L417.02,63.95L417.34,62.37L417.66,64.18L417.98,63.49L418.3,63.17L418.62,62.28L418.94,61.77L419.26,62.66L419.59,62.88L419.91,63.13L420.23,63.13L420.55,60.93L420.87,62.28L421.19,60.62L421.51,61.63L421.83,60.86L422.16,60.88L422.48,61.02L422.8,60.92L423.12,62.13L423.44,61.53L423.76,62.46L424.08,63.09L424.4,62.74L424.73,62.55L425.05,63.6L425.37,62.41L425.69,64.45L426.01,64.92L426.33,64.86L426.65,63.77L426.97,65.01L427.3,64.83L427.62,65.07L427.94,66.8L428.26,66.16L428.58,65.67L428.9,66.03L429.22,66.97L429.54,66.88L429.87,67.46L430.19,67.44L430.51,69.64L430.83,69.66L431.15,68.32L431.47,69.71L431.79,71.02L432.11,70.34L432.44,70.93L432.76,72.3L433.08,71.96L433.4,72.68L433.72,72.43L434.04,73.51L434.36,73.78L434.68,73.79L435.01,74.64L435.33,75.74L435.65,76.61L435.97,76.85L436.29,77.29L436.61,77.34L436.93,77.93L437.25,77.47L437.58,79.21L437.9,78.1L438.22,77.52L438.54,77.48L438.86,79.55L439.18,79.65L439.5,80.65L439.82,79.72L440.15,78.88L440.47,76.27L440.79,77.4L441.11,79.37L441.43,81.72L441.75,79.46L442.07,79.16L442.39,77.96L442.72,77.67L443.04,82.79L443.36,78.72L443.68,80.25L444,79.15L444.32,77.72L444.64,83.13L444.96,78.14L445.29,81.4L445.61,80.36L445.93,83.28L446.25,78.23L446.57,78.02L446.89,79.93L447.21,78.67L447.53,83.24L447.86,82.63L448.18,78.96L448.5,81.93L448.82,78.47L449.14,77.75L449.46,78.48L449.78,77.83L450.1,83.32L450.43,79.25L450.75,80.88L451.07,80.45L451.39,77.52L451.71,81.01L452.03,81.84L452.35,78.88L452.67,78.25L453,79.6L453.32,77.1L453.64,80.11L453.96,81.55L454.28,78.95L454.6,80.83L454.92,77.58L455.24,77.62L455.57,78.62L455.89,78.19L456.21,77.71L456.53,80.73L456.85,81.84L457.17,81.33L457.49,76.48L457.81,78.79L458.14,77.72L458.46,76.08L458.78,81.16" fill="none" stroke="#f5a560" stroke-width="0.6" stroke-linejoin="round" />
</g>
<rect x="379.4" y="58.3" width="65.1" height="23.8" fill="none" stroke="#000" stroke-width="0.9"/>
<line x1="377.9" y1="62.6" x2="379.4" y2="62.6" stroke="#000" stroke-width="0.5" />
<text x="377.5" y="64" font-size="4.2" text-anchor="end" font-family="Liberation Serif" >&#8722;28</text>
<line x1="377.9" y1="68.57" x2="379.4" y2="68.57" stroke="#000" stroke-width="0.5" />
<text x="377.5" y="69.97" font-size="4.2" text-anchor="end" font-family="Liberation Serif" >&#8722;32</text>
<line x1="377.9" y1="74.53" x2="379.4" y2="74.53" stroke="#000" stroke-width="0.5" />
<text x="377.5" y="75.93" font-size="4.2" text-anchor="end" font-family="Liberation Serif" >&#8722;36</text>
<line x1="377.9" y1="80.5" x2="379.4" y2="80.5" stroke="#000" stroke-width="0.5" />
<text x="377.5" y="81.9" font-size="4.2" text-anchor="end" font-family="Liberation Serif" >&#8722;40</text>
<line x1="382" y1="82.1" x2="382" y2="83.6" stroke="#000" stroke-width="0.5" />
<text x="382" y="87.1" font-size="4.2" text-anchor="middle" font-family="Liberation Serif" >1136</text>
<line x1="407.7" y1="82.1" x2="407.7" y2="83.6" stroke="#000" stroke-width="0.5" />
<text x="407.7" y="87.1" font-size="4.2" text-anchor="middle" font-family="Liberation Serif" >1140</text>
<line x1="433.4" y1="82.1" x2="433.4" y2="83.6" stroke="#000" stroke-width="0.5" />
<text x="433.4" y="87.1" font-size="4.2" text-anchor="middle" font-family="Liberation Serif" >1144</text>
<line x1="282.94" y1="102.5" x2="282.94" y2="105.5" stroke="#000" stroke-width="1.0" />
<line x1="311.82" y1="102.5" x2="311.82" y2="105.5" stroke="#000" stroke-width="1.0" />
<line x1="340.7" y1="102.5" x2="340.7" y2="105.5" stroke="#000" stroke-width="1.0" />
<line x1="369.58" y1="102.5" x2="369.58" y2="105.5" stroke="#000" stroke-width="1.0" />
<line x1="398.46" y1="102.5" x2="398.46" y2="105.5" stroke="#000" stroke-width="1.0" />
<line x1="427.34" y1="102.5" x2="427.34" y2="105.5" stroke="#000" stroke-width="1.0" />
<line x1="268.5" y1="102.5" x2="268.5" y2="104.5" stroke="#000" stroke-width="1.0" />
<line x1="282.94" y1="102.5" x2="282.94" y2="104.5" stroke="#000" stroke-width="1.0" />
<line x1="297.38" y1="102.5" x2="297.38" y2="104.5" stroke="#000" stroke-width="1.0" />
<line x1="311.82" y1="102.5" x2="311.82" y2="104.5" stroke="#000" stroke-width="1.0" />
<line x1="326.26" y1="102.5" x2="326.26" y2="104.5" stroke="#000" stroke-width="1.0" />
<line x1="340.7" y1="102.5" x2="340.7" y2="104.5" stroke="#000" stroke-width="1.0" />
<line x1="355.14" y1="102.5" x2="355.14" y2="104.5" stroke="#000" stroke-width="1.0" />
<line x1="369.58" y1="102.5" x2="369.58" y2="104.5" stroke="#000" stroke-width="1.0" />
<line x1="384.02" y1="102.5" x2="384.02" y2="104.5" stroke="#000" stroke-width="1.0" />
<line x1="398.46" y1="102.5" x2="398.46" y2="104.5" stroke="#000" stroke-width="1.0" />
<line x1="412.9" y1="102.5" x2="412.9" y2="104.5" stroke="#000" stroke-width="1.0" />
<line x1="427.34" y1="102.5" x2="427.34" y2="104.5" stroke="#000" stroke-width="1.0" />
<line x1="441.78" y1="102.5" x2="441.78" y2="104.5" stroke="#000" stroke-width="1.0" />
<line x1="268.4" y1="61.8" x2="265.4" y2="61.8" stroke="#000" stroke-width="1.0" />
<line x1="268.4" y1="74.17" x2="265.4" y2="74.17" stroke="#000" stroke-width="1.0" />
<line x1="268.4" y1="86.53" x2="265.4" y2="86.53" stroke="#000" stroke-width="1.0" />
<line x1="268.4" y1="98.9" x2="265.4" y2="98.9" stroke="#000" stroke-width="1.0" />
<line x1="268.4" y1="67.98" x2="266.4" y2="67.98" stroke="#000" stroke-width="1.0" />
<line x1="268.4" y1="80.35" x2="266.4" y2="80.35" stroke="#000" stroke-width="1.0" />
<line x1="268.4" y1="92.72" x2="266.4" y2="92.72" stroke="#000" stroke-width="1.0" />
<text x="264.9" y="65.6" font-size="11.0" text-anchor="end" font-family="Liberation Serif" >20</text>
<text x="264.9" y="77.97" font-size="11.0" text-anchor="end" font-family="Liberation Serif" >0</text>
<text x="264.9" y="90.33" font-size="11.0" text-anchor="end" font-family="Liberation Serif" >&#8722;20</text>
<text x="264.9" y="102.7" font-size="11.0" text-anchor="end" font-family="Liberation Serif" >&#8722;40</text>
<line x1="268.4" y1="61.6" x2="284.9" y2="61.6" stroke="#3fa9f0" stroke-width="1" />
<line x1="268.4" y1="70.2" x2="284.9" y2="70.2" stroke="#f5a560" stroke-width="1" />
<text x="286" y="64.2" font-size="6.9" text-anchor="start" font-family="Liberation Serif" >2&#160; m AR-HCF</text>
<text x="286" y="72.8" font-size="6.9" text-anchor="start" font-family="Liberation Serif" >200 m AR-HCF</text>
<text x="329.3" y="79.6" font-size="7.6" font-family="Liberation Serif"><tspan font-style="italic">P</tspan><tspan font-size="5.0" dy="1.8">in</tspan><tspan dy="-1.8">=2315 W</tspan></text>
<line x1="297.5" y1="102.5" x2="297.5" y2="148.9" stroke="#e6e6e6" stroke-width="0.8" stroke-dasharray="3,1"/>
<line x1="326.5" y1="102.5" x2="326.5" y2="148.9" stroke="#e6e6e6" stroke-width="0.8" stroke-dasharray="3,1"/>
<line x1="355.5" y1="102.5" x2="355.5" y2="148.9" stroke="#e6e6e6" stroke-width="0.8" stroke-dasharray="3,1"/>
<line x1="384.5" y1="102.5" x2="384.5" y2="148.9" stroke="#e6e6e6" stroke-width="0.8" stroke-dasharray="3,1"/>
<line x1="412.5" y1="102.5" x2="412.5" y2="148.9" stroke="#e6e6e6" stroke-width="0.8" stroke-dasharray="3,1"/>
<line x1="441.5" y1="102.5" x2="441.5" y2="148.9" stroke="#e6e6e6" stroke-width="0.8" stroke-dasharray="3,1"/>
<line x1="268.4" y1="126.5" x2="449" y2="126.5" stroke="#e6e6e6" stroke-width="0.8" stroke-dasharray="3,1"/>
<line x1="268.4" y1="138.5" x2="449" y2="138.5" stroke="#e6e6e6" stroke-width="0.8" stroke-dasharray="3,1"/>
<line x1="282.5" y1="102.5" x2="282.5" y2="148.9" stroke="#d2d2d2" stroke-width="0.9" />
<line x1="311.5" y1="102.5" x2="311.5" y2="148.9" stroke="#d2d2d2" stroke-width="0.9" />
<line x1="340.5" y1="102.5" x2="340.5" y2="148.9" stroke="#d2d2d2" stroke-width="0.9" />
<line x1="369.5" y1="102.5" x2="369.5" y2="148.9" stroke="#d2d2d2" stroke-width="0.9" />
<line x1="398.5" y1="102.5" x2="398.5" y2="148.9" stroke="#d2d2d2" stroke-width="0.9" />
<line x1="427.5" y1="102.5" x2="427.5" y2="148.9" stroke="#d2d2d2" stroke-width="0.9" />
<line x1="268.4" y1="120.5" x2="449" y2="120.5" stroke="#d2d2d2" stroke-width="0.9" />
<line x1="268.4" y1="132.5" x2="449" y2="132.5" stroke="#d2d2d2" stroke-width="0.9" />
<line x1="268.4" y1="145.5" x2="449" y2="145.5" stroke="#d2d2d2" stroke-width="0.9" />
<g clip-path="url(#cb2)">
<path d="M268.62,157.73L268.62,148.97L269.05,148.99L269.48,147.94L269.92,147.92L270.35,147.63L270.78,147.57L271.22,146.77L271.65,147.03L272.08,147.81L272.52,149.22L272.95,148.75L273.38,147.74L273.82,147.43L274.25,148.72L274.68,146.77L275.12,146.77L275.55,146.77L275.98,146.77L276.41,146.93L276.85,147.22L277.28,147.05L277.71,148.07L278.15,148.17L278.58,147.48L279.01,146.77L279.45,146.77L279.88,148.67L280.31,147.3L280.75,147.53L281.18,148.31L281.61,146.88L282.05,147.46L282.48,148.41L282.91,146.77L283.35,148.52L283.78,147.2L284.21,146.87L284.65,146.77L285.08,147.97L285.51,148.75L285.95,148.02L286.38,146.77L286.81,148.5L287.24,148.34L287.68,148.33L288.11,147.4L288.54,146.77L288.98,147.27L289.41,148.83L289.84,146.77L290.28,147.3L290.71,148.51L290.71,157.73Z" fill="#3fa9f0" fill-opacity="1.0"/>
<path d="M353.52,157.73L353.52,147.47L353.96,147.88L354.39,147.76L354.82,147.75L355.26,147.8L355.69,147.18L356.12,146.77L356.56,147.32L356.99,146.92L357.42,147.63L357.86,146.77L358.29,146.77L358.72,148.32L359.16,147.55L359.59,146.77L360.02,146.77L360.46,147.54L360.89,148.75L361.32,147.49L361.76,148.44L362.19,146.77L362.62,146.77L363.05,148.79L363.49,147.41L363.92,148.44L364.35,146.77L364.79,146.77L365.22,146.77L365.65,146.77L366.09,146.77L366.52,147.3L366.95,146.77L367.39,146.88L367.82,146.81L368.25,147.06L368.69,146.77L369.12,147.53L369.55,146.77L369.99,147.82L370.42,146.77L370.85,148.97L371.29,146.77L371.72,148.05L372.15,147.35L372.59,147.76L373.02,147.21L373.45,147.79L373.88,146.77L374.32,146.77L374.75,146.92L375.18,146.85L375.62,147.11L376.05,148.59L376.48,147.7L376.92,147.5L377.35,146.77L377.78,148.01L378.22,147.07L378.65,147.24L379.08,146.77L379.52,148.7L379.95,146.77L380.38,146.77L380.82,147.38L381.25,148.19L381.68,147.86L382.12,147.91L382.55,149.09L382.98,146.77L383.42,149.04L383.85,147.29L384.28,149.1L384.71,147.69L385.15,148.58L385.58,146.77L386.01,149.25L386.45,146.77L386.88,146.77L387.31,148.11L387.75,149.08L388.18,147.06L388.61,146.77L389.05,147.98L389.48,148.15L389.91,146.77L390.35,147.92L390.78,148.85L391.21,147.24L391.65,146.77L392.08,146.77L392.51,146.77L392.95,148.05L393.38,148.16L393.81,146.77L394.25,147.27L394.68,148.95L395.11,146.77L395.54,147.57L395.98,147.56L396.41,146.77L396.84,148.56L397.28,149.09L397.71,146.77L398.14,146.77L398.58,148.25L399.01,146.77L399.44,146.77L399.88,147.45L400.31,146.97L400.74,146.77L401.18,146.77L401.61,148.52L402.04,148.08L402.48,147.19L402.91,146.94L403.34,149.25L403.78,147.67L404.21,146.77L404.64,148.47L405.08,146.77L405.51,147.84L405.94,147.73L406.37,146.8L406.81,147.21L407.24,149.25L407.67,147.31L408.11,146.77L408.54,146.77L408.97,148.9L409.41,148.53L409.84,146.77L410.27,146.77L410.71,146.77L411.14,147.68L411.57,146.77L412.01,148.24L412.44,147.37L412.87,147.93L413.31,146.77L413.74,148.99L414.17,146.77L414.61,147.39L415.04,147.71L415.47,148.5L415.91,147.4L416.34,148.22L416.77,146.85L417.2,146.77L417.64,148.35L418.07,147.38L418.5,146.77L418.94,146.77L419.37,146.77L419.8,146.77L420.24,148.36L420.67,146.77L421.1,147.17L421.54,149.1L421.97,146.77L422.4,147.51L422.84,149.23L423.27,148.49L423.7,148.99L424.14,148.93L424.57,149.1L425,148L425.44,148.34L425.87,146.77L426.3,146.77L426.74,146.77L427.17,148.98L427.6,148.15L428.03,148.78L428.47,148.5L428.9,149.01L429.33,148.66L429.77,146.77L430.2,146.91L430.63,147.55L431.07,148.36L431.5,146.77L431.93,148.48L432.37,146.77L432.8,149.15L433.23,146.77L433.67,146.99L434.1,146.84L434.53,148.29L434.97,146.77L435.4,148.3L435.83,146.77L436.27,147.3L436.7,147.58L437.13,148.54L437.57,147.78L438,147.52L438.43,147.29L438.86,147L439.3,148.15L439.73,147.42L440.16,146.77L440.6,146.98L441.03,148.41L441.46,146.77L441.9,147.58L442.33,146.77L442.76,149.25L443.2,146.77L443.63,147.63L444.06,146.87L444.5,146.77L444.93,147.73L445.36,146.77L445.8,146.77L446.23,147.55L446.66,146.77L447.1,147.3L447.53,146.87L447.96,148.19L448.4,146.77L448.83,146.77L448.83,157.73Z" fill="#3fa9f0" fill-opacity="1.0"/>
<path d="M268.62,148.97L269.05,148.99L269.48,147.94L269.92,147.92L270.35,147.63L270.78,147.57L271.22,146.5L271.65,147.03L272.08,147.81L272.52,149.22L272.95,148.75L273.38,147.74L273.82,147.43L274.25,148.72L274.68,145.6L275.12,145.83L275.55,145.76L275.98,146.39L276.41,146.93L276.85,147.22L277.28,147.05L277.71,148.07L278.15,148.17L278.58,147.48L279.01,145.65L279.45,146.15L279.88,148.67L280.31,147.3L280.75,147.53L281.18,148.31L281.61,146.88L282.05,147.46L282.48,148.41L282.91,146.01L283.35,148.52L283.78,147.2L284.21,146.87L284.65,145.69L285.08,147.97L285.51,148.75L285.95,148.02L286.38,146.12L286.81,148.5L287.24,148.34L287.68,148.33L288.11,147.4L288.54,145.76L288.98,147.27L289.41,148.83L289.84,145.68L290.28,147.3L290.71,148.51L291.14,140.87L291.58,140.58L292.01,140.14L292.44,139.72L292.88,139.19L293.31,138.82L293.74,138.19L294.18,137.7L294.61,137.45L295.04,136.84L295.48,136.21L295.91,135.95L296.34,135.47L296.78,134.8L297.21,134.48L297.64,133.95L298.07,133.25L298.51,132.87L298.94,132.49L299.37,131.9L299.81,131.45L300.24,130.87L300.67,130.61L301.11,130.02L301.54,129.51L301.97,129.14L302.41,128.7L302.84,128.18L303.27,127.72L303.71,127.28L304.14,126.83L304.57,126.35L305.01,125.84L305.44,125.71L305.87,125.2L306.31,124.91L306.74,124.48L307.17,124L307.61,123.5L308.04,123.43L308.47,122.86L308.9,122.7L309.34,122.06L309.77,121.88L310.2,121.66L310.64,121.24L311.07,120.92L311.5,120.63L311.94,120.44L312.37,120.5L312.8,120.13L313.24,120.08L313.67,120.11L314.1,120.33L314.54,120.72L314.97,120.93L315.4,121.11L315.84,121.38L316.27,121.87L316.7,122.31L317.14,122.76L317.57,123.12L318,123.23L318.44,123.67L318.87,123.92L319.3,124.2L319.73,124.46L320.17,124.82L320.6,125.07L321.03,125.34L321.47,125.64L321.9,125.8L322.33,126.01L322.77,126.53L323.2,126.67L323.63,126.91L324.07,127.23L324.5,127.33L324.93,127.78L325.37,128.08L325.8,128.34L326.23,128.55L326.67,128.87L327.1,128.86L327.53,129.32L327.97,129.65L328.4,129.88L328.83,130.21L329.27,130.34L329.7,130.86L330.13,131.04L330.56,131.21L331,131.54L331.43,131.69L331.86,132.17L332.3,132.37L332.73,132.51L333.16,132.88L333.6,133.17L334.03,133.35L334.46,133.53L334.9,134.08L335.33,134.25L335.76,134.39L336.2,134.69L336.63,135.08L337.06,135.38L337.5,135.59L337.93,135.86L338.36,136.16L338.8,136.42L339.23,136.79L339.66,136.93L340.1,137.48L340.53,137.54L340.96,137.91L341.39,138.13L341.83,138.6L342.26,138.94L342.69,139.06L343.13,139.36L343.56,139.9L343.99,139.95L344.43,140.3L344.86,140.79L345.29,140.86L345.73,141.31L346.16,141.52L346.59,141.77L347.03,142.25L347.46,142.72L347.89,142.9L348.33,143.37L348.76,143.62L349.19,144.03L349.63,144.37L350.06,144.69L350.49,144.92L350.93,145.26L351.36,145.47L351.79,145.68L352.22,146.42L352.66,146.86L353.09,147.09L353.52,147.38L353.96,147.44L354.39,147.76L354.82,147.75L355.26,147.8L355.69,147.18L356.12,146.13L356.56,147.32L356.99,146.92L357.42,147.63L357.86,146.53L358.29,146.33L358.72,148.32L359.16,147.55L359.59,146.6L360.02,146.66L360.46,147.54L360.89,148.75L361.32,147.49L361.76,148.44L362.19,145.73L362.62,145.86L363.05,148.79L363.49,147.41L363.92,148.44L364.35,145.78L364.79,146.68L365.22,145.71L365.65,146.37L366.09,146.73L366.52,147.3L366.95,146.48L367.39,146.88L367.82,146.81L368.25,147.06L368.69,146.08L369.12,147.53L369.55,146.04L369.99,147.82L370.42,145.69L370.85,148.97L371.29,145.97L371.72,148.05L372.15,147.35L372.59,147.76L373.02,147.21L373.45,147.79L373.88,146.77L374.32,146.49L374.75,146.92L375.18,146.85L375.62,147.11L376.05,148.59L376.48,147.7L376.92,147.5L377.35,146.59L377.78,148.01L378.22,147.07L378.65,147.24L379.08,146.34L379.52,148.7L379.95,146.15L380.38,146.32L380.82,147.38L381.25,148.19L381.68,147.86L382.12,147.91L382.55,149.09L382.98,145.69L383.42,149.04L383.85,147.29L384.28,149.1L384.71,147.69L385.15,148.58L385.58,146.49L386.01,148.78L386.45,146.66L386.88,145.58L387.31,147.92L387.75,148.23L388.18,147.06L388.61,146.53L389.05,146.48L389.48,147.05L389.91,146.5L390.35,145.79L390.78,145.94L391.21,145.98L391.65,144.72L392.08,143.98L392.51,143.53L392.95,142.84L393.38,142.89L393.81,142.23L394.25,141.56L394.68,142.25L395.11,139.48L395.54,140.65L395.98,140.94L396.41,140.98L396.84,140.77L397.28,140.61L397.71,140L398.14,139.92L398.58,139.45L399.01,139.31L399.44,139.16L399.88,138.55L400.31,138.35L400.74,135.96L401.18,135.8L401.61,136.32L402.04,136.04L402.48,136.04L402.91,137.58L403.34,137.83L403.78,138.48L404.21,138.87L404.64,140.36L405.08,141.26L405.51,142.86L405.94,143.36L406.37,144.69L406.81,145.23L407.24,146.73L407.67,146.65L408.11,145.86L408.54,146.67L408.97,148.9L409.41,148.53L409.84,146.53L410.27,146.03L410.71,145.86L411.14,147.68L411.57,145.89L412.01,148.24L412.44,147.37L412.87,147.93L413.31,146.49L413.74,148.99L414.17,146.34L414.61,147.39L415.04,147.71L415.47,148.5L415.91,147.4L416.34,148.22L416.77,146.85L417.2,146.6L417.64,148.35L418.07,147.38L418.5,145.63L418.94,146.34L419.37,145.77L419.8,146.62L420.24,148.36L420.67,145.73L421.1,147.17L421.54,149.1L421.97,146.28L422.4,147.51L422.84,149.23L423.27,148.49L423.7,148.99L424.14,148.93L424.57,149.1L425,148L425.44,148.34L425.87,146.31L426.3,145.72L426.74,145.59L427.17,148.98L427.6,148.15L428.03,148.78L428.47,148.5L428.9,149.01L429.33,148.66L429.77,145.64L430.2,146.91L430.63,147.55L431.07,148.36L431.5,146.48L431.93,148.48L432.37,145.94L432.8,149.15L433.23,145.55L433.67,146.99L434.1,146.84L434.53,148.29L434.97,146.19L435.4,148.3L435.83,145.71L436.27,147.3L436.7,147.58L437.13,148.54L437.57,147.78L438,147.52L438.43,147.29L438.86,147L439.3,148.15L439.73,147.42L440.16,146.69L440.6,146.98L441.03,148.41L441.46,146.19L441.9,147.58L442.33,146.03L442.76,149.25L443.2,146.36L443.63,147.63L444.06,146.87L444.5,146.24L444.93,147.73L445.36,145.74L445.8,145.94L446.23,147.55L446.66,145.79L447.1,147.3L447.53,146.87L447.96,148.19L448.4,145.82L448.83,145.74" fill="none" stroke="#3fa9f0" stroke-width="0.8" stroke-linejoin="round" />
<path d="M291.14,140.87L291.58,140.58L292.01,140.14L292.44,139.72L292.88,139.19L293.31,138.82L293.74,138.19L294.18,137.7L294.61,137.45L295.04,136.84L295.48,136.21L295.91,135.95L296.34,135.47L296.78,134.8L297.21,134.48L297.64,133.95L298.07,133.25L298.51,132.87L298.94,132.49L299.37,131.9L299.81,131.45L300.24,130.87L300.67,130.61L301.11,130.02L301.54,129.51L301.97,129.14L302.41,128.7L302.84,128.18L303.27,127.72L303.71,127.28L304.14,126.83L304.57,126.35L305.01,125.84L305.44,125.71L305.87,125.2L306.31,124.91L306.74,124.48L307.17,124L307.61,123.5L308.04,123.43L308.47,122.86L308.9,122.7L309.34,122.06L309.77,121.88L310.2,121.66L310.64,121.24L311.07,120.92L311.5,120.63L311.94,120.44L312.37,120.5L312.8,120.13L313.24,120.08L313.67,120.11L314.1,120.33L314.54,120.72L314.97,120.93L315.4,121.11L315.84,121.38L316.27,121.87L316.7,122.31L317.14,122.76L317.57,123.12L318,123.23L318.44,123.67L318.87,123.92L319.3,124.2L319.73,124.46L320.17,124.82L320.6,125.07L321.03,125.34L321.47,125.64L321.9,125.8L322.33,126.01L322.77,126.53L323.2,126.67L323.63,126.91L324.07,127.23L324.5,127.33L324.93,127.78L325.37,128.08L325.8,128.34L326.23,128.55L326.67,128.87L327.1,128.86L327.53,129.32L327.97,129.65L328.4,129.88L328.83,130.21L329.27,130.34L329.7,130.86L330.13,131.04L330.56,131.21L331,131.54L331.43,131.69L331.86,132.17L332.3,132.37L332.73,132.51L333.16,132.88L333.6,133.17L334.03,133.35L334.46,133.53L334.9,134.08L335.33,134.25L335.76,134.39L336.2,134.69L336.63,135.08L337.06,135.38L337.5,135.59L337.93,135.86L338.36,136.16L338.8,136.42L339.23,136.79L339.66,136.93L340.1,137.48L340.53,137.54L340.96,137.91L341.39,138.13L341.83,138.6L342.26,138.94L342.69,139.06L343.13,139.36L343.56,139.9L343.99,139.95L344.43,140.3L344.86,140.79L345.29,140.86L345.73,141.31L346.16,141.52L346.59,141.77L347.03,142.25L347.46,142.72L347.89,142.9L348.33,143.37" fill="none" stroke="#3fa9f0" stroke-width="1.5" stroke-linejoin="round" />
<path d="M268.66,157.73L268.66,146.41L269.02,145.2L269.38,147.25L269.74,147.23L270.1,145.78L270.46,146.63L270.82,145.99L271.18,146.06L271.55,145.2L271.91,147.76L272.27,145.98L272.63,147.89L272.99,146.11L273.35,146.96L273.71,145.63L274.07,147.57L274.43,145.8L274.79,147.99L275.16,145.44L275.52,145.2L275.88,146.06L276.24,145.32L276.6,146.63L276.96,145.66L277.32,145.2L277.68,146.67L278.04,145.2L278.4,145.86L278.77,145.4L279.13,145.22L279.49,145.74L279.85,147.05L280.21,146.82L280.57,146.27L280.93,145.2L281.29,148.21L281.65,146.39L282.01,145.76L282.38,145.78L282.74,145.2L283.1,146.7L283.46,145.2L283.82,146.95L284.18,145.2L284.54,145.83L284.9,145.47L285.26,145.32L285.62,145.01L285.99,145.11L286.35,144.92L286.71,144.48L287.07,144.08L287.43,143.8L287.79,143.74L288.15,143.36L288.51,142.49L288.87,143.64L289.23,143.02L289.6,141.94L289.96,142.58L290.32,141.21L290.68,140.96L290.68,157.73Z" fill="#f5a560" fill-opacity="1.0"/>
<path d="M354.94,157.73L354.94,145.2L355.3,146.88L355.66,145.2L356.02,145.2L356.38,146.66L356.74,146.5L357.1,147.7L357.46,147.55L357.82,145.65L358.19,145.36L358.55,145.2L358.91,147.56L359.27,146.86L359.63,145.58L359.99,146.12L360.35,145.4L360.71,145.58L361.07,145.2L361.43,145.2L361.8,145.71L362.16,146.62L362.52,145.2L362.88,146.27L363.24,145.2L363.6,146.44L363.96,147.03L364.32,146.09L364.68,147.34L365.04,145.51L365.41,145.2L365.77,145.92L366.13,145.71L366.49,147.5L366.85,146.68L367.21,145.2L367.57,147.53L367.93,146.34L368.29,145.2L368.65,145.91L369.02,145.92L369.38,145.35L369.74,146.97L370.1,147.16L370.46,145.2L370.82,145.61L371.18,146.21L371.54,145.66L371.9,145.2L372.26,147.46L372.63,145.2L372.99,146.13L373.35,146.72L373.71,145.2L374.07,147.45L374.43,147.09L374.79,145.2L375.15,145.41L375.51,145.2L375.87,145.94L376.24,145.71L376.6,146.57L376.96,145.36L377.32,146.75L377.68,146.25L378.04,145.89L378.4,145.79L378.76,145.2L379.12,145.72L379.48,146.15L379.85,146.32L380.21,146.18L380.57,146.47L380.93,146.78L381.29,146.79L381.65,145.2L382.01,145.2L382.37,146.9L382.73,145.2L383.09,145.2L383.46,145.46L383.82,146.19L384.18,145.87L384.54,145.2L384.9,145.2L385.26,146.67L385.62,145.7L385.98,145.27L386.34,145.54L386.7,146.26L387.07,146.57L387.43,145.48L387.79,145.2L388.15,145.87L388.51,146.8L388.87,146.76L389.23,147.53L389.59,146.7L389.95,145.36L390.31,146.44L390.68,147.05L391.04,145.21L391.4,147.1L391.76,145.2L392.12,146.19L392.48,146.32L392.84,145.86L393.2,146.58L393.56,146.93L393.92,145.26L394.29,145.56L394.65,145.93L395.01,145.2L395.37,145.2L395.73,145.2L396.09,145.38L396.45,145.99L396.81,145.55L397.17,146.73L397.53,146.42L397.9,147.42L398.26,146.85L398.62,146.67L398.98,145.23L399.34,146.94L399.7,145.2L400.06,145.2L400.42,145.48L400.78,145.33L401.14,147.45L401.51,146.52L401.87,145.58L402.23,146.44L402.59,145.68L402.95,147.35L403.31,145.2L403.67,147.58L404.03,145.2L404.39,145.2L404.75,147.92L405.12,146.43L405.48,145.2L405.84,146.94L406.2,146.28L406.56,145.54L406.92,145.4L407.28,147.73L407.64,145.5L408,146.74L408.36,145.3L408.73,145.83L409.09,145.74L409.45,146.98L409.81,146.76L410.17,145.73L410.53,146.88L410.89,146.05L411.25,145.2L411.61,146.45L411.97,145.2L412.34,145.93L412.7,145.3L413.06,145.63L413.42,145.2L413.78,145.2L414.14,145.94L414.5,145.33L414.86,145.64L415.22,146.32L415.58,147.32L415.95,145.94L416.31,145.91L416.67,145.69L417.03,145.2L417.39,145.2L417.75,146.49L418.11,147.06L418.47,146.07L418.83,147.09L419.19,146.1L419.56,145.97L419.92,145.2L420.28,145.25L420.64,147.42L421,146.26L421.36,145.2L421.72,145.2L422.08,146.52L422.44,145.2L422.8,145.6L423.17,145.58L423.53,145.81L423.89,145.76L424.25,146.54L424.61,145.29L424.97,145.2L425.33,145.69L425.69,145.59L426.05,145.2L426.41,145.2L426.78,146.49L427.14,145.44L427.5,146.1L427.86,145.33L428.22,146.58L428.58,145.92L428.94,147.7L429.3,145.51L429.66,145.39L430.02,147.39L430.39,145.2L430.75,146.05L431.11,145.33L431.47,145.2L431.83,145.29L432.19,145.2L432.55,146.56L432.91,146.11L433.27,146.77L433.63,145.2L434,145.63L434.36,147.6L434.72,146.35L435.08,145.2L435.44,145.41L435.8,145.97L436.16,146.52L436.52,145.67L436.88,145.2L437.24,145.52L437.61,146.76L437.97,147.03L438.33,146.07L438.69,145.43L439.05,145.57L439.41,145.2L439.77,147.97L440.13,145.28L440.49,145.2L440.85,145.91L441.22,146.54L441.58,145.2L441.94,147.29L442.3,145.2L442.66,146.85L443.02,145.45L443.38,146.72L443.74,145.63L444.1,145.2L444.46,146.05L444.83,145.25L445.19,146.48L445.55,145.2L445.91,146.69L446.27,147.51L446.63,145.67L446.99,146.12L447.35,145.2L447.71,146.61L448.07,145.21L448.44,146.19L448.8,147.18L449.16,145.59L449.16,157.73Z" fill="#f5a560" fill-opacity="1.0"/>
<path d="M268.66,146.41L269.02,143.83L269.38,147.25L269.74,147.23L270.1,145.78L270.46,146.63L270.82,145.99L271.18,146.06L271.55,144.94L271.91,147.76L272.27,145.98L272.63,147.89L272.99,146.11L273.35,146.96L273.71,145.63L274.07,147.57L274.43,145.8L274.79,147.99L275.16,145.44L275.52,144.95L275.88,146.06L276.24,145.32L276.6,146.63L276.96,145.66L277.32,144.82L277.68,146.67L278.04,144.92L278.4,145.86L278.77,145.4L279.13,145.22L279.49,145.74L279.85,147.05L280.21,146.82L280.57,146.27L280.93,145.04L281.29,148.21L281.65,146.39L282.01,145.76L282.38,145.78L282.74,144.8L283.1,146.7L283.46,144.8L283.82,146.95L284.18,144.23L284.54,145.83L284.9,145.47L285.26,145.32L285.62,145.01L285.99,145.11L286.35,144.92L286.71,144.48L287.07,144.08L287.43,143.8L287.79,143.74L288.15,143.3L288.51,142.49L288.87,143.64L289.23,143.02L289.6,141.94L289.96,142.58L290.32,141.21L290.68,140.96L291.04,141.31L291.4,140.92L291.76,140.62L292.12,140.09L292.48,139.7L292.84,139.53L293.21,139.03L293.57,138.54L293.93,138.31L294.29,137.86L294.65,137.41L295.01,137.04L295.37,136.58L295.73,135.98L296.09,135.75L296.45,135.37L296.82,135.02L297.18,134.4L297.54,134.02L297.9,133.79L298.26,133.28L298.62,133.01L298.98,132.22L299.34,132.09L299.7,131.61L300.06,131.33L300.43,130.85L300.79,130.48L301.15,129.94L301.51,129.58L301.87,129.26L302.23,128.86L302.59,128.42L302.95,128.3L303.31,127.75L303.67,127.43L304.04,127.12L304.4,126.74L304.76,126.44L305.12,126.05L305.48,125.62L305.84,125.36L306.2,125.12L306.56,124.67L306.92,124.29L307.28,124.02L307.65,123.89L308.01,123.52L308.37,122.97L308.73,122.77L309.09,122.49L309.45,122.27L309.81,121.85L310.17,121.49L310.53,121.32L310.89,121.02L311.26,120.73L311.62,120.55L311.98,120.43L312.34,120.21L312.7,120.37L313.06,120.21L313.42,120.22L313.78,120.38L314.14,120.38L314.5,120.44L314.87,120.82L315.23,120.88L315.59,121.06L315.95,121.5L316.31,121.65L316.67,121.97L317.03,122.05L317.39,122.44L317.75,122.64L318.11,122.83L318.48,122.98L318.84,123.38L319.2,123.6L319.56,123.84L319.92,124.07L320.28,124.27L320.64,124.59L321,124.77L321.36,124.9L321.72,124.95L322.09,125.3L322.45,125.59L322.81,125.65L323.17,125.79L323.53,126.07L323.89,126.4L324.25,126.54L324.61,126.64L324.97,126.8L325.33,127.15L325.7,127.37L326.06,127.49L326.42,127.71L326.78,127.95L327.14,128.08L327.5,128.33L327.86,128.67L328.22,128.84L328.58,128.98L328.94,129.35L329.31,129.37L329.67,129.68L330.03,129.59L330.39,130.07L330.75,130.31L331.11,130.46L331.47,130.58L331.83,130.87L332.19,131.22L332.55,131.34L332.92,131.62L333.28,131.78L333.64,132L334,132.25L334.36,132.33L334.72,132.73L335.08,132.92L335.44,133.04L335.8,133.2L336.16,133.59L336.53,133.78L336.89,133.83L337.25,134.29L337.61,134.35L337.97,134.76L338.33,134.94L338.69,135.28L339.05,135.5L339.41,135.6L339.77,136.01L340.14,136.18L340.5,136.36L340.86,136.67L341.22,137.05L341.58,137.06L341.94,137.38L342.3,137.55L342.66,138.03L343.02,138.28L343.38,138.38L343.75,138.66L344.11,138.73L344.47,138.9L344.83,139.32L345.19,139.46L345.55,139.7L345.91,139.94L346.27,140.06L346.63,140.47L346.99,140.52L347.36,140.85L347.72,141.08L348.08,141.16L348.44,141.41L348.8,141.63L349.16,141.77L349.52,141.96L349.88,142.2L350.24,142.68L350.6,142.8L350.97,143.08L351.33,143.33L351.69,143.54L352.05,143.93L352.41,144.12L352.77,144.54L353.13,144.58L353.49,145.15L353.85,145.28L354.21,145.03L354.58,145.14L354.94,144.36L355.3,146.18L355.66,145L356.02,144.9L356.38,146.66L356.74,146.5L357.1,147.23L357.46,147.22L357.82,145.65L358.19,145.36L358.55,144.93L358.91,147.56L359.27,146.86L359.63,145.58L359.99,146.12L360.35,145.4L360.71,145.58L361.07,145.18L361.43,145.04L361.8,145.71L362.16,146.62L362.52,144.9L362.88,146.27L363.24,143.28L363.6,146.44L363.96,147.03L364.32,146.09L364.68,147.34L365.04,145.51L365.41,144.81L365.77,145.92L366.13,145.71L366.49,147.5L366.85,146.68L367.21,144.48L367.57,147.53L367.93,146.34L368.29,144.73L368.65,145.91L369.02,145.92L369.38,145.35L369.74,146.97L370.1,147.16L370.46,144.16L370.82,145.61L371.18,146.21L371.54,145.66L371.9,143.6L372.26,147.46L372.63,144.73L372.99,146.13L373.35,146.72L373.71,144.82L374.07,147.45L374.43,147.09L374.79,143.16L375.15,145.41L375.51,144.85L375.87,145.94L376.24,145.71L376.6,146.57L376.96,145.36L377.32,146.75L377.68,146.25L378.04,145.89L378.4,145.79L378.76,144.98L379.12,145.72L379.48,146.15L379.85,146.32L380.21,146.18L380.57,146.47L380.93,146.78L381.29,146.79L381.65,143.96L382.01,144.89L382.37,146.9L382.73,144.73L383.09,144.89L383.46,145.46L383.82,146.19L384.18,145.87L384.54,144.99L384.9,144.75L385.26,146.67L385.62,145.7L385.98,145.27L386.34,145.54L386.7,146.26L387.07,146.57L387.43,145.48L387.79,143.69L388.15,145.87L388.51,146.8L388.87,146.76L389.23,146.83L389.59,146.65L389.95,145.36L390.31,146.14L390.68,145.21L391.04,144.82L391.4,143.89L391.76,143.36L392.12,142.95L392.48,142.28L392.84,141.83L393.2,141.87L393.56,140.87L393.92,140.71L394.29,140.25L394.65,139.9L395.01,139.68L395.37,139.67L395.73,140.24L396.09,139.45L396.45,139.47L396.81,139.62L397.17,139.11L397.53,139.36L397.9,138.88L398.26,138.42L398.62,138.87L398.98,138.26L399.34,137.88L399.7,137.5L400.06,137.37L400.42,136.98L400.78,135.22L401.14,135.24L401.51,135.12L401.87,135.44L402.23,135.9L402.59,135.98L402.95,136.33L403.31,136.93L403.67,137.81L404.03,138.39L404.39,139.61L404.75,139.81L405.12,141.16L405.48,142.26L405.84,142.64L406.2,143.53L406.56,143.49L406.92,144.58L407.28,145.16L407.64,145.5L408,146.74L408.36,145.3L408.73,145.83L409.09,145.74L409.45,146.98L409.81,146.76L410.17,145.73L410.53,146.88L410.89,146.05L411.25,145.12L411.61,146.45L411.97,144.79L412.34,145.93L412.7,145.3L413.06,145.63L413.42,144.77L413.78,144.99L414.14,145.94L414.5,145.33L414.86,145.64L415.22,146.32L415.58,147.32L415.95,145.94L416.31,145.91L416.67,145.69L417.03,145.1L417.39,145.2L417.75,146.49L418.11,147.06L418.47,146.07L418.83,147.09L419.19,146.1L419.56,145.97L419.92,144.81L420.28,145.25L420.64,147.42L421,146.26L421.36,144.75L421.72,145.04L422.08,146.52L422.44,144.76L422.8,145.6L423.17,145.58L423.53,145.81L423.89,145.76L424.25,146.54L424.61,145.29L424.97,144.72L425.33,145.69L425.69,145.59L426.05,145.06L426.41,145.1L426.78,146.49L427.14,145.44L427.5,146.1L427.86,145.33L428.22,146.58L428.58,145.92L428.94,147.7L429.3,145.51L429.66,145.39L430.02,147.39L430.39,144.8L430.75,146.05L431.11,145.33L431.47,144.53L431.83,145.29L432.19,144.83L432.55,146.56L432.91,146.11L433.27,146.77L433.63,144.85L434,145.63L434.36,147.6L434.72,146.35L435.08,144.82L435.44,145.41L435.8,145.97L436.16,146.52L436.52,145.67L436.88,143.43L437.24,145.52L437.61,146.76L437.97,147.03L438.33,146.07L438.69,145.43L439.05,145.57L439.41,144.86L439.77,147.97L440.13,145.28L440.49,144.79L440.85,145.91L441.22,146.54L441.58,145.02L441.94,147.29L442.3,144.73L442.66,146.85L443.02,145.45L443.38,146.72L443.74,145.63L444.1,144.99L444.46,146.05L444.83,145.25L445.19,146.48L445.55,144.97L445.91,146.69L446.27,147.51L446.63,145.67L446.99,146.12L447.35,144.76L447.71,146.61L448.07,145.21L448.44,146.19L448.8,147.18L449.16,145.59" fill="none" stroke="#f5a560" stroke-width="0.8" stroke-linejoin="round" />
<path d="M291.4,140.92L291.76,140.62L292.12,140.09L292.48,139.7L292.84,139.53L293.21,139.03L293.57,138.54L293.93,138.31L294.29,137.86L294.65,137.41L295.01,137.04L295.37,136.58L295.73,135.98L296.09,135.75L296.45,135.37L296.82,135.02L297.18,134.4L297.54,134.02L297.9,133.79L298.26,133.28L298.62,133.01L298.98,132.22L299.34,132.09L299.7,131.61L300.06,131.33L300.43,130.85L300.79,130.48L301.15,129.94L301.51,129.58L301.87,129.26L302.23,128.86L302.59,128.42L302.95,128.3L303.31,127.75L303.67,127.43L304.04,127.12L304.4,126.74L304.76,126.44L305.12,126.05L305.48,125.62L305.84,125.36L306.2,125.12L306.56,124.67L306.92,124.29L307.28,124.02L307.65,123.89L308.01,123.52L308.37,122.97L308.73,122.77L309.09,122.49L309.45,122.27L309.81,121.85L310.17,121.49L310.53,121.32L310.89,121.02L311.26,120.73L311.62,120.55L311.98,120.43L312.34,120.21L312.7,120.37L313.06,120.21L313.42,120.22L313.78,120.38L314.14,120.38L314.5,120.44L314.87,120.82L315.23,120.88L315.59,121.06L315.95,121.5L316.31,121.65L316.67,121.97L317.03,122.05L317.39,122.44L317.75,122.64L318.11,122.83L318.48,122.98L318.84,123.38L319.2,123.6L319.56,123.84L319.92,124.07L320.28,124.27L320.64,124.59L321,124.77L321.36,124.9L321.72,124.95L322.09,125.3L322.45,125.59L322.81,125.65L323.17,125.79L323.53,126.07L323.89,126.4L324.25,126.54L324.61,126.64L324.97,126.8L325.33,127.15L325.7,127.37L326.06,127.49L326.42,127.71L326.78,127.95L327.14,128.08L327.5,128.33L327.86,128.67L328.22,128.84L328.58,128.98L328.94,129.35L329.31,129.37L329.67,129.68L330.03,129.59L330.39,130.07L330.75,130.31L331.11,130.46L331.47,130.58L331.83,130.87L332.19,131.22L332.55,131.34L332.92,131.62L333.28,131.78L333.64,132L334,132.25L334.36,132.33L334.72,132.73L335.08,132.92L335.44,133.04L335.8,133.2L336.16,133.59L336.53,133.78L336.89,133.83L337.25,134.29L337.61,134.35L337.97,134.76L338.33,134.94L338.69,135.28L339.05,135.5L339.41,135.6L339.77,136.01L340.14,136.18L340.5,136.36L340.86,136.67L341.22,137.05L341.58,137.06L341.94,137.38L342.3,137.55L342.66,138.03L343.02,138.28L343.38,138.38L343.75,138.66L344.11,138.73L344.47,138.9L344.83,139.32L345.19,139.46L345.55,139.7L345.91,139.94L346.27,140.06L346.63,140.47L346.99,140.52L347.36,140.85L347.72,141.08L348.08,141.16L348.44,141.41L348.8,141.63L349.16,141.77L349.52,141.96L349.88,142.2L350.24,142.68L350.6,142.8L350.97,143.08L351.33,143.33" fill="none" stroke="#f5a560" stroke-width="1.3" stroke-linejoin="round" />
</g>
<rect x="389.6" y="134.4" width="17.9" height="11.1" fill="none" stroke="#e8322f" stroke-width="0.9"/>
<rect x="379.9" y="105.3" width="64" height="23.3" fill="#fff"/>
<line x1="399.5" y1="105.3" x2="399.5" y2="128.6" stroke="#e6e6e6" stroke-width="0.8" stroke-dasharray="3,1"/>
<line x1="420.5" y1="105.3" x2="420.5" y2="128.6" stroke="#e6e6e6" stroke-width="0.8" stroke-dasharray="3,1"/>
<line x1="441.5" y1="105.3" x2="441.5" y2="128.6" stroke="#e6e6e6" stroke-width="0.8" stroke-dasharray="3,1"/>
<line x1="389.5" y1="105.3" x2="389.5" y2="128.6" stroke="#d2d2d2" stroke-width="0.9" />
<line x1="410.5" y1="105.3" x2="410.5" y2="128.6" stroke="#d2d2d2" stroke-width="0.9" />
<line x1="431.5" y1="105.3" x2="431.5" y2="128.6" stroke="#d2d2d2" stroke-width="0.9" />
<line x1="379.9" y1="107.5" x2="443.9" y2="107.5" stroke="#d2d2d2" stroke-width="0.9" />
<line x1="379.9" y1="113.5" x2="443.9" y2="113.5" stroke="#d2d2d2" stroke-width="0.9" />
<line x1="379.9" y1="118.5" x2="443.9" y2="118.5" stroke="#d2d2d2" stroke-width="0.9" />
<line x1="379.9" y1="124.5" x2="443.9" y2="124.5" stroke="#d2d2d2" stroke-width="0.9" />
<g clip-path="url(#ci2)">
<path d="M378.48,133.18L378.74,133.21L379,131.76L379.26,133.84L379.53,131.8L379.79,131.5L380.05,131.36L380.32,132.06L380.58,133.59L380.84,133.17L381.11,132.22L381.37,131.18L381.63,134.34L381.9,130.03L382.16,132.29L382.42,130.56L382.68,131.99L382.95,130.31L383.21,130.17L383.47,131.75L383.74,128.25L384,131.05L384.26,131.19L384.53,128.92L384.79,128.44L385.05,130.57L385.32,128.6L385.58,130.72L385.84,127.19L386.11,128.9L386.37,129.5L386.63,126.98L386.89,127.43L387.16,126.74L387.42,127.98L387.68,125.28L387.95,126.12L388.21,127.5L388.47,126.19L388.74,127.05L389,127.1L389.26,123.98L389.53,123.58L389.79,123.23L390.05,126.68L390.32,125.06L390.58,124.03L390.84,126.36L391.1,126.09L391.37,122.19L391.63,123.76L391.89,123.88L392.16,124.89L392.42,121.06L392.68,123.8L392.95,124.2L393.21,120.74L393.47,122.92L393.74,124.74L394,121.77L394.26,121.87L394.53,123.28L394.79,121.99L395.05,120.5L395.31,120.16L395.58,120.69L395.84,122.46L396.1,120.35L396.37,120.79L396.63,123.07L396.89,121.25L397.16,121.99L397.42,120.63L397.68,121.95L397.95,119.26L398.21,121.4L398.47,121.02L398.74,121.24L399,118.89L399.26,121.1L399.52,122.35L399.79,121.22L400.05,119.31L400.31,119.48L400.58,117.11L400.84,119.86L401.1,119.7L401.37,120.32L401.63,119.58L401.89,119.63L402.16,119.33L402.42,121.72L402.68,118.14L402.95,119.73L403.21,120.11L403.47,120.31L403.73,119.36L404,118.68L404.26,118.29L404.52,119.11L404.79,117.46L405.05,121.46L405.31,119.25L405.58,118.39L405.84,118.48L406.1,118.97L406.37,120.19L406.63,119.65L406.89,118.5L407.16,119.67L407.42,118.14L407.68,119.95L407.94,119.1L408.21,120.47L408.47,119.43L408.73,117.99L409,118.74L409.26,119.57L409.52,115.92L409.79,118.85L410.05,117.71L410.31,116.57L410.58,119.11L410.84,118.1L411.1,117.97L411.37,116.8L411.63,117.04L411.89,117.98L412.15,118.35L412.42,118.37L412.68,116.21L412.94,115.55L413.21,116.65L413.47,116.62L413.73,115.08L414,116.95L414.26,116.5L414.52,113.33L414.79,114.69L415.05,115.14L415.31,117.43L415.58,114.03L415.84,115.18L416.1,113.03L416.36,112.85L416.63,113.28L416.89,112.18L417.15,110.86L417.42,110.7L417.68,111.85L417.94,110.85L418.21,111.27L418.47,110.62L418.73,111.5L419,108.53L419.26,109.68L419.52,108.84L419.79,110.44L420.05,111.41L420.31,110.14L420.57,108.68L420.84,108.48L421.1,107.25L421.36,108.89L421.63,109.29L421.89,108.22L422.15,109.18L422.42,108.88L422.68,108.16L422.94,111.74L423.21,108.95L423.47,112.71L423.73,111.01L424,111.4L424.26,110.98L424.52,109.51L424.78,111.72L425.05,111.66L425.31,111.46L425.57,113.33L425.84,114.14L426.1,112.14L426.36,112.36L426.63,112.76L426.89,113.47L427.15,114.64L427.42,112.87L427.68,114.73L427.94,112.93L428.21,115.44L428.47,115.21L428.73,115.67L428.99,113.5L429.26,115.76L429.52,114.67L429.78,116.83L430.05,114.5L430.31,116.42L430.57,116.03L430.84,116.87L431.1,118.87L431.36,116.63L431.63,117.98L431.89,116.69L432.15,120.89L432.42,120.69L432.68,118.89L432.94,119.59L433.2,123.12L433.47,121.84L433.73,122.47L433.99,121.57L434.26,121.22L434.52,121.93L434.78,123.48L435.05,123.51L435.31,123.96L435.57,125.63L435.84,124.06L436.1,125.12L436.36,128.13L436.63,125.86L436.89,125.46L437.15,124.74L437.41,126.61L437.68,126.35L437.94,127.65L438.2,127.14L438.47,127.38L438.73,128.02L438.99,129L439.26,129.28L439.52,126.91L439.78,128.02L440.05,128.02L440.31,129.54L440.57,129.43L440.84,131.82L441.1,131.03L441.36,130.32L441.62,130.53L441.89,131.2L442.15,132.47L442.41,132.84L442.68,130.96L442.94,135.12L443.2,132.29L443.47,132.63L443.73,132.71L443.99,131.8L444.26,132.18L444.52,134.12L444.78,131.41L445.05,135.15L445.31,135.67L445.57,132.24L445.83,133.22L446.1,134.18L446.36,134.44L446.62,135.18L446.89,133.36L447.15,134.14L447.41,130.21L447.68,135.6L447.94,136.61L448.2,136.29L448.47,134.11L448.73,135.65L448.99,135.52L449.26,133.37L449.52,135.35L449.78,136.44L450.04,132.94L450.31,132.74L450.57,136.47L450.83,136.65L451.1,136.27L451.36,132.89L451.62,135.12L451.89,133.95" fill="none" stroke="#3fa9f0" stroke-width="0.6" stroke-linejoin="round" />
<path d="M378.48,129.25L378.74,127.87L379,129.2L379.26,129.1L379.53,126.84L379.79,128.08L380.05,128.87L380.32,129.7L380.58,130.82L380.84,128.19L381.11,130.45L381.37,129.02L381.63,126.94L381.9,127.63L382.16,127.18L382.42,128.69L382.68,127.93L382.95,128.87L383.21,127.84L383.47,127.11L383.74,128.13L384,127.41L384.26,128.25L384.53,126.06L384.79,127.63L385.05,125.79L385.32,126.26L385.58,125.95L385.84,125.22L386.11,126.7L386.37,125.37L386.63,125.22L386.89,124.41L387.16,124.51L387.42,122.88L387.68,124.06L387.95,124.03L388.21,123.34L388.47,124.13L388.74,123.29L389,122.28L389.26,121.34L389.53,121.85L389.79,122.59L390.05,122.84L390.32,121.46L390.58,120.15L390.84,121.54L391.1,121.34L391.37,119.75L391.63,120.83L391.89,119.52L392.16,119.85L392.42,120.12L392.68,119.29L392.95,118.69L393.21,120.62L393.47,120.7L393.74,118.26L394,118.39L394.26,119.75L394.53,119.06L394.79,119.82L395.05,119.08L395.31,118.98L395.58,119.6L395.84,118.23L396.1,119.51L396.37,118.17L396.63,117.31L396.89,118.67L397.16,117.33L397.42,117.68L397.68,118.36L397.95,117.43L398.21,117.34L398.47,118.15L398.74,118.04L399,118.17L399.26,118.3L399.52,117.38L399.79,118.37L400.05,117.15L400.31,116.56L400.58,117.5L400.84,118.21L401.1,117.37L401.37,116.19L401.63,115.61L401.89,117.27L402.16,117.16L402.42,117.1L402.68,116.86L402.95,117.71L403.21,117.19L403.47,117.82L403.73,117.05L404,117.07L404.26,117.19L404.52,117.75L404.79,117.64L405.05,117.64L405.31,115.47L405.58,117.06L405.84,116.08L406.1,116.93L406.37,117.58L406.63,116.65L406.89,116.95L407.16,116.07L407.42,116.16L407.68,116.44L407.94,115.56L408.21,116.67L408.47,116.86L408.73,116.7L409,114.1L409.26,116.54L409.52,116.72L409.79,115.28L410.05,115.23L410.31,116.01L410.58,116.51L410.84,116.9L411.1,115.48L411.37,115.98L411.63,115.25L411.89,113.71L412.15,115.39L412.42,115.92L412.68,115.38L412.94,113.49L413.21,114.16L413.47,113.31L413.73,113.35L414,112.49L414.26,113.68L414.52,113.49L414.79,114.74L415.05,112.52L415.31,112.71L415.58,113.36L415.84,112.39L416.1,111.7L416.36,111.38L416.63,111.26L416.89,110.81L417.15,110.98L417.42,108.97L417.68,108.64L417.94,110.52L418.21,108.85L418.47,108.85L418.73,109.24L419,108.78L419.26,107.16L419.52,107.03L419.79,107.62L420.05,107.28L420.31,107.35L420.57,107.33L420.84,108.69L421.1,106.74L421.36,108.15L421.63,105.96L421.89,108.54L422.15,108.28L422.42,107.65L422.68,107.38L422.94,108.81L423.21,108.1L423.47,108.66L423.73,107.4L424,108.57L424.26,108.94L424.52,109.17L424.78,108.97L425.05,109.97L425.31,108.88L425.57,110.1L425.84,111.51L426.1,111.22L426.36,110.23L426.63,111.87L426.89,111.54L427.15,109.95L427.42,111.97L427.68,110.51L427.94,111.77L428.21,112.07L428.47,112.59L428.73,113.48L428.99,113.88L429.26,113.37L429.52,114.58L429.78,114.05L430.05,114.5L430.31,113.51L430.57,114.9L430.84,115.55L431.1,114.97L431.36,115.65L431.63,116.55L431.89,116.54L432.15,115.95L432.42,117.37L432.68,117.61L432.94,119.13L433.2,117.56L433.47,118.45L433.73,120.33L433.99,119.28L434.26,120.72L434.52,121.28L434.78,121.53L435.05,122.3L435.31,122.71L435.57,122.89L435.84,122.21L436.1,123.45L436.36,123.2L436.63,123.62L436.89,124.19L437.15,124.06L437.41,125.13L437.68,124.88L437.94,125.41L438.2,126.83L438.47,125.62L438.73,126.96L438.99,126.6L439.26,126.64L439.52,126.93L439.78,127.41L440.05,126.6L440.31,128.12L440.57,126.81L440.84,127.62L441.1,128.85L441.36,129.04L441.62,128.88L441.89,129.55L442.15,129L442.41,129.64L442.68,129.11L442.94,126.91L443.2,128.84L443.47,129.57L443.73,131.21L443.99,130.58L444.26,126.74L444.52,127.42L444.78,127.06L445.05,129.78L445.31,132.42L445.57,130.22L445.83,128.08L446.1,131.56L446.36,130.45L446.62,128.49L446.89,131.55L447.15,129.98L447.41,127.56L447.68,129.23L447.94,129.87L448.2,131.89L448.47,131.25L448.73,131.11L448.99,131.08L449.26,131.19L449.52,131.31L449.78,130.04L450.04,131.21L450.31,129.79L450.57,127.61L450.83,127.83L451.1,128.59L451.36,131.54L451.62,127.49L451.89,129.62" fill="none" stroke="#f5a560" stroke-width="0.6" stroke-linejoin="round" />
</g>
<rect x="379.9" y="105.3" width="64" height="23.3" fill="none" stroke="#000" stroke-width="0.9"/>
<line x1="378.4" y1="107.6" x2="379.9" y2="107.6" stroke="#000" stroke-width="0.5" />
<text x="378" y="109" font-size="4.2" text-anchor="end" font-family="Liberation Serif" >&#8722;24</text>
<line x1="378.4" y1="113.13" x2="379.9" y2="113.13" stroke="#000" stroke-width="0.5" />
<text x="378" y="114.53" font-size="4.2" text-anchor="end" font-family="Liberation Serif" >&#8722;28</text>
<line x1="378.4" y1="118.67" x2="379.9" y2="118.67" stroke="#000" stroke-width="0.5" />
<text x="378" y="120.07" font-size="4.2" text-anchor="end" font-family="Liberation Serif" >&#8722;32</text>
<line x1="378.4" y1="124.2" x2="379.9" y2="124.2" stroke="#000" stroke-width="0.5" />
<text x="378" y="125.6" font-size="4.2" text-anchor="end" font-family="Liberation Serif" >&#8722;36</text>
<line x1="389" y1="128.6" x2="389" y2="130.1" stroke="#000" stroke-width="0.5" />
<text x="389" y="133.3" font-size="4.2" text-anchor="middle" font-family="Liberation Serif" >1136</text>
<line x1="410.05" y1="128.6" x2="410.05" y2="130.1" stroke="#000" stroke-width="0.5" />
<text x="410.05" y="133.3" font-size="4.2" text-anchor="middle" font-family="Liberation Serif" >1140</text>
<line x1="431.1" y1="128.6" x2="431.1" y2="130.1" stroke="#000" stroke-width="0.5" />
<text x="431.1" y="133.3" font-size="4.2" text-anchor="middle" font-family="Liberation Serif" >1144</text>
<line x1="282.94" y1="148.9" x2="282.94" y2="151.9" stroke="#000" stroke-width="1.0" />
<line x1="311.82" y1="148.9" x2="311.82" y2="151.9" stroke="#000" stroke-width="1.0" />
<line x1="340.7" y1="148.9" x2="340.7" y2="151.9" stroke="#000" stroke-width="1.0" />
<line x1="369.58" y1="148.9" x2="369.58" y2="151.9" stroke="#000" stroke-width="1.0" />
<line x1="398.46" y1="148.9" x2="398.46" y2="151.9" stroke="#000" stroke-width="1.0" />
<line x1="427.34" y1="148.9" x2="427.34" y2="151.9" stroke="#000" stroke-width="1.0" />
<line x1="268.5" y1="148.9" x2="268.5" y2="150.9" stroke="#000" stroke-width="1.0" />
<line x1="282.94" y1="148.9" x2="282.94" y2="150.9" stroke="#000" stroke-width="1.0" />
<line x1="297.38" y1="148.9" x2="297.38" y2="150.9" stroke="#000" stroke-width="1.0" />
<line x1="311.82" y1="148.9" x2="311.82" y2="150.9" stroke="#000" stroke-width="1.0" />
<line x1="326.26" y1="148.9" x2="326.26" y2="150.9" stroke="#000" stroke-width="1.0" />
<line x1="340.7" y1="148.9" x2="340.7" y2="150.9" stroke="#000" stroke-width="1.0" />
<line x1="355.14" y1="148.9" x2="355.14" y2="150.9" stroke="#000" stroke-width="1.0" />
<line x1="369.58" y1="148.9" x2="369.58" y2="150.9" stroke="#000" stroke-width="1.0" />
<line x1="384.02" y1="148.9" x2="384.02" y2="150.9" stroke="#000" stroke-width="1.0" />
<line x1="398.46" y1="148.9" x2="398.46" y2="150.9" stroke="#000" stroke-width="1.0" />
<line x1="412.9" y1="148.9" x2="412.9" y2="150.9" stroke="#000" stroke-width="1.0" />
<line x1="427.34" y1="148.9" x2="427.34" y2="150.9" stroke="#000" stroke-width="1.0" />
<line x1="441.78" y1="148.9" x2="441.78" y2="150.9" stroke="#000" stroke-width="1.0" />
<line x1="268.4" y1="107.6" x2="265.4" y2="107.6" stroke="#000" stroke-width="1.0" />
<line x1="268.4" y1="120.13" x2="265.4" y2="120.13" stroke="#000" stroke-width="1.0" />
<line x1="268.4" y1="132.67" x2="265.4" y2="132.67" stroke="#000" stroke-width="1.0" />
<line x1="268.4" y1="145.2" x2="265.4" y2="145.2" stroke="#000" stroke-width="1.0" />
<line x1="268.4" y1="113.87" x2="266.4" y2="113.87" stroke="#000" stroke-width="1.0" />
<line x1="268.4" y1="126.4" x2="266.4" y2="126.4" stroke="#000" stroke-width="1.0" />
<line x1="268.4" y1="138.93" x2="266.4" y2="138.93" stroke="#000" stroke-width="1.0" />
<text x="264.9" y="111.4" font-size="11.0" text-anchor="end" font-family="Liberation Serif" >20</text>
<text x="264.9" y="123.93" font-size="11.0" text-anchor="end" font-family="Liberation Serif" >0</text>
<text x="264.9" y="136.47" font-size="11.0" text-anchor="end" font-family="Liberation Serif" >&#8722;20</text>
<text x="264.9" y="149" font-size="11.0" text-anchor="end" font-family="Liberation Serif" >&#8722;40</text>
<line x1="268.4" y1="109.3" x2="284.9" y2="109.3" stroke="#3fa9f0" stroke-width="1" />
<line x1="268.4" y1="117.6" x2="284.9" y2="117.6" stroke="#f5a560" stroke-width="1" />
<text x="286" y="111.9" font-size="6.9" text-anchor="start" font-family="Liberation Serif" >2&#160; m AR-HCF</text>
<text x="286" y="120.2" font-size="6.9" text-anchor="start" font-family="Liberation Serif" >200 m AR-HCF</text>
<text x="329.3" y="126" font-size="7.6" font-family="Liberation Serif"><tspan font-style="italic">P</tspan><tspan font-size="5.0" dy="1.8">in</tspan><tspan dy="-1.8">=2400 W</tspan></text>
<rect x="268.4" y="8.4" width="180.6" height="140.5" fill="none" stroke="#000" stroke-width="1.3"/>
<line x1="268.4" y1="55.1" x2="449" y2="55.1" stroke="#000" stroke-width="1.3" />
<line x1="268.4" y1="102.5" x2="449" y2="102.5" stroke="#000" stroke-width="1.3" />
<text x="283.79" y="162.4" font-size="11.2" text-anchor="middle" font-family="Liberation Serif" >1060</text>
<text x="312.67" y="162.4" font-size="11.2" text-anchor="middle" font-family="Liberation Serif" >1080</text>
<text x="341.55" y="162.4" font-size="11.2" text-anchor="middle" font-family="Liberation Serif" >1100</text>
<text x="370.43" y="162.4" font-size="11.2" text-anchor="middle" font-family="Liberation Serif" >1120</text>
<text x="399.31" y="162.4" font-size="11.2" text-anchor="middle" font-family="Liberation Serif" >1140</text>
<text x="428.19" y="162.4" font-size="11.2" text-anchor="middle" font-family="Liberation Serif" >1160</text>
<text x="357.8" y="171.5" font-size="11.2" text-anchor="middle" font-family="Liberation Serif" >Wavelength (nm)</text>
<text transform="translate(243.3,78.6) rotate(-90)" font-size="11.2" text-anchor="middle" font-family="Liberation Serif">Normalized spectrum (dB)</text>
<text x="243.4" y="8.7" font-size="11.8" text-anchor="start" font-family="Liberation Sans" >b</text>
<line x1="528.5" y1="8.4" x2="528.5" y2="147.2" stroke="#e6e6e6" stroke-width="0.8" stroke-dasharray="3,1"/>
<line x1="560.5" y1="8.4" x2="560.5" y2="147.2" stroke="#e6e6e6" stroke-width="0.8" stroke-dasharray="3,1"/>
<line x1="592.5" y1="8.4" x2="592.5" y2="147.2" stroke="#e6e6e6" stroke-width="0.8" stroke-dasharray="3,1"/>
<line x1="623.5" y1="8.4" x2="623.5" y2="147.2" stroke="#e6e6e6" stroke-width="0.8" stroke-dasharray="3,1"/>
<line x1="655.5" y1="8.4" x2="655.5" y2="147.2" stroke="#e6e6e6" stroke-width="0.8" stroke-dasharray="3,1"/>
<line x1="505.2" y1="147.5" x2="678.8" y2="147.5" stroke="#e6e6e6" stroke-width="0.8" stroke-dasharray="3,1"/>
<line x1="505.2" y1="116.5" x2="678.8" y2="116.5" stroke="#e6e6e6" stroke-width="0.8" stroke-dasharray="3,1"/>
<line x1="505.2" y1="85.5" x2="678.8" y2="85.5" stroke="#e6e6e6" stroke-width="0.8" stroke-dasharray="3,1"/>
<line x1="505.2" y1="54.5" x2="678.8" y2="54.5" stroke="#e6e6e6" stroke-width="0.8" stroke-dasharray="3,1"/>
<line x1="505.2" y1="23.5" x2="678.8" y2="23.5" stroke="#e6e6e6" stroke-width="0.8" stroke-dasharray="3,1"/>
<line x1="513.5" y1="8.4" x2="513.5" y2="147.2" stroke="#d2d2d2" stroke-width="0.9" />
<line x1="544.5" y1="8.4" x2="544.5" y2="147.2" stroke="#d2d2d2" stroke-width="0.9" />
<line x1="576.5" y1="8.4" x2="576.5" y2="147.2" stroke="#d2d2d2" stroke-width="0.9" />
<line x1="607.5" y1="8.4" x2="607.5" y2="147.2" stroke="#d2d2d2" stroke-width="0.9" />
<line x1="639.5" y1="8.4" x2="639.5" y2="147.2" stroke="#d2d2d2" stroke-width="0.9" />
<line x1="670.5" y1="8.4" x2="670.5" y2="147.2" stroke="#d2d2d2" stroke-width="0.9" />
<line x1="505.2" y1="131.5" x2="678.8" y2="131.5" stroke="#d2d2d2" stroke-width="0.9" />
<line x1="505.2" y1="100.5" x2="678.8" y2="100.5" stroke="#d2d2d2" stroke-width="0.9" />
<line x1="505.2" y1="70.5" x2="678.8" y2="70.5" stroke="#d2d2d2" stroke-width="0.9" />
<line x1="505.2" y1="39.5" x2="678.8" y2="39.5" stroke="#d2d2d2" stroke-width="0.9" />
<line x1="505.2" y1="8.5" x2="678.8" y2="8.5" stroke="#d2d2d2" stroke-width="0.9" />
<path d="M513.1,131.03L528.88,130.1L544.66,130.41L560.44,128.56L576.22,123.78L592,117.15L607.78,106.19L623.56,91.23L639.34,71.49L655.12,47.12L670.9,17.96" fill="none" stroke="#1f62b0" stroke-width="1.5" stroke-linejoin="round" />
<rect x="510.8" y="128.73" width="4.6" height="4.6" fill="#1f62b0"/>
<rect x="526.58" y="127.8" width="4.6" height="4.6" fill="#1f62b0"/>
<rect x="542.36" y="128.11" width="4.6" height="4.6" fill="#1f62b0"/>
<rect x="558.14" y="126.26" width="4.6" height="4.6" fill="#1f62b0"/>
<rect x="573.92" y="121.48" width="4.6" height="4.6" fill="#1f62b0"/>
<rect x="589.7" y="114.85" width="4.6" height="4.6" fill="#1f62b0"/>
<rect x="605.48" y="103.89" width="4.6" height="4.6" fill="#1f62b0"/>
<rect x="621.26" y="88.93" width="4.6" height="4.6" fill="#1f62b0"/>
<rect x="637.04" y="69.19" width="4.6" height="4.6" fill="#1f62b0"/>
<rect x="652.82" y="44.82" width="4.6" height="4.6" fill="#1f62b0"/>
<rect x="668.6" y="15.66" width="4.6" height="4.6" fill="#1f62b0"/>
<line x1="596.9" y1="76.2" x2="613.5" y2="89.3" stroke="#f5a460" stroke-width="1.0" />
<path d="M616.3,91.5 L611.2,89.6 L613.9,86.3 Z" fill="#f5a460"/>
<circle cx="620" cy="94.7" r="2.8" fill="#f5a460"/>
<rect x="505.2" y="8.4" width="173.6" height="138.8" fill="none" stroke="#000" stroke-width="1.3"/>
<line x1="513.1" y1="147.2" x2="513.1" y2="150.2" stroke="#000" stroke-width="1.0" />
<line x1="544.66" y1="147.2" x2="544.66" y2="150.2" stroke="#000" stroke-width="1.0" />
<line x1="576.22" y1="147.2" x2="576.22" y2="150.2" stroke="#000" stroke-width="1.0" />
<line x1="607.78" y1="147.2" x2="607.78" y2="150.2" stroke="#000" stroke-width="1.0" />
<line x1="639.34" y1="147.2" x2="639.34" y2="150.2" stroke="#000" stroke-width="1.0" />
<line x1="670.9" y1="147.2" x2="670.9" y2="150.2" stroke="#000" stroke-width="1.0" />
<line x1="528.88" y1="147.2" x2="528.88" y2="149.2" stroke="#000" stroke-width="1.0" />
<line x1="560.44" y1="147.2" x2="560.44" y2="149.2" stroke="#000" stroke-width="1.0" />
<line x1="592" y1="147.2" x2="592" y2="149.2" stroke="#000" stroke-width="1.0" />
<line x1="623.56" y1="147.2" x2="623.56" y2="149.2" stroke="#000" stroke-width="1.0" />
<line x1="655.12" y1="147.2" x2="655.12" y2="149.2" stroke="#000" stroke-width="1.0" />
<line x1="505.2" y1="131.8" x2="502.2" y2="131.8" stroke="#000" stroke-width="1.0" />
<line x1="505.2" y1="100.95" x2="502.2" y2="100.95" stroke="#000" stroke-width="1.0" />
<line x1="505.2" y1="70.1" x2="502.2" y2="70.1" stroke="#000" stroke-width="1.0" />
<line x1="505.2" y1="39.25" x2="502.2" y2="39.25" stroke="#000" stroke-width="1.0" />
<line x1="505.2" y1="8.4" x2="502.2" y2="8.4" stroke="#000" stroke-width="1.0" />
<line x1="505.2" y1="147.23" x2="503.2" y2="147.23" stroke="#000" stroke-width="1.0" />
<line x1="505.2" y1="116.38" x2="503.2" y2="116.38" stroke="#000" stroke-width="1.0" />
<line x1="505.2" y1="85.53" x2="503.2" y2="85.53" stroke="#000" stroke-width="1.0" />
<line x1="505.2" y1="54.68" x2="503.2" y2="54.68" stroke="#000" stroke-width="1.0" />
<line x1="505.2" y1="23.83" x2="503.2" y2="23.83" stroke="#000" stroke-width="1.0" />
<text x="513.55" y="161.2" font-size="11.3" text-anchor="middle" font-family="Liberation Serif" >0.0</text>
<text x="545.11" y="161.2" font-size="11.3" text-anchor="middle" font-family="Liberation Serif" >0.4</text>
<text x="576.67" y="161.2" font-size="11.3" text-anchor="middle" font-family="Liberation Serif" >0.8</text>
<text x="608.23" y="161.2" font-size="11.3" text-anchor="middle" font-family="Liberation Serif" >1.2</text>
<text x="639.79" y="161.2" font-size="11.3" text-anchor="middle" font-family="Liberation Serif" >1.6</text>
<text x="671.35" y="161.2" font-size="11.3" text-anchor="middle" font-family="Liberation Serif" >2.0</text>
<text x="501.8" y="135.6" font-size="11.0" text-anchor="end" font-family="Liberation Serif" >0</text>
<text x="501.8" y="104.75" font-size="11.0" text-anchor="end" font-family="Liberation Serif" >2</text>
<text x="501.8" y="73.9" font-size="11.0" text-anchor="end" font-family="Liberation Serif" >4</text>
<text x="501.8" y="43.05" font-size="11.0" text-anchor="end" font-family="Liberation Serif" >6</text>
<text x="501.8" y="12.2" font-size="11.0" text-anchor="end" font-family="Liberation Serif" >8</text>
<text x="591.8" y="170.7" font-size="11.2" text-anchor="middle" font-family="Liberation Serif" >Fiber offset (&#956;m)</text>
<text transform="translate(489.6,116.6) rotate(-90)" font-size="11.4" text-anchor="start" font-family="Liberation Serif">&#947;<tspan font-size="6.4" dy="1.8">R</tspan><tspan font-size="6.4" dy="-5.8">HCF</tspan><tspan dy="3.8"> (km</tspan><tspan font-size="6.2" dy="-4">-1</tspan><tspan dy="4">&#183;kW</tspan><tspan font-size="6.2" dy="-4">-1</tspan><tspan dy="4">)</tspan></text>
<text x="487" y="9" font-size="11.8" text-anchor="start" font-family="Liberation Sans" >c</text>
<line x1="62.5" y1="185.3" x2="62.5" y2="323.4" stroke="#e6e6e6" stroke-width="0.8" stroke-dasharray="3,1"/>
<line x1="117.5" y1="185.3" x2="117.5" y2="323.4" stroke="#e6e6e6" stroke-width="0.8" stroke-dasharray="3,1"/>
<line x1="145.5" y1="185.3" x2="145.5" y2="323.4" stroke="#e6e6e6" stroke-width="0.8" stroke-dasharray="3,1"/>
<line x1="173.5" y1="185.3" x2="173.5" y2="323.4" stroke="#e6e6e6" stroke-width="0.8" stroke-dasharray="3,1"/>
<line x1="201.5" y1="185.3" x2="201.5" y2="323.4" stroke="#e6e6e6" stroke-width="0.8" stroke-dasharray="3,1"/>
<line x1="34.6" y1="219.5" x2="208" y2="219.5" stroke="#e6e6e6" stroke-width="0.8" stroke-dasharray="3,1"/>
<line x1="34.6" y1="254.5" x2="208" y2="254.5" stroke="#e6e6e6" stroke-width="0.8" stroke-dasharray="3,1"/>
<line x1="34.6" y1="288.5" x2="208" y2="288.5" stroke="#e6e6e6" stroke-width="0.8" stroke-dasharray="3,1"/>
<line x1="34.6" y1="323.5" x2="208" y2="323.5" stroke="#e6e6e6" stroke-width="0.8" stroke-dasharray="3,1"/>
<line x1="48.5" y1="185.3" x2="48.5" y2="323.4" stroke="#d2d2d2" stroke-width="0.9" />
<line x1="131.5" y1="185.3" x2="131.5" y2="323.4" stroke="#d2d2d2" stroke-width="0.9" />
<line x1="159.5" y1="185.3" x2="159.5" y2="323.4" stroke="#d2d2d2" stroke-width="0.9" />
<line x1="187.5" y1="185.3" x2="187.5" y2="323.4" stroke="#d2d2d2" stroke-width="0.9" />
<line x1="34.6" y1="202.5" x2="208" y2="202.5" stroke="#d2d2d2" stroke-width="0.9" />
<line x1="34.6" y1="237.5" x2="208" y2="237.5" stroke="#d2d2d2" stroke-width="0.9" />
<line x1="34.6" y1="271.5" x2="208" y2="271.5" stroke="#d2d2d2" stroke-width="0.9" />
<line x1="34.6" y1="306.5" x2="208" y2="306.5" stroke="#d2d2d2" stroke-width="0.9" />
<rect x="93.5" y="200.5" width="71.5" height="60.5" fill="#fff"/>
<g clip-path="url(#cd)">
<path d="M34.6,332.03L34.6,315.72L35.18,318.2L35.77,317.81L36.35,320.02L36.93,317.96L37.51,318.03L38.1,315.16L38.68,313.04L39.26,317.46L39.84,321.54L40.43,313.04L41.01,313.04L41.59,320.16L42.17,314.96L42.76,313.78L43.34,316.01L43.92,313.04L44.5,313.31L45.09,320.25L45.67,317.52L46.25,313.04L46.84,313.88L47.42,314.81L48,314.99L48.58,319.05L49.17,314.3L49.75,313.04L50.33,313.04L50.91,313.04L51.5,313.04L52.08,320.33L52.66,320.2L53.24,316.91L53.83,318.6L54.41,316.46L54.99,316.63L55.57,315.29L56.16,320.61L56.74,315.14L57.32,313.04L57.9,316.24L58.49,314.15L59.07,322.16L59.57,313.04L59.65,320.56L59.78,319.4L59.99,313.06L60.19,315.02L60.24,316.17L60.4,313.08L60.61,317.07L60.82,314.43L60.82,318.53L61.03,320.56L61.23,318.73L61.23,332.03Z" fill="#4db3f6" fill-opacity="1.0"/>
<path d="M97.65,332.03L97.65,318.93L97.86,313.04L98.06,319.02L98.11,313.04L98.27,314.12L98.48,320.9L98.69,324L98.69,313.54L98.9,313.73L99.1,314.5L99.27,313.84L99.31,313.04L99.52,315.71L99.73,322.34L99.85,315.7L100.44,318.14L101.02,313.04L101.6,317.17L102.18,313.11L102.77,317.73L103.35,313.73L103.93,313.61L104.51,314.07L105.1,316.8L105.68,317.63L106.26,319.73L106.85,314.71L107.43,322.41L108.01,318.22L108.59,313.18L109.18,313.75L109.76,321.76L110.34,313.04L110.92,319.86L111.51,316.82L112.09,315.11L112.67,317.46L113.25,319.76L113.84,314.07L114.42,313.04L115,313.92L115.58,314L116.17,315.35L116.75,313.04L117.33,313.84L117.92,315.96L118.5,313.87L119.08,313.28L119.66,314.83L120.25,316.7L120.83,322.87L121.41,314.85L121.99,316.81L122.58,314.89L123.16,316.86L123.74,313.04L124.32,313.78L124.91,313.52L125.49,313.04L126.07,315.87L126.65,320.04L127.24,316.48L127.82,313.04L128.4,318.93L128.99,313.04L129.57,313.04L130.15,324.33L130.73,314.44L131.32,316.22L131.9,313.04L132.48,313.04L133.06,313.04L133.65,317.16L134.23,314.21L134.81,318.73L135.39,317.89L135.98,321.55L136.56,314.01L137.14,313.04L137.72,314.4L138.31,313.8L138.89,315.75L139.47,319.08L140.05,313.43L140.64,314.17L141.22,316.04L141.8,314.62L142.39,317.97L142.97,319.14L143.55,320.32L144.13,316.27L144.72,313.24L145.3,318.24L145.88,322.66L146.46,320.05L147.05,313.04L147.63,314.18L148.21,317.36L148.79,314.69L149.38,321.53L149.96,315.56L150.54,313.39L151.12,320.11L151.71,313.91L152.29,321.5L152.87,317.7L153.46,313.04L154.04,316.17L154.62,317.83L155.2,313.98L155.79,313.51L156.37,318.63L156.95,315.34L157.53,313.04L158.12,315.66L158.7,317.5L159.28,313.04L159.86,315.02L160.45,313.04L161.03,313.42L161.61,321.88L162.19,313.04L162.78,313.04L163.36,313.47L163.94,318.02L164.53,317.72L165.11,314.04L165.69,315.88L166.27,317.45L166.86,314.24L167.44,319.37L168.02,313.04L168.6,316.61L169.19,320.92L169.77,316.62L170.35,315.76L170.93,322.33L171.52,317.83L172.1,320.22L172.68,313.04L173.26,313.04L173.85,314.6L174.43,317.67L175.01,316.73L175.6,317L176.18,316.84L176.76,315.39L177.34,313.04L177.93,320.05L178.51,317.48L179.09,313.24L179.67,315.62L180.26,315.26L180.84,317.34L181.42,319.15L182,313.04L182.59,313.88L183.17,316.91L183.75,320.59L184.33,316.1L184.92,313.04L185.5,313.22L186.08,313.04L186.66,317.22L187.25,314.17L187.83,314.03L188.41,320.79L189,313.04L189.58,313.55L190.16,314.14L190.74,314.98L191.33,313.04L191.91,315.96L192.49,317.78L193.07,320.45L193.66,321.42L194.24,313.04L194.82,314.45L195.4,314.56L195.99,313.04L196.57,314.73L197.15,323.88L197.73,314.23L198.32,313.97L198.9,316.93L199.48,314.41L200.07,314.67L200.65,315.01L201.23,316.38L201.81,322.89L202.4,314.27L202.98,321.2L203.56,314.39L204.14,317.65L204.73,314.13L205.31,313.04L205.89,313.04L206.47,313.46L207.06,317.46L207.64,314.48L207.64,332.03Z" fill="#4db3f6" fill-opacity="1.0"/>
<path d="M34.6,315.72L35.18,318.2L35.77,317.81L36.35,320.02L36.93,317.96L37.51,318.03L38.1,315.16L38.68,312.21L39.26,317.46L39.84,321.54L40.43,312.76L41.01,310.07L41.59,320.16L42.17,314.96L42.76,313.78L43.34,316.01L43.92,308.66L44.5,313.31L45.09,320.25L45.67,317.52L46.25,309.05L46.84,313.88L47.42,314.81L48,314.99L48.58,319.05L49.17,314.3L49.75,312.86L50.33,312.99L50.91,312.53L51.5,312.11L52.08,320.33L52.66,320.2L53.24,316.91L53.83,318.6L54.41,316.46L54.99,316.63L55.57,315.29L56.16,320.61L56.74,315.14L57.32,312.05L57.9,316.24L58.49,314.15L59.07,322.16L59.57,310.34L59.65,320.56L59.78,319.4L59.99,313.06L60.19,315.02L60.24,316.17L60.4,313.08L60.61,316.87L60.82,314.43L60.82,315.35L61.03,314.29L61.23,313.83L61.4,312.79L61.44,311.95L61.65,311.98L61.86,310.51L61.98,310.35L62.07,309.8L62.27,308.76L62.48,307.46L62.57,306.99L62.69,306.77L62.9,305L63.11,304.58L63.15,304.59L63.32,303.5L63.52,303.26L63.73,301.93L63.73,301.35L63.94,299.62L64.15,298.19L64.31,298.2L64.36,298.39L64.56,297.06L64.77,295.91L64.9,295.16L64.98,294.13L65.19,294.82L65.4,293.12L65.48,292.4L65.6,292.36L65.81,290.45L66.02,290.08L66.06,289.08L66.23,288.91L66.44,288.7L66.64,286.11L66.64,286.52L66.85,285.43L67.06,284.61L67.23,283.05L67.27,283.07L67.48,282.06L67.68,280.79L67.81,281.75L67.89,279.7L68.1,280.35L68.31,278.15L68.39,277.67L68.52,276.83L68.73,275.74L68.93,275.37L68.97,275.71L69.14,273.81L69.35,273L69.56,272.17L69.56,273.15L69.77,271.04L69.97,270.61L70.14,269.75L70.18,269.83L70.39,268.98L70.6,267.62L70.72,267.23L70.81,267.31L71.01,266.06L71.22,264.99L71.31,264.6L71.43,264.38L71.64,263.89L71.85,262.33L71.89,262.68L72.05,261.71L72.26,260.57L72.47,259.81L72.47,259.91L72.68,259.28L72.89,257.57L73.05,257.56L73.09,257.01L73.3,256.9L73.51,255.57L73.64,255.55L73.72,254.7L73.93,254.48L74.14,253.2L74.22,253.08L74.34,251.57L74.55,250.8L74.76,250.68L74.8,250.22L74.97,250.35L75.18,250.51L75.38,248.81L75.38,248.8L75.59,247.73L75.8,247.24L75.97,246.56L76.01,246.66L76.22,245.03L76.42,244.75L76.55,244.62L76.63,244.94L76.84,244.98L77.05,243.94L77.13,243.67L77.26,243.13L77.46,242.74L77.67,241.85L77.71,242.49L77.88,242.82L78.09,243.29L78.3,243.58L78.3,243.58L78.5,244L78.71,244.18L78.88,245.3L78.92,244.19L79.13,246.04L79.34,245.04L79.46,246.29L79.55,246.41L79.75,246.64L79.96,246.65L80.04,248.65L80.17,248.89L80.38,249.05L80.59,249.28L80.63,249.67L80.79,250.99L81,250.6L81.21,251.39L81.21,252L81.42,253.71L81.63,253.74L81.79,253.97L81.83,253.82L82.04,254.61L82.25,256.59L82.38,256.86L82.46,257.38L82.67,257.33L82.87,258.32L82.96,258.54L83.08,259.04L83.29,259.86L83.5,261.43L83.54,260.94L83.71,261.81L83.91,262.11L84.12,262.67L84.12,263.06L84.33,264.48L84.54,264.15L84.71,264.04L84.75,265.25L84.96,266.18L85.16,266.29L85.29,266.69L85.37,266.75L85.58,266.77L85.79,268.46L85.87,268.64L86,268.75L86.2,269.88L86.41,270.06L86.45,271.24L86.62,272.25L86.83,272.38L87.04,273.39L87.04,272.66L87.24,272.41L87.45,273.44L87.62,274.66L87.66,275.08L87.87,274.52L88.08,276.82L88.2,277.04L88.28,276.82L88.49,278.1L88.7,278.53L88.78,279.2L88.91,279.03L89.12,279.31L89.33,281.06L89.37,281.52L89.53,281.88L89.74,282.15L89.95,282.27L89.95,283.35L90.16,284.55L90.37,284.97L90.53,284.8L90.57,285.24L90.78,286.09L90.99,287.98L91.11,287.47L91.2,288.56L91.41,287.68L91.61,288.77L91.7,289.14L91.82,289.5L92.03,290.93L92.24,291.87L92.28,291.77L92.45,292.48L92.65,293.95L92.86,295.07L92.86,294.31L93.07,294.78L93.28,295.11L93.45,296.02L93.49,295.62L93.69,297.17L93.9,298.71L94.03,298.22L94.11,299.09L94.32,299.08L94.53,300.46L94.61,300.98L94.74,302.27L94.94,301.17L95.15,302.36L95.19,303.69L95.36,304.25L95.57,305L95.78,304.73L95.78,306.75L95.98,307.07L96.19,307.42L96.36,308.7L96.4,308.08L96.61,308.87L96.82,309.93L96.94,310.26L97.02,310.66L97.23,311.7L97.44,312L97.52,313.05L97.65,314.26L97.86,312.29L98.06,314.59L98.11,311.08L98.27,314.12L98.48,317.41L98.69,317.59L98.69,313.54L98.9,313.73L99.1,314.5L99.27,313.84L99.31,312.21L99.52,315.71L99.73,321.26L99.85,315.7L100.44,318.14L101.02,312.77L101.6,317.17L102.18,313.11L102.77,317.73L103.35,313.73L103.93,313.61L104.51,314.07L105.1,316.8L105.68,317.63L106.26,319.73L106.85,314.71L107.43,322.41L108.01,318.22L108.59,313.18L109.18,313.75L109.76,321.76L110.34,310.56L110.92,319.86L111.51,316.82L112.09,315.11L112.67,317.46L113.25,319.76L113.84,314.07L114.42,312.58L115,313.92L115.58,314L116.17,315.35L116.75,312.9L117.33,313.84L117.92,315.96L118.5,313.87L119.08,313.28L119.66,314.83L120.25,316.7L120.83,322.87L121.41,314.85L121.99,316.81L122.58,314.89L123.16,316.86L123.74,312.18L124.32,313.78L124.91,313.52L125.49,312.04L126.07,315.87L126.65,320.04L127.24,316.48L127.82,312.1L128.4,318.93L128.99,312.88L129.57,312.69L130.15,324.33L130.73,314.44L131.32,316.22L131.9,312.08L132.48,312.23L133.06,312.15L133.65,317.16L134.23,314.21L134.81,318.73L135.39,317.89L135.98,321.55L136.56,314.01L137.14,312.82L137.72,314.4L138.31,313.8L138.89,315.75L139.47,319.08L140.05,313.43L140.64,314.17L141.22,316.04L141.8,314.62L142.39,317.97L142.97,319.14L143.55,320.32L144.13,316.27L144.72,313.24L145.3,318.24L145.88,322.66L146.46,320.05L147.05,312.42L147.63,314.18L148.21,317.36L148.79,314.69L149.38,321.53L149.96,315.56L150.54,313.39L151.12,320.11L151.71,313.91L152.29,321.5L152.87,317.7L153.46,312.61L154.04,316.17L154.62,317.83L155.2,313.98L155.79,313.51L156.37,318.63L156.95,315.34L157.53,308.99L158.12,315.66L158.7,317.5L159.28,312.6L159.86,315.02L160.45,312.75L161.03,313.42L161.61,321.88L162.19,312.31L162.78,312.84L163.36,313.47L163.94,318.02L164.53,317.72L165.11,314.04L165.69,315.88L166.27,317.45L166.86,314.24L167.44,319.37L168.02,312.57L168.6,316.61L169.19,320.92L169.77,316.62L170.35,315.76L170.93,322.33L171.52,317.83L172.1,320.22L172.68,310.83L173.26,313.03L173.85,314.6L174.43,317.67L175.01,316.73L175.6,317L176.18,316.84L176.76,315.39L177.34,312.85L177.93,320.05L178.51,317.48L179.09,313.24L179.67,315.62L180.26,315.26L180.84,317.34L181.42,319.15L182,312.57L182.59,313.88L183.17,316.91L183.75,320.59L184.33,316.1L184.92,312.32L185.5,313.22L186.08,312.16L186.66,317.22L187.25,314.17L187.83,314.03L188.41,320.79L189,312.65L189.58,313.55L190.16,314.14L190.74,314.98L191.33,312.65L191.91,315.96L192.49,317.78L193.07,320.45L193.66,321.42L194.24,309.67L194.82,314.45L195.4,314.56L195.99,311.97L196.57,314.73L197.15,323.88L197.73,314.23L198.32,313.97L198.9,316.93L199.48,314.41L200.07,314.67L200.65,315.01L201.23,316.38L201.81,322.89L202.4,314.27L202.98,321.2L203.56,314.39L204.14,317.65L204.73,314.13L205.31,312.16L205.89,309.37L206.47,313.46L207.06,317.46L207.64,314.48" fill="none" stroke="#42adf3" stroke-width="0.95" stroke-linejoin="round" />
</g>
<g clip-path="url(#hmd)">
<rect x="97.1" y="204.2" width="55.6" height="50.6" fill="#4436d4"/>
<path d="M118.3,230.8 L130.3,230.8 L129.3,256.8 L121.3,256.8 Z" fill="#3a7ff0" filter="url(#bld)" opacity="0.85"/>
<circle cx="124.3" cy="227.8" r="12.5" fill="#2f8fe8" filter="url(#bld)"/>
<circle cx="124.3" cy="227.8" r="9" fill="#24b0c0" filter="url(#bld)"/>
<circle cx="124.3" cy="227.8" r="6.5" fill="#8cc64a" filter="url(#bsd)"/>
<circle cx="124.3" cy="227.8" r="4.6" fill="#f2c040" filter="url(#bsd)"/>
<circle cx="124.3" cy="227.8" r="2.6" fill="#f9d838" filter="url(#bsd)"/>
</g>
<rect x="154.4" y="204.2" width="3.4" height="50.6" fill="url(#parula)"/>
<text x="159.3" y="206.2" font-size="3.5" text-anchor="start" font-family="Liberation Serif" >1</text>
<text x="159.3" y="256" font-size="3.5" text-anchor="start" font-family="Liberation Serif" >0</text>
<rect x="34.6" y="185.3" width="173.4" height="138.1" fill="none" stroke="#000" stroke-width="1.3"/>
<line x1="48.47" y1="323.4" x2="48.47" y2="326.4" stroke="#000" stroke-width="1.0" />
<line x1="76.22" y1="323.4" x2="76.22" y2="326.4" stroke="#000" stroke-width="1.0" />
<line x1="103.96" y1="323.4" x2="103.96" y2="326.4" stroke="#000" stroke-width="1.0" />
<line x1="131.7" y1="323.4" x2="131.7" y2="326.4" stroke="#000" stroke-width="1.0" />
<line x1="159.45" y1="323.4" x2="159.45" y2="326.4" stroke="#000" stroke-width="1.0" />
<line x1="187.19" y1="323.4" x2="187.19" y2="326.4" stroke="#000" stroke-width="1.0" />
<line x1="34.6" y1="323.4" x2="34.6" y2="325.4" stroke="#000" stroke-width="1.0" />
<line x1="48.47" y1="323.4" x2="48.47" y2="325.4" stroke="#000" stroke-width="1.0" />
<line x1="62.34" y1="323.4" x2="62.34" y2="325.4" stroke="#000" stroke-width="1.0" />
<line x1="76.22" y1="323.4" x2="76.22" y2="325.4" stroke="#000" stroke-width="1.0" />
<line x1="90.09" y1="323.4" x2="90.09" y2="325.4" stroke="#000" stroke-width="1.0" />
<line x1="103.96" y1="323.4" x2="103.96" y2="325.4" stroke="#000" stroke-width="1.0" />
<line x1="117.83" y1="323.4" x2="117.83" y2="325.4" stroke="#000" stroke-width="1.0" />
<line x1="131.7" y1="323.4" x2="131.7" y2="325.4" stroke="#000" stroke-width="1.0" />
<line x1="145.58" y1="323.4" x2="145.58" y2="325.4" stroke="#000" stroke-width="1.0" />
<line x1="159.45" y1="323.4" x2="159.45" y2="325.4" stroke="#000" stroke-width="1.0" />
<line x1="173.32" y1="323.4" x2="173.32" y2="325.4" stroke="#000" stroke-width="1.0" />
<line x1="187.19" y1="323.4" x2="187.19" y2="325.4" stroke="#000" stroke-width="1.0" />
<line x1="201.06" y1="323.4" x2="201.06" y2="325.4" stroke="#000" stroke-width="1.0" />
<line x1="34.6" y1="202.56" x2="31.6" y2="202.56" stroke="#000" stroke-width="1.0" />
<line x1="34.6" y1="237.09" x2="31.6" y2="237.09" stroke="#000" stroke-width="1.0" />
<line x1="34.6" y1="271.61" x2="31.6" y2="271.61" stroke="#000" stroke-width="1.0" />
<line x1="34.6" y1="306.14" x2="31.6" y2="306.14" stroke="#000" stroke-width="1.0" />
<line x1="34.6" y1="185.3" x2="32.6" y2="185.3" stroke="#000" stroke-width="1.0" />
<line x1="34.6" y1="219.82" x2="32.6" y2="219.82" stroke="#000" stroke-width="1.0" />
<line x1="34.6" y1="254.35" x2="32.6" y2="254.35" stroke="#000" stroke-width="1.0" />
<line x1="34.6" y1="288.88" x2="32.6" y2="288.88" stroke="#000" stroke-width="1.0" />
<line x1="34.6" y1="323.4" x2="32.6" y2="323.4" stroke="#000" stroke-width="1.0" />
<text x="49.32" y="336.9" font-size="11.2" text-anchor="middle" font-family="Liberation Serif" >1060</text>
<text x="77.07" y="336.9" font-size="11.2" text-anchor="middle" font-family="Liberation Serif" >1080</text>
<text x="104.81" y="336.9" font-size="11.2" text-anchor="middle" font-family="Liberation Serif" >1100</text>
<text x="132.55" y="336.9" font-size="11.2" text-anchor="middle" font-family="Liberation Serif" >1120</text>
<text x="160.3" y="336.9" font-size="11.2" text-anchor="middle" font-family="Liberation Serif" >1140</text>
<text x="188.04" y="336.9" font-size="11.2" text-anchor="middle" font-family="Liberation Serif" >1160</text>
<text x="30.8" y="206.3" font-size="11.0" text-anchor="end" font-family="Liberation Serif" >&#8722;20</text>
<text x="30.8" y="240.83" font-size="11.0" text-anchor="end" font-family="Liberation Serif" >&#8722;40</text>
<text x="30.8" y="275.35" font-size="11.0" text-anchor="end" font-family="Liberation Serif" >&#8722;60</text>
<text x="30.8" y="309.88" font-size="11.0" text-anchor="end" font-family="Liberation Serif" >&#8722;80</text>
<text x="121.2" y="346.9" font-size="11.3" text-anchor="middle" font-family="Liberation Serif" >Wavelength (nm)</text>
<text transform="translate(9.4,252.4) rotate(-90)" font-size="11.3" text-anchor="middle" font-family="Liberation Serif">Intensity (dBm)</text>
<line x1="37.9" y1="191.4" x2="59.9" y2="191.4" stroke="#42adf3" stroke-width="1" />
<text x="63.2" y="194.7" font-size="9.6" text-anchor="start" font-family="Liberation Serif" >Signal light</text>
<text x="155.1" y="194.7" font-size="9.6" font-family="Liberation Serif"><tspan font-style="italic">P</tspan><tspan font-size="6.5" dy="2.2">in</tspan><tspan dy="-2.2"> = 1005 W</tspan></text>
<text x="-0.3" y="185.5" font-size="11.8" text-anchor="start" font-family="Liberation Sans" >d</text>
<line x1="296.5" y1="185.6" x2="296.5" y2="328.4" stroke="#e6e6e6" stroke-width="0.8" stroke-dasharray="3,1"/>
<line x1="325.5" y1="185.6" x2="325.5" y2="328.4" stroke="#e6e6e6" stroke-width="0.8" stroke-dasharray="3,1"/>
<line x1="411.5" y1="185.6" x2="411.5" y2="328.4" stroke="#e6e6e6" stroke-width="0.8" stroke-dasharray="3,1"/>
<line x1="440.5" y1="185.6" x2="440.5" y2="328.4" stroke="#e6e6e6" stroke-width="0.8" stroke-dasharray="3,1"/>
<line x1="267.9" y1="221.5" x2="447.4" y2="221.5" stroke="#e6e6e6" stroke-width="0.8" stroke-dasharray="3,1"/>
<line x1="267.9" y1="257.5" x2="447.4" y2="257.5" stroke="#e6e6e6" stroke-width="0.8" stroke-dasharray="3,1"/>
<line x1="267.9" y1="292.5" x2="447.4" y2="292.5" stroke="#e6e6e6" stroke-width="0.8" stroke-dasharray="3,1"/>
<line x1="267.9" y1="328.5" x2="447.4" y2="328.5" stroke="#e6e6e6" stroke-width="0.8" stroke-dasharray="3,1"/>
<line x1="282.5" y1="185.6" x2="282.5" y2="328.4" stroke="#d2d2d2" stroke-width="0.9" />
<line x1="310.5" y1="185.6" x2="310.5" y2="328.4" stroke="#d2d2d2" stroke-width="0.9" />
<line x1="368.5" y1="185.6" x2="368.5" y2="328.4" stroke="#d2d2d2" stroke-width="0.9" />
<line x1="397.5" y1="185.6" x2="397.5" y2="328.4" stroke="#d2d2d2" stroke-width="0.9" />
<line x1="425.5" y1="185.6" x2="425.5" y2="328.4" stroke="#d2d2d2" stroke-width="0.9" />
<line x1="267.9" y1="203.5" x2="447.4" y2="203.5" stroke="#d2d2d2" stroke-width="0.9" />
<line x1="267.9" y1="239.5" x2="447.4" y2="239.5" stroke="#d2d2d2" stroke-width="0.9" />
<line x1="267.9" y1="274.5" x2="447.4" y2="274.5" stroke="#d2d2d2" stroke-width="0.9" />
<line x1="267.9" y1="310.5" x2="447.4" y2="310.5" stroke="#d2d2d2" stroke-width="0.9" />
<rect x="318" y="199" width="70" height="62" fill="#fff"/>
<g clip-path="url(#ce)">
<path d="M267.9,337.32L267.9,322.28L268.55,327.18L269.19,320.1L269.84,325.39L270.48,319.12L271.13,319.12L271.78,321.58L272.42,319.12L273.07,324.34L273.72,326.13L274.36,324.37L275.01,321.81L275.65,319.12L276.3,323.6L276.95,325.91L277.59,328.4L278.24,321.14L278.89,319.12L279.53,319.12L280.18,319.12L280.82,326.55L281.47,319.12L282.12,319.12L282.76,328.06L283.41,319.12L284.06,321.58L284.7,330L285.35,321L285.99,320L286.64,319.12L287.29,327.66L287.93,321.7L288.58,323.89L289.22,319.12L289.87,324.22L290.52,322.8L291.16,322.66L291.81,323.12L292.46,323.63L293.1,319.12L293.75,319.97L293.75,319.12L293.92,319.12L294.09,319.12L294.26,320.08L294.39,330.64L294.44,322.21L294.61,326.41L294.78,319.12L294.95,326.12L295.04,319.12L295.13,328.84L295.3,325.86L295.47,320.82L295.64,319.55L295.69,321.53L295.82,324.96L295.99,319.12L296.16,319.27L296.33,327.8L296.33,320.69L296.51,320.74L296.51,337.32Z" fill="#f7b27a" fill-opacity="1.0"/>
<path d="M267.9,322.28L268.55,327.18L269.19,320.1L269.84,325.39L270.48,318.3L271.13,318.11L271.78,321.58L272.42,319.06L273.07,324.34L273.72,326.13L274.36,324.37L275.01,321.81L275.65,317.54L276.3,323.6L276.95,325.91L277.59,328.4L278.24,321.14L278.89,318.3L279.53,317.87L280.18,318.69L280.82,326.55L281.47,317L282.12,318.67L282.76,328.06L283.41,317.35L284.06,321.58L284.7,330L285.35,321L285.99,320L286.64,317.85L287.29,327.66L287.93,321.7L288.58,323.89L289.22,318.33L289.87,324.22L290.52,322.8L291.16,322.66L291.81,323.12L292.46,323.63L293.1,318.25L293.75,319.97L293.75,317.25L293.92,317.65L294.09,319.02L294.26,320.08L294.39,326.76L294.44,322.21L294.61,326.41L294.78,318.35L294.95,326.12L295.04,317.82L295.13,326.9L295.3,325.86L295.47,320.82L295.64,319.55L295.69,321.53L295.82,323.87L295.99,317.89L296.16,319.27L296.33,319.5L296.33,319.47L296.51,319.25L296.68,319.84L296.85,317.35L296.98,321.03L297.02,317.71L297.19,317.1L297.37,316.34L297.54,313.58L297.63,315.57L297.71,317.17L297.88,310.42L298.06,313.21L298.23,315.46L298.27,308.24L298.4,312.92L298.57,308.88L298.75,312.94L298.92,309.88L298.92,309.8L299.09,308.64L299.26,311.38L299.43,305.33L299.56,306.22L299.61,307.29L299.78,306.53L299.95,307.29L300.12,306.39L300.21,304.55L300.3,303.22L300.47,303.85L300.64,303.58L300.81,299.98L300.86,305.68L300.99,306.19L301.16,300.92L301.33,300.67L301.5,301.88L301.5,299.39L301.67,298.37L301.85,297.18L302.02,298.73L302.15,296.1L302.19,296.85L302.36,297.59L302.54,296.75L302.71,299.2L302.79,293.28L302.88,294.7L303.05,296.96L303.23,292.51L303.4,297.81L303.44,291.98L303.57,293.45L303.74,294.41L303.91,295.4L304.09,291.71L304.09,291.24L304.26,293.49L304.43,291.53L304.6,288.67L304.73,294.19L304.78,289.7L304.95,292.82L305.12,289.02L305.29,287.81L305.38,289.9L305.47,287.57L305.64,284.06L305.81,290.69L305.98,283.37L306.03,286.56L306.16,286.91L306.33,285.63L306.5,282.88L306.67,279.6L306.67,282.28L306.84,281.07L307.02,281.99L307.19,282.15L307.32,277.49L307.36,279.48L307.53,282.57L307.71,276.55L307.88,276.99L307.96,277.12L308.05,276.72L308.22,272.18L308.4,274.98L308.57,271.28L308.61,273.13L308.74,273.64L308.91,267.73L309.08,268.09L309.26,265.54L309.26,268.26L309.43,265.99L309.6,262.45L309.77,266.26L309.9,262.92L309.95,264.09L310.12,262.36L310.29,264.51L310.46,262.49L310.55,264.95L310.64,260.53L310.81,259.65L310.98,260.94L311.15,256.25L311.2,257.99L311.32,258.11L311.5,260.12L311.67,257.66L311.84,255.2L311.84,258.65L312.01,258.2L312.19,256.7L312.36,256.26L312.49,254.8L312.53,255.48L312.7,257.89L312.88,254.51L313.05,255.78L313.13,255.2L313.22,258.52L313.39,257.43L313.56,257.22L313.74,256.86L313.78,257.49L313.91,260.63L314.08,256.05L314.25,259.68L314.43,259.74L314.43,256.89L314.6,260.53L314.77,260.35L314.94,259.27L315.07,259.8L315.12,263.21L315.29,261.13L315.46,258.71L315.63,254.6L315.72,263.22L315.8,259.22L315.98,260.54L316.15,261.54L316.32,260.51L316.37,264.44L316.49,263.34L316.67,264.5L316.84,262.33L317.01,261.6L317.01,264.11L317.18,263.33L317.36,262.34L317.53,265.23L317.66,265.89L317.7,270.01L317.87,267.04L318.05,264.96L318.22,266.85L318.3,267.49L318.39,262.96L318.56,265.5L318.73,264.64L318.91,264.54L318.95,266.03L319.08,264.96L319.25,269.14L319.42,265.25L319.6,268.17L319.6,269.74L319.77,272.11L319.94,265.58L320.11,271.05L320.24,266.57L320.29,270.24L320.46,268.26L320.63,266.71L320.8,269.03L320.89,271.23L320.97,269.73L321.15,269.97L321.32,271.93L321.49,270.66L321.53,272.14L321.66,270.79L321.84,269.46L322.01,268.6L322.18,272.54L322.18,271.2L322.35,269.52L322.53,268.98L322.7,270.42L322.83,268.9L322.87,270.21L323.04,274.31L323.21,273.45L323.39,268.49L323.47,273.03L323.56,272.23L323.73,274.53L323.9,273.8L324.08,272.94L324.12,274.46L324.25,268.84L324.42,274.31L324.59,270.71L324.77,275.74L324.77,275.82L324.94,277.31L325.11,275.09L325.28,274.56L325.41,277.23L325.45,276.77L325.63,270.84L325.8,274.4L325.97,275.04L326.06,275.66L326.14,274.01L326.32,277.54L326.49,277.23L326.66,277.53L326.7,278.46L326.83,277.3L327.01,273.88L327.18,276.54L327.35,274.94L327.35,278.49L327.52,274.54L327.7,276.1L327.87,276.62L328,278.78L328.04,280.88L328.21,276.97L328.38,278.77L328.56,279.15L328.64,278.12L328.73,279.36L328.9,274.59L329.07,278.2L329.25,279.03L329.29,277.71L329.42,276.86L329.59,280.42L329.76,279.25L329.94,279.42L329.94,277.31L330.11,279.46L330.28,280.98L330.45,278.69L330.58,279.36L330.62,279.44L330.8,279.97L330.97,282.7L331.14,280.75L331.23,281.2L331.31,281.59L331.49,280.81L331.66,282.39L331.83,281.64L331.87,281.54L332,279.47L332.18,280.19L332.35,281.36L332.52,280.24L332.52,279.9L332.69,280.56L332.86,281.17L333.04,282.09L333.17,284.35L333.21,282.16L333.38,279.56L333.55,281.21L333.73,282.41L333.81,283.91L333.9,283.22L334.07,284.28L334.24,282.04L334.42,283.08L334.46,278.92L334.59,284.73L334.76,284.6L334.93,280.84L335.1,282.82L335.1,281.45L335.28,283.36L335.45,283.12L335.62,284.44L335.75,288.37L335.79,283.5L335.97,288.36L336.14,281.77L336.31,282.64L336.4,282.09L336.48,280.46L336.66,279.34L336.83,283.33L337,283.74L337.04,283.65L337.17,281.79L337.34,287.8L337.52,284.74L337.69,284.24L337.69,284.64L337.86,281.78L338.03,283.19L338.21,283L338.34,282.37L338.38,283.99L338.55,284.5L338.72,282.36L338.9,285.97L338.98,284.19L339.07,287.17L339.24,285.41L339.41,283.42L339.59,282.3L339.63,286.53L339.76,283.48L339.93,285.96L340.1,284.52L340.27,285.04L340.27,281.76L340.45,286.13L340.62,284.85L340.79,286.11L340.92,283.33L340.96,284.08L341.14,287.61L341.31,284.56L341.48,286.8L341.57,282.39L341.65,283.52L341.83,285.53L342,285.36L342.17,287.13L342.21,285.6L342.34,282.64L342.51,287.03L342.69,285.34L342.86,283.61L342.86,281.87L343.03,283.12L343.2,284.32L343.38,282.35L343.51,285.21L343.55,281.12L343.72,282.76L343.89,283.26L344.07,283L344.15,284.04L344.24,284.23L344.41,287.36L344.58,285.1L344.75,286.25L344.8,287.68L344.93,284.27L345.1,285.97L345.27,285.47L345.44,281.98L345.44,283.17L345.62,284.61L345.79,284.57L345.96,285.23L346.09,284.38L346.13,283.68L346.31,286.02L346.48,284.02L346.65,285.68L346.74,285.31L346.82,283.75L346.99,285.54L347.17,283.97L347.34,283.58L347.38,280.94L347.51,284.22L347.68,285.59L347.86,284.81L348.03,284.95L348.03,282.69L348.2,282.7L348.37,286.5L348.55,287.15L348.68,287.29L348.72,280.96L348.89,283.57L349.06,285.12L349.24,283.45L349.32,284.54L349.41,286.44L349.58,288.4L349.75,285.97L349.92,282.95L349.97,283.17L350.1,284.71L350.27,286.25L350.44,280.48L350.61,284.2L350.61,283.51L350.79,284.67L350.96,282.05L351.13,281.02L351.26,285.57L351.3,281.65L351.48,284.09L351.65,284.8L351.82,285.51L351.91,282.7L351.99,284.28L352.16,285.21L352.34,286.96L352.51,282.74L352.55,285.21L352.68,284.96L352.85,283.26L353.03,284.6L353.2,284.77L353.2,283.19L353.37,284.97L353.54,284.4L353.72,283.07L353.84,283.7L353.89,284.2L354.06,284.16L354.23,282.45L354.4,283.58L354.49,286.3L354.58,283.66L354.75,285.69L354.92,287.29L355.09,287.56L355.14,289.38L355.27,286.38L355.44,288.64L355.61,284.05L355.78,286.52L355.78,287.04L355.96,286.98L356.13,287.3L356.3,286.55L356.43,287.75L356.47,286.48L356.64,286.88L356.82,286.75L356.99,290.23L357.08,288.37L357.16,285.47L357.33,284.67L357.51,286.66L357.68,289.17L357.72,288.68L357.85,283.61L358.02,291.04L358.2,287.38L358.37,285.71L358.37,290.78L358.54,289.64L358.71,287.7L358.88,291.14L359.01,289.93L359.06,288.11L359.23,290.22L359.4,287.21L359.57,289.67L359.66,289.82L359.75,292.06L359.92,289.07L360.09,287.74L360.26,288.79L360.31,291.57L360.44,289.16L360.61,290.93L360.78,289.46L360.95,288.95L360.95,290.58L361.13,288.72L361.3,290.38L361.47,290.04L361.6,289.5L361.64,290.51L361.81,288.87L361.99,291.97L362.16,288.62L362.25,292.18L362.33,291.98L362.5,291.07L362.68,288.56L362.85,289.54L362.89,292.9L363.02,293.54L363.19,293.48L363.37,291.11L363.54,292.9L363.54,289.32L363.71,290.3L363.88,292.1L364.05,291.25L364.18,292.63L364.23,292.5L364.4,294.72L364.57,293.39L364.74,293.07L364.83,287.59L364.92,293.43L365.09,293.47L365.26,288.72L365.43,293.61L365.48,289.28L365.61,290.59L365.78,295.83L365.95,293.58L366.12,297.78L366.12,292.75L366.29,293.89L366.47,294.94L366.64,295.09L366.77,289.46L366.81,290.52L366.98,291.92L367.16,293.06L367.33,293.41L367.41,294.02L367.5,293.18L367.67,291.96L367.85,292.43L368.02,293.84L368.06,295.14L368.19,296.86L368.36,292.11L368.53,293.35L368.71,293.41L368.71,292.52L368.88,289.41L369.05,295.62L369.22,293.88L369.35,293.87L369.4,290.59L369.57,294.43L369.74,293.12L369.91,295.66L370,292.44L370.09,294.53L370.26,293.23L370.43,292.14L370.6,293.2L370.65,293.4L370.78,290.94L370.95,294.38L371.12,292.33L371.29,294L371.29,288.85L371.46,292.63L371.64,293.3L371.81,290.71L371.94,289.7L371.98,291.48L372.15,288.85L372.33,288.21L372.5,291.67L372.58,292.02L372.67,290.85L372.84,290.21L373.02,291.3L373.19,289.16L373.23,290.55L373.36,289.75L373.53,284.98L373.7,287.19L373.88,285.55L373.88,289.78L374.05,290.12L374.22,286.94L374.39,286.94L374.52,288.18L374.57,285.72L374.74,286.84L374.91,285.71L375.08,281.2L375.17,285.44L375.26,284.26L375.43,287.74L375.6,282.63L375.77,285.29L375.82,283.96L375.94,284.67L376.12,284.95L376.29,284.3L376.46,279.79L376.46,278.74L376.63,278.24L376.81,282.35L376.98,282.35L377.11,278.51L377.15,280.98L377.32,277.74L377.5,278.42L377.67,278.15L377.75,279.8L377.84,279.21L378.01,276.39L378.18,279.87L378.36,278.53L378.4,279.48L378.53,280.13L378.7,275.36L378.87,279.66L379.05,278.26L379.05,277.28L379.22,277.23L379.39,278.51L379.56,276.88L379.69,277.82L379.74,279.37L379.91,277.59L380.08,277.28L380.25,278L380.34,279.86L380.42,279.11L380.6,278.11L380.77,281.29L380.94,281.02L380.99,283.39L381.11,280.13L381.29,281.62L381.46,283.49L381.63,278.99L381.63,285.92L381.8,283.99L381.98,284.83L382.15,281.76L382.28,284.67L382.32,284.66L382.49,283.01L382.67,281.39L382.84,281.23L382.92,282.84L383.01,282.01L383.18,283.39L383.35,281.34L383.53,280.96L383.57,280.12L383.7,283.62L383.87,281.13L384.04,283.42L384.22,281.64L384.22,278.88L384.39,283.02L384.56,278.98L384.73,278.5L384.86,280.39L384.91,278.83L385.08,278.91L385.25,280.86L385.42,275.55L385.51,278.72L385.59,275.52L385.77,274.85L385.94,275.32L386.11,275.75L386.15,276.17L386.28,275.03L386.46,274.41L386.63,272.04L386.8,272.09L386.8,275.53L386.97,271.76L387.15,270.37L387.32,270.33L387.45,271.56L387.49,270.92L387.66,266.24L387.83,267.59L388.01,266.95L388.09,264.18L388.18,269.36L388.35,265.76L388.52,265.31L388.7,264.37L388.74,268.23L388.87,266.45L389.04,264.55L389.21,262.38L389.39,261.06L389.39,260.25L389.56,261.47L389.73,258.46L389.9,260.94L390.03,259.48L390.07,259.36L390.25,262.09L390.42,259.91L390.59,257.34L390.68,259.48L390.76,258.01L390.94,256.37L391.11,256.18L391.28,254.31L391.32,253.73L391.45,254.84L391.63,254.28L391.8,250.66L391.97,251.56L391.97,251.64L392.14,253.46L392.32,250.55L392.49,250.59L392.62,254.4L392.66,251.79L392.83,247.93L393,247.73L393.18,245.69L393.26,247.63L393.35,250.74L393.52,248.74L393.69,247.27L393.87,247.12L393.91,248.48L394.04,248.85L394.21,248.76L394.38,245.73L394.56,248.76L394.56,244L394.73,248.37L394.9,248.69L395.07,252.47L395.2,252.51L395.24,250.26L395.42,252.95L395.59,250.94L395.76,251.08L395.85,249.66L395.93,249.36L396.11,252.47L396.28,255.07L396.45,253.17L396.49,249.46L396.62,252.69L396.8,253.94L396.97,253.42L397.14,249.47L397.14,249.63L397.31,250.73L397.48,244.96L397.66,246.61L397.79,247.84L397.83,245.43L398,247.08L398.17,244.4L398.35,245.79L398.43,241.04L398.52,241.75L398.69,241.21L398.86,242.98L399.04,238.51L399.08,239.19L399.21,239.07L399.38,238.88L399.55,240.29L399.72,236.6L399.72,240.07L399.9,237.47L400.07,237.48L400.24,239.27L400.37,233.83L400.41,241.65L400.59,236.98L400.76,239.3L400.93,241.86L401.02,240.11L401.1,243.12L401.28,239.16L401.45,240.19L401.62,240.48L401.66,242.8L401.79,245.25L401.96,241.85L402.14,241.41L402.31,243.9L402.31,244.42L402.48,248.07L402.65,247.03L402.83,250.39L402.96,249.38L403,249.13L403.17,247.96L403.34,249.75L403.52,247.98L403.6,251.5L403.69,251.48L403.86,252.5L404.03,254.11L404.21,255.73L404.25,253.91L404.38,257.07L404.55,258.69L404.72,259.51L404.89,255.96L404.89,258.35L405.07,260.1L405.24,261.81L405.41,259.77L405.54,268.26L405.58,263.85L405.76,264.01L405.93,266.38L406.1,267.27L406.19,268.51L406.27,264.86L406.45,266.4L406.62,265.88L406.79,270.14L406.83,270.23L406.96,271.67L407.13,268.39L407.31,272.39L407.48,269.68L407.48,270.13L407.65,272.57L407.82,271.7L408,273.14L408.13,273.92L408.17,272.81L408.34,273.85L408.51,275.68L408.69,275.22L408.77,274.72L408.86,279.54L409.03,277.37L409.2,279.18L409.37,277.84L409.42,280.03L409.55,281.36L409.72,280.78L409.89,278.44L410.06,281.04L410.06,282.35L410.24,285.24L410.41,282.04L410.58,282.08L410.71,281.25L410.75,279.56L410.93,281.69L411.1,283.46L411.27,283.79L411.36,286.83L411.44,284.88L411.61,282.77L411.79,280.87L411.96,283.36L412,285.99L412.13,284.55L412.3,287.24L412.48,285.98L412.65,285.78L412.65,286.54L412.82,284.82L412.99,288.54L413.17,286.72L413.3,285.48L413.34,288.81L413.51,281.89L413.68,287.6L413.86,287.39L413.94,287.78L414.03,289.51L414.2,286.43L414.37,289.39L414.54,285.91L414.59,287.95L414.72,290L414.89,286.12L415.06,284.35L415.23,288.37L415.23,289.45L415.41,286.69L415.58,286.91L415.75,290.59L415.88,289.47L415.92,285.57L416.1,289.38L416.27,285.92L416.44,289.16L416.53,291.38L416.61,287.01L416.78,289.25L416.96,286.6L417.13,291.08L417.17,289.81L417.3,288.77L417.47,288.64L417.65,289.2L417.82,290.67L417.82,290.18L417.99,292.65L418.16,293.02L418.34,291.83L418.46,292.34L418.51,295.92L418.68,290.51L418.85,291.9L419.02,294.26L419.11,289.91L419.2,291.66L419.37,292.44L419.54,289.79L419.71,291.23L419.76,288.39L419.89,291.73L420.06,291.54L420.23,290.09L420.4,294.06L420.4,292.55L420.58,294.86L420.75,289.63L420.92,290.95L421.05,296.83L421.09,293.13L421.26,293.31L421.44,291.36L421.61,294.66L421.7,290.78L421.78,294.71L421.95,291.75L422.13,294.99L422.3,294.29L422.34,295.98L422.47,294.1L422.64,297.57L422.82,295.85L422.99,292.55L422.99,292.34L423.16,293.34L423.33,294.44L423.5,299.05L423.63,291.37L423.68,296.08L423.85,293.65L424.02,294.67L424.19,295.62L424.28,297.76L424.37,293.11L424.54,296.81L424.71,297.46L424.88,296.28L424.93,295.45L425.06,295.58L425.23,294.01L425.4,297.49L425.57,297.27L425.57,293.96L425.75,297.69L425.92,297.95L426.09,297.17L426.22,296.64L426.26,297.75L426.43,292.74L426.61,295.33L426.78,298.88L426.87,297.72L426.95,295.75L427.12,298.27L427.3,298.51L427.47,292.11L427.51,295.28L427.64,299.14L427.81,299.4L427.99,298.63L428.16,297.48L428.16,297.27L428.33,298.93L428.5,300.77L428.67,299.03L428.8,297.1L428.85,298.04L429.02,302.01L429.19,300.47L429.36,296.62L429.45,297.23L429.54,298.03L429.71,295.87L429.88,297.8L430.05,297.53L430.1,297.99L430.23,298.52L430.4,299.97L430.57,298.82L430.74,298.98L430.74,300.53L430.91,301.04L431.09,300.53L431.26,300.26L431.39,297.48L431.43,299.17L431.6,299.33L431.78,298.67L431.95,299.03L432.03,300.38L432.12,301.34L432.29,298.68L432.47,298.67L432.64,302.43L432.68,299.12L432.81,300.8L432.98,298.82L433.15,297.72L433.33,299.9L433.33,298.53L433.5,301.18L433.67,300.55L433.84,301.15L433.97,299L434.02,301.97L434.19,301.98L434.36,304.84L434.53,300.63L434.62,303.37L434.71,302.4L434.88,299.07L435.05,299.3L435.22,298.38L435.27,304.91L435.4,301.24L435.57,304.4L435.74,303.94L435.91,300.75L435.91,302.83L436.08,305.83L436.26,303.73L436.43,297.17L436.56,304.57L436.6,303.87L436.77,303.81L436.95,301.92L437.12,304.44L437.2,306.34L437.29,303.69L437.46,303.06L437.64,307.15L437.81,306.55L437.85,303.55L437.98,304.53L438.15,305.78L438.32,301.53L438.5,302.23L438.5,303.42L438.67,299.45L438.84,304.67L439.01,305.32L439.14,301.83L439.19,306.41L439.36,308.92L439.53,306.31L439.7,306.87L439.79,304.38L439.88,305.39L440.05,305.2L440.22,305.4L440.39,303.77L440.44,307.74L440.56,307.84L440.74,307.12L440.91,307.95L441.08,305L441.08,308.28L441.25,304.05L441.43,309.07L441.6,309.94L441.73,307.51L441.77,303.72L441.94,307.65L442.12,306.69L442.29,308.58L442.37,306.68L442.46,305.63L442.63,308.12L442.8,309.16L442.98,304.73L443.02,309.51L443.15,309.29L443.32,307.81L443.49,309.76L443.67,307.83L443.67,304.99L443.84,307.2L444.01,309.72L444.18,307.1L444.31,313.2L444.36,307.68L444.53,309.66L444.7,307.98L444.87,311.73L444.96,310.27L445.04,306.55L445.22,309.28L445.39,310.58L445.56,312.52L445.61,309.44L445.73,310.56L445.91,307.72L446.08,312.71L446.25,309.19L446.25,307.54L446.42,308.89L446.6,314.09L446.77,314.39L446.9,312.28L446.94,313.99L447.11,312.28L447.29,310.49" fill="none" stroke="#f5a86a" stroke-width="0.9" stroke-linejoin="round" />
</g>
<g clip-path="url(#hme)">
<rect x="320.7" y="203" width="54.5" height="54" fill="#4436d4"/>
<rect x="344.2" y="200" width="8" height="30" fill="#3468ee" filter="url(#ble)" opacity="0.6"/>
<path d="M340.2,229 L355.2,229 L353.2,260 L341.2,260 Z" fill="#3a7ff0" filter="url(#ble)" opacity="0.85"/>
<ellipse cx="350.2" cy="229" rx="17" ry="12" fill="#2f8fe8" filter="url(#ble)"/>
<ellipse cx="350.2" cy="229.3" rx="13.5" ry="8.8" fill="#25b0b8" filter="url(#ble)"/>
<ellipse cx="350.2" cy="229.3" rx="11.5" ry="6.6" fill="#8cc64a" filter="url(#bse)"/>
<ellipse cx="351.2" cy="229.3" rx="9" ry="4.3" fill="#e6b634" filter="url(#bse)"/>
<circle cx="346.2" cy="229.3" r="5.6" fill="#f4c63a" filter="url(#bse)"/>
<circle cx="346.2" cy="229.3" r="3" fill="#f8e42e" filter="url(#bse)"/>
</g>
<rect x="376.4" y="203" width="3.6" height="54" fill="url(#parula)"/>
<text x="381.5" y="205" font-size="3.5" text-anchor="start" font-family="Liberation Serif" >1</text>
<text x="381.5" y="258.2" font-size="3.5" text-anchor="start" font-family="Liberation Serif" >0</text>
<rect x="267.9" y="185.6" width="179.5" height="142.8" fill="none" stroke="#000" stroke-width="1.3"/>
<line x1="282.26" y1="328.4" x2="282.26" y2="331.4" stroke="#000" stroke-width="1.0" />
<line x1="310.98" y1="328.4" x2="310.98" y2="331.4" stroke="#000" stroke-width="1.0" />
<line x1="339.7" y1="328.4" x2="339.7" y2="331.4" stroke="#000" stroke-width="1.0" />
<line x1="368.42" y1="328.4" x2="368.42" y2="331.4" stroke="#000" stroke-width="1.0" />
<line x1="397.14" y1="328.4" x2="397.14" y2="331.4" stroke="#000" stroke-width="1.0" />
<line x1="425.86" y1="328.4" x2="425.86" y2="331.4" stroke="#000" stroke-width="1.0" />
<line x1="267.9" y1="328.4" x2="267.9" y2="330.4" stroke="#000" stroke-width="1.0" />
<line x1="282.26" y1="328.4" x2="282.26" y2="330.4" stroke="#000" stroke-width="1.0" />
<line x1="296.62" y1="328.4" x2="296.62" y2="330.4" stroke="#000" stroke-width="1.0" />
<line x1="310.98" y1="328.4" x2="310.98" y2="330.4" stroke="#000" stroke-width="1.0" />
<line x1="325.34" y1="328.4" x2="325.34" y2="330.4" stroke="#000" stroke-width="1.0" />
<line x1="339.7" y1="328.4" x2="339.7" y2="330.4" stroke="#000" stroke-width="1.0" />
<line x1="354.06" y1="328.4" x2="354.06" y2="330.4" stroke="#000" stroke-width="1.0" />
<line x1="368.42" y1="328.4" x2="368.42" y2="330.4" stroke="#000" stroke-width="1.0" />
<line x1="382.78" y1="328.4" x2="382.78" y2="330.4" stroke="#000" stroke-width="1.0" />
<line x1="397.14" y1="328.4" x2="397.14" y2="330.4" stroke="#000" stroke-width="1.0" />
<line x1="411.5" y1="328.4" x2="411.5" y2="330.4" stroke="#000" stroke-width="1.0" />
<line x1="425.86" y1="328.4" x2="425.86" y2="330.4" stroke="#000" stroke-width="1.0" />
<line x1="440.22" y1="328.4" x2="440.22" y2="330.4" stroke="#000" stroke-width="1.0" />
<line x1="267.9" y1="203.45" x2="264.9" y2="203.45" stroke="#000" stroke-width="1.0" />
<line x1="267.9" y1="239.15" x2="264.9" y2="239.15" stroke="#000" stroke-width="1.0" />
<line x1="267.9" y1="274.85" x2="264.9" y2="274.85" stroke="#000" stroke-width="1.0" />
<line x1="267.9" y1="310.55" x2="264.9" y2="310.55" stroke="#000" stroke-width="1.0" />
<line x1="267.9" y1="185.6" x2="265.9" y2="185.6" stroke="#000" stroke-width="1.0" />
<line x1="267.9" y1="221.3" x2="265.9" y2="221.3" stroke="#000" stroke-width="1.0" />
<line x1="267.9" y1="257" x2="265.9" y2="257" stroke="#000" stroke-width="1.0" />
<line x1="267.9" y1="292.7" x2="265.9" y2="292.7" stroke="#000" stroke-width="1.0" />
<line x1="267.9" y1="328.4" x2="265.9" y2="328.4" stroke="#000" stroke-width="1.0" />
<text x="283.11" y="343" font-size="11.8" text-anchor="middle" font-family="Liberation Serif" >1060</text>
<text x="311.83" y="343" font-size="11.8" text-anchor="middle" font-family="Liberation Serif" >1080</text>
<text x="340.55" y="343" font-size="11.8" text-anchor="middle" font-family="Liberation Serif" >1100</text>
<text x="369.27" y="343" font-size="11.8" text-anchor="middle" font-family="Liberation Serif" >1120</text>
<text x="397.99" y="343" font-size="11.8" text-anchor="middle" font-family="Liberation Serif" >1140</text>
<text x="426.71" y="343" font-size="11.8" text-anchor="middle" font-family="Liberation Serif" >1160</text>
<text x="264.1" y="207.36" font-size="11.5" text-anchor="end" font-family="Liberation Serif" >&#8722;20</text>
<text x="264.1" y="243.06" font-size="11.5" text-anchor="end" font-family="Liberation Serif" >&#8722;40</text>
<text x="264.1" y="278.76" font-size="11.5" text-anchor="end" font-family="Liberation Serif" >&#8722;60</text>
<text x="264.1" y="314.46" font-size="11.5" text-anchor="end" font-family="Liberation Serif" >&#8722;80</text>
<text x="357.8" y="352.1" font-size="11.6" text-anchor="middle" font-family="Liberation Serif" >Wavelength (nm)</text>
<text transform="translate(241.4,256.1) rotate(-90)" font-size="11.6" text-anchor="middle" font-family="Liberation Serif">Intensity (dBm)</text>
<line x1="270.4" y1="192.2" x2="291.4" y2="192.2" stroke="#f5a86a" stroke-width="1" />
<text x="295.2" y="195" font-size="10" text-anchor="start" font-family="Liberation Serif" >Signal and Raman light</text>
<text x="397.6" y="195" font-size="10" font-family="Liberation Serif"><tspan font-style="italic">P</tspan><tspan font-size="6.5" dy="2.2">in</tspan><tspan dy="-2.2">=2259 W</tspan></text>
<text x="243" y="185.8" font-size="11.8" text-anchor="start" font-family="Liberation Sans" >e</text>
<line x1="534.5" y1="185.6" x2="534.5" y2="327.9" stroke="#e6e6e6" stroke-width="0.8" stroke-dasharray="3,1"/>
<line x1="563.5" y1="185.6" x2="563.5" y2="327.9" stroke="#e6e6e6" stroke-width="0.8" stroke-dasharray="3,1"/>
<line x1="648.5" y1="185.6" x2="648.5" y2="327.9" stroke="#e6e6e6" stroke-width="0.8" stroke-dasharray="3,1"/>
<line x1="676.5" y1="185.6" x2="676.5" y2="327.9" stroke="#e6e6e6" stroke-width="0.8" stroke-dasharray="3,1"/>
<line x1="506.3" y1="221.5" x2="683.7" y2="221.5" stroke="#e6e6e6" stroke-width="0.8" stroke-dasharray="3,1"/>
<line x1="506.3" y1="256.5" x2="683.7" y2="256.5" stroke="#e6e6e6" stroke-width="0.8" stroke-dasharray="3,1"/>
<line x1="506.3" y1="292.5" x2="683.7" y2="292.5" stroke="#e6e6e6" stroke-width="0.8" stroke-dasharray="3,1"/>
<line x1="506.3" y1="327.5" x2="683.7" y2="327.5" stroke="#e6e6e6" stroke-width="0.8" stroke-dasharray="3,1"/>
<line x1="520.5" y1="185.6" x2="520.5" y2="327.9" stroke="#d2d2d2" stroke-width="0.9" />
<line x1="548.5" y1="185.6" x2="548.5" y2="327.9" stroke="#d2d2d2" stroke-width="0.9" />
<line x1="577.5" y1="185.6" x2="577.5" y2="327.9" stroke="#d2d2d2" stroke-width="0.9" />
<line x1="634.5" y1="185.6" x2="634.5" y2="327.9" stroke="#d2d2d2" stroke-width="0.9" />
<line x1="662.5" y1="185.6" x2="662.5" y2="327.9" stroke="#d2d2d2" stroke-width="0.9" />
<line x1="506.3" y1="203.5" x2="683.7" y2="203.5" stroke="#d2d2d2" stroke-width="0.9" />
<line x1="506.3" y1="238.5" x2="683.7" y2="238.5" stroke="#d2d2d2" stroke-width="0.9" />
<line x1="506.3" y1="274.5" x2="683.7" y2="274.5" stroke="#d2d2d2" stroke-width="0.9" />
<line x1="506.3" y1="310.5" x2="683.7" y2="310.5" stroke="#d2d2d2" stroke-width="0.9" />
<rect x="547" y="200" width="65" height="61" fill="#fff"/>
<g clip-path="url(#cf)">
<path d="M506.3,336.79L506.3,319.9L506.73,323.82L507.15,321.65L507.58,319.9L508,322.54L508.43,326.58L508.85,319.9L509.28,326.25L509.71,327.67L510.13,324.31L510.56,319.9L510.98,319.9L511.41,319.9L511.83,319.9L512.26,324.3L512.69,319.9L513.11,330.96L513.54,329.58L513.96,328.34L514.39,322.27L514.82,325.96L515.24,319.9L515.67,324.12L516.09,325.13L516.52,326.61L516.94,320.14L517.37,319.9L517.8,320.27L518.22,319.9L518.65,319.9L519.07,326.23L519.5,328.49L519.92,319.9L520.35,320.56L520.78,323.24L521.2,324.69L521.63,326.88L522.05,325.43L522.48,319.9L522.9,331.78L523.33,327.51L523.76,324.08L524.18,329.75L524.61,319.9L525.03,328.11L525.46,320.58L525.88,319.9L526.31,322.72L526.74,319.9L527.16,329.12L527.59,319.9L528.01,321.21L528.44,321.27L528.87,319.9L529.29,319.9L529.72,320.87L530.14,324.97L530.57,328.01L530.99,319.9L531.42,324.24L531.85,328.71L532.27,319.9L532.7,321.75L533.12,330.42L533.55,324.88L533.97,319.9L534.4,322.01L534.83,331.94L535.25,322.12L535.68,320.35L536.1,332.05L536.53,324.64L536.95,319.9L537.38,319.9L537.81,320.65L538.23,319.9L538.66,319.9L539.08,324.68L539.51,321.61L539.94,319.9L540.36,319.9L540.79,319.9L541.21,325.21L541.64,322.9L541.78,319.9L541.99,319.9L542.06,322.18L542.21,324.89L542.42,330.58L542.49,319.9L542.63,320.09L542.84,325.11L542.92,326.28L543.06,320.82L543.27,320.18L543.34,323.29L543.48,320.58L543.7,328.93L543.77,321.86L543.91,329.1L543.91,336.79Z" fill="#1d3f7f" fill-opacity="1.0"/>
<path d="M555.83,336.79L555.83,325.21L556.04,319.9L556.11,319.9L556.26,319.9L556.47,322.57L556.54,319.9L556.68,327.32L556.89,324L556.97,321.29L557.11,321.18L557.32,321.6L557.39,330.58L557.53,319.9L557.75,329.87L557.82,319.9L557.96,319.9L558.17,325.01L558.24,319.9L558.38,325.07L558.6,324.12L558.67,329.44L559.09,321.05L559.52,321.23L559.95,319.9L560.37,326.9L560.8,324.96L561.22,323.31L561.65,331.38L562.07,326.28L562.5,319.9L562.93,329.04L563.35,323.8L563.78,323.29L564.2,319.9L564.63,323.41L565.05,330.56L565.48,319.9L565.91,326.01L566.33,325.83L566.76,319.9L567.18,324.32L567.61,319.9L568.04,324.3L568.46,319.95L568.89,321.31L569.31,330.17L569.74,328.73L570.16,324.27L570.59,322.22L571.02,328.21L571.44,328.18L571.87,325.47L572.29,320.15L572.72,328.94L573.14,320.78L573.57,319.9L574,319.9L574.42,325.63L574.85,319.9L575.27,323.61L575.7,319.9L576.12,319.9L576.55,321.52L576.98,325.74L577.4,326.47L577.54,323.55L577.54,336.79Z" fill="#1d3f7f" fill-opacity="1.0"/>
<path d="M506.3,316.96L506.73,323.82L507.15,321.65L507.58,316L508,322.54L508.43,326.58L508.85,319.08L509.28,326.25L509.71,327.67L510.13,324.31L510.56,319.77L510.98,319.04L511.41,317.75L511.83,317.58L512.26,324.3L512.69,318.65L513.11,330.96L513.54,329.58L513.96,328.34L514.39,322.27L514.82,325.96L515.24,318.1L515.67,324.12L516.09,325.13L516.52,326.61L516.94,320.14L517.37,318.85L517.8,320.27L518.22,310.04L518.65,318.91L519.07,326.23L519.5,328.49L519.92,317.38L520.35,320.56L520.78,323.24L521.2,324.69L521.63,326.88L522.05,325.43L522.48,316.77L522.9,331.78L523.33,327.51L523.76,324.08L524.18,329.75L524.61,316.13L525.03,328.11L525.46,320.58L525.88,316.06L526.31,322.72L526.74,319.28L527.16,329.12L527.59,317.05L528.01,321.21L528.44,321.27L528.87,318.75L529.29,319.8L529.72,320.87L530.14,324.97L530.57,328.01L530.99,318.18L531.42,324.24L531.85,328.71L532.27,318.81L532.7,321.75L533.12,330.42L533.55,324.88L533.97,319.7L534.4,322.01L534.83,331.94L535.25,322.12L535.68,320.35L536.1,332.05L536.53,324.64L536.95,318.74L537.38,317.64L537.81,320.65L538.23,317.86L538.66,316.8L539.08,324.68L539.51,321.61L539.94,319.6L540.36,318.07L540.79,319.37L541.21,325.21L541.64,322.9L541.78,316.23L541.99,316.26L542.06,322.18L542.21,324.89L542.42,330.58L542.49,314.99L542.63,320.09L542.84,325.11L542.92,326.28L543.06,320.82L543.27,320.18L543.34,323.29L543.48,320.58L543.7,322.29L543.77,321.86L543.91,320.73L544.12,319.26L544.19,320.71L544.33,316.97L544.55,314.33L544.62,315.75L544.76,313.41L544.97,314.89L545.04,315.17L545.19,311.63L545.4,311.9L545.47,313.41L545.61,313.87L545.82,312.11L545.9,313.65L546.04,310.92L546.25,308.49L546.32,309.62L546.46,312.35L546.68,309.5L546.75,308.76L546.89,309.52L547.1,308.51L547.17,308.71L547.31,308.92L547.53,306.25L547.6,310.08L547.74,309.69L547.95,309.8L548.02,304.87L548.17,311.74L548.38,308.24L548.45,309.34L548.59,308.98L548.81,308.51L548.88,307.34L549.02,308.28L549.23,309.56L549.3,307.95L549.44,308.27L549.66,308.39L549.73,310.79L549.87,307.02L550.08,308.01L550.15,308.71L550.3,307.78L550.51,309.63L550.58,310.25L550.72,308.81L550.93,310.72L551,309.34L551.15,309.48L551.36,310.46L551.43,309.81L551.57,311.62L551.79,307.8L551.86,311.86L552,309.62L552.21,308.74L552.28,308.47L552.42,312.29L552.64,309.47L552.71,309.29L552.85,310.48L553.06,309.84L553.13,309.8L553.28,314.09L553.49,311.18L553.56,309.48L553.7,308.8L553.91,312.06L553.99,311.02L554.13,311.97L554.34,311.05L554.41,312.38L554.55,309.79L554.77,315.22L554.84,314.89L554.98,315.11L555.19,316.68L555.26,315.99L555.4,317.29L555.62,321.5L555.69,319L555.83,322.24L556.04,319.56L556.11,318.5L556.26,317.21L556.47,322.57L556.54,319.87L556.68,327.32L556.89,324L556.97,321.29L557.11,321.18L557.32,321.6L557.39,330.58L557.53,317.32L557.75,329.87L557.82,315.27L557.96,311.63L558.17,325.01L558.24,310.1L558.38,325.07L558.6,324.12L558.67,329.44L559.09,321.05L559.52,321.23L559.95,316.57L560.37,326.9L560.8,324.96L561.22,323.31L561.65,331.38L562.07,326.28L562.5,318.72L562.93,329.04L563.35,323.8L563.78,323.29L564.2,316.35L564.63,323.41L565.05,330.56L565.48,317.15L565.91,326.01L566.33,325.83L566.76,311.72L567.18,324.32L567.61,319.27L568.04,324.3L568.46,319.95L568.89,321.31L569.31,330.17L569.74,328.73L570.16,324.27L570.59,322.22L571.02,328.21L571.44,328.18L571.87,325.47L572.29,320.15L572.72,328.94L573.14,320.78L573.57,319.56L574,316.07L574.42,325.63L574.85,319.76L575.27,323.61L575.7,317.46L576.12,316.98L576.55,321.52L576.98,325.74L577.4,326.47L577.54,323.55L577.71,316.93L577.88,308.42L578.05,301.36L578.23,294.13L578.4,293.42L578.57,290.56L578.74,292.51L578.91,287.83L579.08,289.28L579.25,286.33L579.42,287.11L579.59,288.31L579.76,287.54L579.93,287.05L580.1,284.92L580.27,287.87L580.44,285.62L580.61,284.04L580.78,283.51L580.95,285.3L581.12,285.92L581.29,287.46L581.46,284.24L581.63,284.43L581.8,289.56L581.97,287.45L582.14,284.8L582.31,286.02L582.48,284.11L582.65,284.61L582.82,284.94L582.99,285.25L583.16,283.02L583.33,283.23L583.5,284.96L583.67,282.56L583.85,284.18L584.02,285.89L584.19,284.79L584.36,286.35L584.53,283.62L584.7,283.34L584.87,283.69L585.04,286.29L585.21,285.07L585.38,286.99L585.55,284.55L585.72,282.95L585.89,284.04L586.06,283.45L586.23,283.85L586.4,285.3L586.57,284.54L586.74,284.84L586.91,283.1L587.08,282.89L587.25,285.14L587.42,284.87L587.59,282.82L587.76,283.06L587.93,284.14L588.1,281.66L588.27,284.56L588.44,282.82L588.61,283.45L588.78,281.98L588.95,283.89L589.12,281.96L589.29,282.6L589.47,286.62L589.64,284.47L589.81,282.74L589.98,284.44L590.15,282.25L590.32,283.62L590.49,286.05L590.66,283.29L590.83,283.11L591,282.7L591.17,283.17L591.34,283.05L591.51,283.29L591.68,285.01L591.85,282.42L592.02,284.13L592.19,286.94L592.36,287.47L592.53,283.55L592.7,284.36L592.87,284.43L593.04,286.62L593.21,285.12L593.38,285.36L593.55,288.18L593.72,286.79L593.89,286.69L594.06,289.55L594.23,288.58L594.4,286.9L594.57,286.02L594.74,287.1L594.91,287.65L595.09,287.45L595.26,286.77L595.43,288.37L595.6,287.22L595.77,286.97L595.94,287.54L596.11,286.65L596.28,288.31L596.45,287.9L596.62,290.37L596.79,289.5L596.96,285.28L597.13,290.59L597.3,291.61L597.47,289.29L597.64,288.99L597.81,287.65L597.98,288.77L598.15,289.05L598.32,291.02L598.49,287.77L598.66,288.19L598.83,288.46L599,290.34L599.17,289.62L599.34,291.6L599.51,291.42L599.68,290.03L599.85,290.4L600.02,292.14L600.19,291.98L600.36,290.3L600.53,290.61L600.71,292.33L600.88,291.74L601.05,294.13L601.22,291.86L601.39,292.55L601.56,292.18L601.73,292.46L601.9,290.79L602.07,292.17L602.24,293.09L602.41,292.42L602.58,293.24L602.75,294.56L602.92,293.68L603.09,296.69L603.26,293.14L603.43,293.87L603.6,293.12L603.77,295.16L603.94,294.61L604.11,294.41L604.28,295.07L604.45,296.39L604.62,294.26L604.79,295.41L604.96,292.06L605.13,294.05L605.3,293.76L605.47,292.9L605.64,295.07L605.81,292.34L605.98,293.78L606.15,291.37L606.33,292.18L606.5,291.29L606.67,292.99L606.84,293.79L607.01,292.08L607.18,293.32L607.35,291.69L607.52,291.77L607.69,291.66L607.86,291.89L608.03,289.88L608.2,287.97L608.37,292.02L608.54,291.4L608.71,290.17L608.88,286.06L609.05,290.19L609.22,286.55L609.39,289.3L609.56,288.65L609.73,288.34L609.9,289.53L610.07,286.72L610.24,287.66L610.41,289.15L610.58,285.95L610.75,285.91L610.92,286.66L611.09,285L611.26,285.19L611.43,286.97L611.6,282.81L611.77,285.16L611.95,285.14L612.12,282.42L612.29,283.72L612.46,284.68L612.63,282.78L612.8,285.14L612.97,281.09L613.14,285.61L613.31,282.19L613.48,284.01L613.65,282.22L613.82,282.86L613.99,282.67L614.16,280.95L614.33,280.15L614.5,280.98L614.67,280.34L614.84,281.42L615.01,280.87L615.18,279.13L615.35,282.1L615.52,279.3L615.69,281.94L615.86,281.02L616.03,281L616.2,282.35L616.37,280.67L616.54,281.15L616.71,279.57L616.88,280.82L617.05,280.17L617.22,281L617.39,278.89L617.57,281.55L617.74,282.63L617.91,283.81L618.08,283.25L618.25,282.33L618.42,282.63L618.59,280.05L618.76,282.8L618.93,282.82L619.1,281.1L619.27,281.76L619.44,282.1L619.61,285.35L619.78,284.23L619.95,284.27L620.12,281.86L620.29,281.61L620.46,284.07L620.63,282.51L620.8,281.95L620.97,283.37L621.14,282.96L621.31,281.24L621.48,281.69L621.65,282.88L621.82,280.88L621.99,280.22L622.16,279.99L622.33,279.44L622.5,278.39L622.67,278.74L622.84,277.67L623.02,276.25L623.19,276.67L623.36,275.57L623.53,274.5L623.7,271.44L623.87,272.9L624.04,269L624.21,271.59L624.38,271L624.55,268.99L624.72,267.95L624.89,267.46L625.06,266.45L625.23,266.45L625.4,265.18L625.57,264.81L625.74,265.58L625.91,265.61L626.08,264.32L626.25,262.88L626.42,260.38L626.59,261.02L626.76,257.33L626.93,259.05L627.1,259.55L627.27,259L627.44,257.39L627.61,255.32L627.78,255.98L627.95,254.67L628.12,255.23L628.29,255.61L628.46,256.67L628.64,252.34L628.81,252.43L628.98,250.01L629.15,249.42L629.32,250.72L629.49,248.63L629.66,248.9L629.83,249.65L630,248.57L630.17,247.82L630.34,246.5L630.51,248.94L630.68,249.33L630.85,249.22L631.02,246.35L631.19,248.5L631.36,248.93L631.53,249.57L631.7,249.47L631.87,249.55L632.04,250.7L632.21,248.79L632.38,247.06L632.55,249.2L632.72,249.73L632.89,247.98L633.06,248.27L633.23,246.41L633.4,247.63L633.57,243.8L633.74,245.98L633.91,243.46L634.08,244.88L634.26,243.75L634.43,242.41L634.6,242.78L634.77,238.84L634.94,242.98L635.11,238.67L635.28,240.27L635.45,237.72L635.62,238.07L635.79,236.48L635.96,235.71L636.13,236.89L636.3,235.44L636.47,238.21L636.64,236.2L636.81,234.03L636.98,234.12L637.15,234.72L637.32,236.84L637.49,236.29L637.66,239.34L637.83,238.84L638,240.39L638.17,240.97L638.34,242.38L638.51,240.65L638.68,241.27L638.85,245.14L639.02,243.99L639.19,244.36L639.36,245.05L639.53,247.07L639.7,247.59L639.88,247.75L640.05,250.78L640.22,249.86L640.39,253.27L640.56,252.55L640.73,251.91L640.9,254.08L641.07,255.41L641.24,258L641.41,256.92L641.58,256.72L641.75,258.07L641.92,260.75L642.09,260.44L642.26,262.93L642.43,262.78L642.6,265.68L642.77,266.85L642.94,267.11L643.11,266.47L643.28,267.99L643.45,266.31L643.62,268.85L643.79,268.07L643.96,269.39L644.13,270.5L644.3,270.35L644.47,271.97L644.64,273.79L644.81,275.34L644.98,276.09L645.15,276.05L645.32,274.94L645.5,274.96L645.67,279.55L645.84,278.98L646.01,278.31L646.18,280.5L646.35,278.36L646.52,280.41L646.69,280.77L646.86,282.07L647.03,281.76L647.2,280.14L647.37,284.31L647.54,279.14L647.71,282L647.88,283.24L648.05,282.04L648.22,284.77L648.39,283.41L648.56,283.26L648.73,282.39L648.9,284.76L649.07,284.77L649.24,284.13L649.41,285.38L649.58,282.33L649.75,284.12L649.92,285.49L650.09,285.57L650.26,284.46L650.43,285.21L650.6,285.29L650.77,284.83L650.94,285.2L651.12,288.98L651.29,291.47L651.46,286.34L651.63,285.96L651.8,287.6L651.97,288L652.14,287.55L652.31,289.65L652.48,286.62L652.65,289.83L652.82,286.66L652.99,288.74L653.16,289.79L653.33,289.34L653.5,288.12L653.67,289.17L653.84,288.9L654.01,289.74L654.18,290.18L654.35,289.11L654.52,292.9L654.69,288.33L654.86,292.26L655.03,291.03L655.2,291.34L655.37,291.47L655.54,289.54L655.71,291.91L655.88,291.74L656.05,287.48L656.22,290.03L656.39,292.54L656.56,291.77L656.74,291.45L656.91,291.18L657.08,293.09L657.25,293.29L657.42,290.54L657.59,292.26L657.76,293.5L657.93,291.75L658.1,292.51L658.27,290.87L658.44,293.95L658.61,290.17L658.78,293.65L658.95,290.81L659.12,294.42L659.29,295.75L659.46,294.26L659.63,292.71L659.8,292.65L659.97,294.4L660.14,294.27L660.31,292.23L660.48,294.21L660.65,297.05L660.82,293.14L660.99,295.21L661.16,295.7L661.33,295.86L661.5,294.97L661.67,296.74L661.84,297.35L662.01,295.7L662.18,298.26L662.36,296.7L662.53,295.13L662.7,296.24L662.87,295.78L663.04,295.44L663.21,299.08L663.38,293.52L663.55,297.2L663.72,297.24L663.89,295.83L664.06,296.05L664.23,298.27L664.4,298.43L664.57,298.55L664.74,297.67L664.91,297.08L665.08,299.21L665.25,298.86L665.42,295L665.59,299.75L665.76,297.42L665.93,299.48L666.1,298.97L666.27,300.15L666.44,298.64L666.61,296.98L666.78,297.68L666.95,299.87L667.12,298.59L667.29,300.96L667.46,299.11L667.63,298.21L667.8,300.26L667.98,298.86L668.15,299.85L668.32,299.7L668.49,299.99L668.66,301.77L668.83,297.15L669,298.12L669.17,300.92L669.34,301.2L669.51,299.93L669.68,299.17L669.85,300.71L670.02,302.85L670.19,300.42L670.36,300.9L670.53,301.23L670.7,299.23L670.87,301.2L671.04,300.61L671.21,300.86L671.38,300.72L671.55,302.32L671.72,299.49L671.89,302.27L672.06,301.58L672.23,300.52L672.4,301.95L672.57,303.26L672.74,300.82L672.91,302.77L673.08,302.43L673.25,302.75L673.42,303.16L673.6,302.97L673.77,303.53L673.94,303.24L674.11,304.11L674.28,300.88L674.45,301.97L674.62,304.7L674.79,305.14L674.96,302.41L675.13,302.69L675.3,306.15L675.47,302.65L675.64,304.47L675.81,305.9L675.98,305.07L676.15,304.13L676.32,304.15L676.49,301.24L676.66,304.72L676.83,305.69L677,303.47L677.17,304.58L677.34,305.5L677.51,305.72L677.68,307.75L677.85,305.54L678.02,307.72L678.19,306.04L678.36,306.13L678.53,307.38L678.7,306.72L678.87,306.12L679.05,307.43L679.22,308.08L679.39,308.86L679.56,307.36L679.73,305.76L679.9,307.47L680.07,308.15L680.24,308.65L680.41,309.69L680.58,306.42L680.75,308.79L680.92,308.93L681.09,308.92L681.26,309.23L681.43,308.63L681.6,309.2L681.77,309L681.94,308.72L682.11,307.13L682.28,310.08L682.45,307.45L682.62,310.02L682.79,310.38L682.96,307.6L683.13,309.16L683.3,310.28L683.47,310.81L683.64,310.5" fill="none" stroke="#1d3f7f" stroke-width="0.8" stroke-linejoin="round" />
<path d="M577.54,323.55L577.71,316.93L577.88,308.42L578.05,301.36L578.23,294.13L578.4,293.42L578.57,290.56L578.74,292.51L578.91,287.83L579.08,289.28L579.25,286.33L579.42,287.11L579.59,288.31L579.76,287.54L579.93,287.05L580.1,284.92L580.27,287.87L580.44,285.62L580.61,284.04L580.78,283.51L580.95,285.3L581.12,285.92L581.29,287.46L581.46,284.24L581.63,284.43L581.8,289.56L581.97,287.45L582.14,284.8L582.31,286.02L582.48,284.11L582.65,284.61L582.82,284.94L582.99,285.25L583.16,283.02L583.33,283.23L583.5,284.96L583.67,282.56L583.85,284.18L584.02,285.89L584.19,284.79L584.36,286.35L584.53,283.62L584.7,283.34L584.87,283.69L585.04,286.29L585.21,285.07L585.38,286.99L585.55,284.55L585.72,282.95L585.89,284.04L586.06,283.45L586.23,283.85L586.4,285.3L586.57,284.54L586.74,284.84L586.91,283.1L587.08,282.89L587.25,285.14L587.42,284.87L587.59,282.82L587.76,283.06L587.93,284.14L588.1,281.66L588.27,284.56L588.44,282.82L588.61,283.45L588.78,281.98L588.95,283.89L589.12,281.96L589.29,282.6L589.47,286.62L589.64,284.47L589.81,282.74L589.98,284.44L590.15,282.25L590.32,283.62L590.49,286.05L590.66,283.29L590.83,283.11L591,282.7L591.17,283.17L591.34,283.05L591.51,283.29L591.68,285.01L591.85,282.42L592.02,284.13L592.19,286.94L592.36,287.47L592.53,283.55L592.7,284.36L592.87,284.43L593.04,286.62L593.21,285.12L593.38,285.36L593.55,288.18L593.72,286.79L593.89,286.69L594.06,289.55L594.23,288.58L594.4,286.9L594.57,286.02L594.74,287.1L594.91,287.65L595.09,287.45L595.26,286.77L595.43,288.37L595.6,287.22L595.77,286.97L595.94,287.54L596.11,286.65L596.28,288.31L596.45,287.9L596.62,290.37L596.79,289.5L596.96,285.28L597.13,290.59L597.3,291.61L597.47,289.29L597.64,288.99L597.81,287.65L597.98,288.77L598.15,289.05L598.32,291.02L598.49,287.77L598.66,288.19L598.83,288.46L599,290.34L599.17,289.62L599.34,291.6L599.51,291.42L599.68,290.03L599.85,290.4L600.02,292.14L600.19,291.98L600.36,290.3L600.53,290.61L600.71,292.33L600.88,291.74L601.05,294.13L601.22,291.86L601.39,292.55L601.56,292.18L601.73,292.46L601.9,290.79L602.07,292.17L602.24,293.09L602.41,292.42L602.58,293.24L602.75,294.56L602.92,293.68L603.09,296.69L603.26,293.14L603.43,293.87L603.6,293.12L603.77,295.16L603.94,294.61L604.11,294.41L604.28,295.07L604.45,296.39L604.62,294.26L604.79,295.41L604.96,292.06L605.13,294.05L605.3,293.76L605.47,292.9L605.64,295.07L605.81,292.34L605.98,293.78L606.15,291.37L606.33,292.18L606.5,291.29L606.67,292.99L606.84,293.79L607.01,292.08L607.18,293.32L607.35,291.69L607.52,291.77L607.69,291.66L607.86,291.89L608.03,289.88L608.2,287.97L608.37,292.02L608.54,291.4L608.71,290.17L608.88,286.06L609.05,290.19L609.22,286.55L609.39,289.3L609.56,288.65L609.73,288.34L609.9,289.53L610.07,286.72L610.24,287.66L610.41,289.15L610.58,285.95L610.75,285.91L610.92,286.66L611.09,285L611.26,285.19L611.43,286.97L611.6,282.81L611.77,285.16L611.95,285.14L612.12,282.42L612.29,283.72L612.46,284.68L612.63,282.78L612.8,285.14L612.97,281.09L613.14,285.61L613.31,282.19L613.48,284.01L613.65,282.22L613.82,282.86L613.99,282.67L614.16,280.95L614.33,280.15L614.5,280.98L614.67,280.34L614.84,281.42L615.01,280.87L615.18,279.13L615.35,282.1L615.52,279.3L615.69,281.94L615.86,281.02L616.03,281L616.2,282.35L616.37,280.67L616.54,281.15L616.71,279.57L616.88,280.82L617.05,280.17L617.22,281L617.39,278.89L617.57,281.55L617.74,282.63L617.91,283.81L618.08,283.25L618.25,282.33L618.42,282.63L618.59,280.05L618.76,282.8L618.93,282.82L619.1,281.1L619.27,281.76L619.44,282.1L619.61,285.35L619.78,284.23L619.95,284.27L620.12,281.86L620.29,281.61L620.46,284.07L620.63,282.51L620.8,281.95L620.97,283.37L621.14,282.96L621.31,281.24L621.48,281.69L621.65,282.88L621.82,280.88L621.99,280.22L622.16,279.99L622.33,279.44L622.5,278.39L622.67,278.74L622.84,277.67L623.02,276.25L623.19,276.67L623.36,275.57L623.53,274.5L623.7,271.44L623.87,272.9L624.04,269L624.21,271.59L624.38,271L624.55,268.99L624.72,267.95L624.89,267.46L625.06,266.45L625.23,266.45L625.4,265.18L625.57,264.81L625.74,265.58L625.91,265.61L626.08,264.32L626.25,262.88L626.42,260.38L626.59,261.02L626.76,257.33L626.93,259.05L627.1,259.55L627.27,259L627.44,257.39L627.61,255.32L627.78,255.98L627.95,254.67L628.12,255.23L628.29,255.61L628.46,256.67L628.64,252.34L628.81,252.43L628.98,250.01L629.15,249.42L629.32,250.72L629.49,248.63L629.66,248.9L629.83,249.65L630,248.57L630.17,247.82L630.34,246.5L630.51,248.94L630.68,249.33L630.85,249.22L631.02,246.35L631.19,248.5L631.36,248.93L631.53,249.57L631.7,249.47L631.87,249.55L632.04,250.7L632.21,248.79L632.38,247.06L632.55,249.2L632.72,249.73L632.89,247.98L633.06,248.27L633.23,246.41L633.4,247.63L633.57,243.8L633.74,245.98L633.91,243.46L634.08,244.88L634.26,243.75L634.43,242.41L634.6,242.78L634.77,238.84L634.94,242.98L635.11,238.67L635.28,240.27L635.45,237.72L635.62,238.07L635.79,236.48L635.96,235.71L636.13,236.89L636.3,235.44L636.47,238.21L636.64,236.2L636.81,234.03L636.98,234.12L637.15,234.72L637.32,236.84L637.49,236.29L637.66,239.34L637.83,238.84L638,240.39L638.17,240.97L638.34,242.38L638.51,240.65L638.68,241.27L638.85,245.14L639.02,243.99L639.19,244.36L639.36,245.05L639.53,247.07L639.7,247.59L639.88,247.75L640.05,250.78L640.22,249.86L640.39,253.27L640.56,252.55L640.73,251.91L640.9,254.08L641.07,255.41L641.24,258L641.41,256.92L641.58,256.72L641.75,258.07L641.92,260.75L642.09,260.44L642.26,262.93L642.43,262.78L642.6,265.68L642.77,266.85L642.94,267.11L643.11,266.47L643.28,267.99L643.45,266.31L643.62,268.85L643.79,268.07L643.96,269.39L644.13,270.5L644.3,270.35L644.47,271.97L644.64,273.79L644.81,275.34L644.98,276.09L645.15,276.05L645.32,274.94L645.5,274.96L645.67,279.55L645.84,278.98L646.01,278.31L646.18,280.5L646.35,278.36L646.52,280.41L646.69,280.77L646.86,282.07L647.03,281.76L647.2,280.14L647.37,284.31L647.54,279.14L647.71,282L647.88,283.24L648.05,282.04L648.22,284.77L648.39,283.41L648.56,283.26L648.73,282.39L648.9,284.76L649.07,284.77L649.24,284.13L649.41,285.38L649.58,282.33L649.75,284.12L649.92,285.49L650.09,285.57L650.26,284.46L650.43,285.21L650.6,285.29L650.77,284.83L650.94,285.2L651.12,288.98L651.29,291.47L651.46,286.34L651.63,285.96L651.8,287.6L651.97,288L652.14,287.55L652.31,289.65L652.48,286.62L652.65,289.83L652.82,286.66L652.99,288.74L653.16,289.79L653.33,289.34L653.5,288.12L653.67,289.17L653.84,288.9L654.01,289.74L654.18,290.18L654.35,289.11L654.52,292.9L654.69,288.33L654.86,292.26L655.03,291.03L655.2,291.34L655.37,291.47L655.54,289.54L655.71,291.91L655.88,291.74L656.05,287.48L656.22,290.03L656.39,292.54L656.56,291.77L656.74,291.45L656.91,291.18L657.08,293.09L657.25,293.29L657.42,290.54L657.59,292.26L657.76,293.5L657.93,291.75L658.1,292.51L658.27,290.87L658.44,293.95L658.61,290.17L658.78,293.65L658.95,290.81L659.12,294.42L659.29,295.75L659.46,294.26L659.63,292.71L659.8,292.65L659.97,294.4L660.14,294.27L660.31,292.23L660.48,294.21L660.65,297.05L660.82,293.14L660.99,295.21L661.16,295.7L661.33,295.86L661.5,294.97L661.67,296.74L661.84,297.35L662.01,295.7L662.18,298.26L662.36,296.7L662.53,295.13L662.7,296.24L662.87,295.78L663.04,295.44L663.21,299.08L663.38,293.52L663.55,297.2L663.72,297.24L663.89,295.83L664.06,296.05L664.23,298.27L664.4,298.43L664.57,298.55L664.74,297.67L664.91,297.08L665.08,299.21L665.25,298.86L665.42,295L665.59,299.75L665.76,297.42L665.93,299.48L666.1,298.97L666.27,300.15L666.44,298.64L666.61,296.98L666.78,297.68L666.95,299.87L667.12,298.59L667.29,300.96L667.46,299.11L667.63,298.21L667.8,300.26L667.98,298.86L668.15,299.85L668.32,299.7L668.49,299.99L668.66,301.77L668.83,297.15L669,298.12L669.17,300.92L669.34,301.2L669.51,299.93L669.68,299.17L669.85,300.71L670.02,302.85L670.19,300.42L670.36,300.9L670.53,301.23L670.7,299.23L670.87,301.2L671.04,300.61L671.21,300.86L671.38,300.72L671.55,302.32L671.72,299.49L671.89,302.27L672.06,301.58L672.23,300.52L672.4,301.95L672.57,303.26L672.74,300.82L672.91,302.77L673.08,302.43L673.25,302.75L673.42,303.16L673.6,302.97L673.77,303.53L673.94,303.24L674.11,304.11L674.28,300.88L674.45,301.97L674.62,304.7L674.79,305.14L674.96,302.41L675.13,302.69L675.3,306.15L675.47,302.65L675.64,304.47L675.81,305.9L675.98,305.07L676.15,304.13L676.32,304.15L676.49,301.24L676.66,304.72L676.83,305.69L677,303.47L677.17,304.58L677.34,305.5L677.51,305.72L677.68,307.75L677.85,305.54L678.02,307.72L678.19,306.04L678.36,306.13L678.53,307.38L678.7,306.72L678.87,306.12L679.05,307.43L679.22,308.08L679.39,308.86L679.56,307.36L679.73,305.76L679.9,307.47L680.07,308.15L680.24,308.65L680.41,309.69L680.58,306.42L680.75,308.79L680.92,308.93L681.09,308.92L681.26,309.23L681.43,308.63L681.6,309.2L681.77,309L681.94,308.72L682.11,307.13L682.28,310.08L682.45,307.45L682.62,310.02L682.79,310.38L682.96,307.6L683.13,309.16L683.3,310.28L683.47,310.81L683.64,310.5" fill="none" stroke="#1d3f7f" stroke-width="1.45" stroke-linejoin="round" />
</g>
<g clip-path="url(#hmf)">
<rect x="549.7" y="204.2" width="50.6" height="50.6" fill="#4436d4"/>
<path d="M568.2,230.2 L582.2,230.2 L578.2,256.8 L572.2,256.8 Z" fill="#3a7ff0" filter="url(#blf)" opacity="0.8"/>
<rect x="558.2" y="220.2" width="34" height="20" rx="9" fill="#2f8fe8" filter="url(#blf)"/>
<rect x="561.2" y="223.7" width="28" height="13" rx="6" fill="#25b0b8" filter="url(#blf)"/>
<rect x="563.2" y="225.2" width="24" height="10" rx="5" fill="#7cc850" filter="url(#bsf)"/>
<rect x="565.2" y="226.7" width="20" height="7" rx="3.5" fill="#f3c83a" filter="url(#bsf)"/>
<circle cx="568.2" cy="230.2" r="2.6" fill="#f8e630" filter="url(#bsf)"/>
<circle cx="581.7" cy="230.2" r="2.6" fill="#f8ec2c" filter="url(#bsf)"/>
</g>
<rect x="602" y="204.2" width="3.4" height="50.6" fill="url(#parula)"/>
<text x="606.9" y="206.2" font-size="3.5" text-anchor="start" font-family="Liberation Serif" >1</text>
<text x="606.9" y="256" font-size="3.5" text-anchor="start" font-family="Liberation Serif" >0</text>
<rect x="506.3" y="185.6" width="177.4" height="142.3" fill="none" stroke="#000" stroke-width="1.3"/>
<line x1="520.49" y1="327.9" x2="520.49" y2="330.9" stroke="#000" stroke-width="1.0" />
<line x1="548.88" y1="327.9" x2="548.88" y2="330.9" stroke="#000" stroke-width="1.0" />
<line x1="577.26" y1="327.9" x2="577.26" y2="330.9" stroke="#000" stroke-width="1.0" />
<line x1="605.64" y1="327.9" x2="605.64" y2="330.9" stroke="#000" stroke-width="1.0" />
<line x1="634.03" y1="327.9" x2="634.03" y2="330.9" stroke="#000" stroke-width="1.0" />
<line x1="662.41" y1="327.9" x2="662.41" y2="330.9" stroke="#000" stroke-width="1.0" />
<line x1="506.3" y1="327.9" x2="506.3" y2="329.9" stroke="#000" stroke-width="1.0" />
<line x1="520.49" y1="327.9" x2="520.49" y2="329.9" stroke="#000" stroke-width="1.0" />
<line x1="534.68" y1="327.9" x2="534.68" y2="329.9" stroke="#000" stroke-width="1.0" />
<line x1="548.88" y1="327.9" x2="548.88" y2="329.9" stroke="#000" stroke-width="1.0" />
<line x1="563.07" y1="327.9" x2="563.07" y2="329.9" stroke="#000" stroke-width="1.0" />
<line x1="577.26" y1="327.9" x2="577.26" y2="329.9" stroke="#000" stroke-width="1.0" />
<line x1="591.45" y1="327.9" x2="591.45" y2="329.9" stroke="#000" stroke-width="1.0" />
<line x1="605.64" y1="327.9" x2="605.64" y2="329.9" stroke="#000" stroke-width="1.0" />
<line x1="619.84" y1="327.9" x2="619.84" y2="329.9" stroke="#000" stroke-width="1.0" />
<line x1="634.03" y1="327.9" x2="634.03" y2="329.9" stroke="#000" stroke-width="1.0" />
<line x1="648.22" y1="327.9" x2="648.22" y2="329.9" stroke="#000" stroke-width="1.0" />
<line x1="662.41" y1="327.9" x2="662.41" y2="329.9" stroke="#000" stroke-width="1.0" />
<line x1="676.6" y1="327.9" x2="676.6" y2="329.9" stroke="#000" stroke-width="1.0" />
<line x1="506.3" y1="203.39" x2="503.3" y2="203.39" stroke="#000" stroke-width="1.0" />
<line x1="506.3" y1="238.96" x2="503.3" y2="238.96" stroke="#000" stroke-width="1.0" />
<line x1="506.3" y1="274.54" x2="503.3" y2="274.54" stroke="#000" stroke-width="1.0" />
<line x1="506.3" y1="310.11" x2="503.3" y2="310.11" stroke="#000" stroke-width="1.0" />
<line x1="506.3" y1="185.6" x2="504.3" y2="185.6" stroke="#000" stroke-width="1.0" />
<line x1="506.3" y1="221.17" x2="504.3" y2="221.17" stroke="#000" stroke-width="1.0" />
<line x1="506.3" y1="256.75" x2="504.3" y2="256.75" stroke="#000" stroke-width="1.0" />
<line x1="506.3" y1="292.32" x2="504.3" y2="292.32" stroke="#000" stroke-width="1.0" />
<line x1="506.3" y1="327.9" x2="504.3" y2="327.9" stroke="#000" stroke-width="1.0" />
<text x="521.34" y="342.3" font-size="11.6" text-anchor="middle" font-family="Liberation Serif" >1060</text>
<text x="549.73" y="342.3" font-size="11.6" text-anchor="middle" font-family="Liberation Serif" >1080</text>
<text x="578.11" y="342.3" font-size="11.6" text-anchor="middle" font-family="Liberation Serif" >1100</text>
<text x="606.49" y="342.3" font-size="11.6" text-anchor="middle" font-family="Liberation Serif" >1120</text>
<text x="634.88" y="342.3" font-size="11.6" text-anchor="middle" font-family="Liberation Serif" >1140</text>
<text x="663.26" y="342.3" font-size="11.6" text-anchor="middle" font-family="Liberation Serif" >1160</text>
<text x="501.7" y="207.26" font-size="11.4" text-anchor="end" font-family="Liberation Serif" >&#8722;20</text>
<text x="501.7" y="242.84" font-size="11.4" text-anchor="end" font-family="Liberation Serif" >&#8722;40</text>
<text x="501.7" y="278.41" font-size="11.4" text-anchor="end" font-family="Liberation Serif" >&#8722;60</text>
<text x="501.7" y="313.99" font-size="11.4" text-anchor="end" font-family="Liberation Serif" >&#8722;80</text>
<text x="595" y="351.5" font-size="11.5" text-anchor="middle" font-family="Liberation Serif" >Wavelength (nm)</text>
<text transform="translate(479.7,256) rotate(-90)" font-size="11.5" text-anchor="middle" font-family="Liberation Serif">Intensity (dBm)</text>
<line x1="509" y1="192.4" x2="531.8" y2="192.4" stroke="#1d3f7f" stroke-width="1" />
<text x="534.7" y="195.3" font-size="10" text-anchor="start" font-family="Liberation Serif" >Raman light</text>
<text x="628.9" y="195.3" font-size="10" font-family="Liberation Serif"><tspan font-style="italic">P</tspan><tspan font-size="6.5" dy="2.2">in</tspan><tspan dy="-2.2"> = 2259 W</tspan></text>
<text x="487.6" y="185.2" font-size="11.8" text-anchor="start" font-family="Liberation Sans" >f</text>
</svg>
</body></html>
